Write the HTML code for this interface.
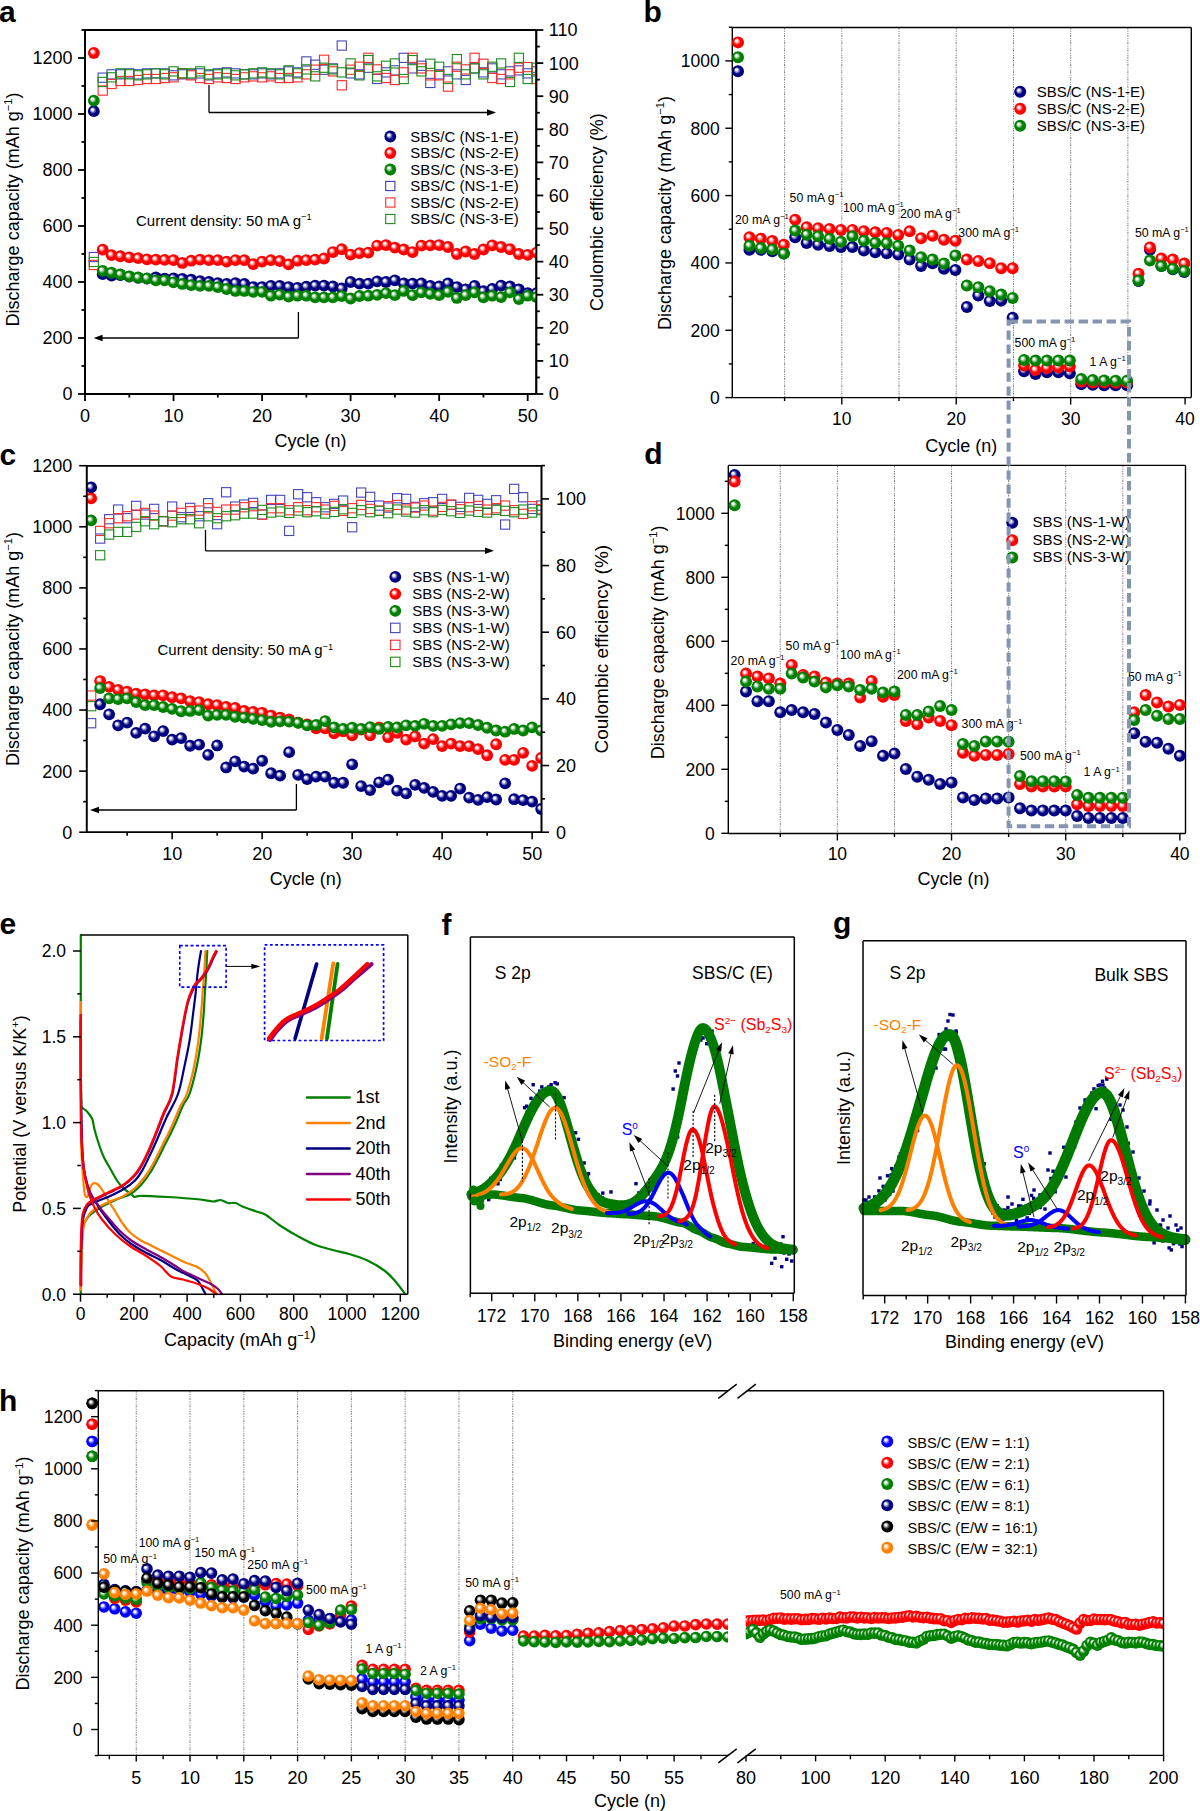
<!DOCTYPE html><html><head><meta charset="utf-8"><title>Figure</title><style>html,body{margin:0;padding:0;background:#fff;}body{width:1200px;height:1811px;overflow:hidden;font-family:"Liberation Sans", sans-serif;}svg{display:block;}</style></head><body><svg width="1200" height="1811" viewBox="0 0 1200 1811" font-family='"Liberation Sans", sans-serif'><defs><radialGradient id="g_red" cx="0.5" cy="0.5" r="0.5" fx="0.34" fy="0.34"><stop offset="0" stop-color="#ffffff"/><stop offset="0.15" stop-color="#ffffff"/><stop offset="0.58" stop-color="#ff0000"/><stop offset="1" stop-color="#ff0000"/></radialGradient><radialGradient id="g_green" cx="0.5" cy="0.5" r="0.5" fx="0.34" fy="0.34"><stop offset="0" stop-color="#ffffff"/><stop offset="0.15" stop-color="#ffffff"/><stop offset="0.58" stop-color="#008000"/><stop offset="1" stop-color="#008000"/></radialGradient><radialGradient id="g_navy" cx="0.5" cy="0.5" r="0.5" fx="0.34" fy="0.34"><stop offset="0" stop-color="#ffffff"/><stop offset="0.15" stop-color="#ffffff"/><stop offset="0.58" stop-color="#000080"/><stop offset="1" stop-color="#000080"/></radialGradient><radialGradient id="g_blue" cx="0.5" cy="0.5" r="0.5" fx="0.34" fy="0.34"><stop offset="0" stop-color="#ffffff"/><stop offset="0.15" stop-color="#ffffff"/><stop offset="0.58" stop-color="#0000ff"/><stop offset="1" stop-color="#0000ff"/></radialGradient><radialGradient id="g_black" cx="0.5" cy="0.5" r="0.5" fx="0.34" fy="0.34"><stop offset="0" stop-color="#ffffff"/><stop offset="0.15" stop-color="#ffffff"/><stop offset="0.58" stop-color="#000000"/><stop offset="1" stop-color="#000000"/></radialGradient><radialGradient id="g_orange" cx="0.5" cy="0.5" r="0.5" fx="0.34" fy="0.34"><stop offset="0" stop-color="#ffffff"/><stop offset="0.15" stop-color="#ffffff"/><stop offset="0.58" stop-color="#ff8000"/><stop offset="1" stop-color="#ff8000"/></radialGradient><clipPath id="clipA"><rect x="85" y="30" width="451.3" height="364"/></clipPath><clipPath id="clipC"><rect x="86.7" y="465.8" width="454.8" height="366.4"/></clipPath><clipPath id="clipL"><rect x="0" y="1390.8" width="728.0" height="364.60000000000014"/></clipPath><clipPath id="clipR"><rect x="745.8" y="1390.8" width="417.70000000000005" height="364.60000000000014"/></clipPath></defs><line x1="85" y1="30" x2="536.3" y2="30" stroke="#000" stroke-width="1.8" />
<line x1="85" y1="394" x2="536.3" y2="394" stroke="#000" stroke-width="1.8" />
<line x1="85" y1="30" x2="85" y2="394" stroke="#000" stroke-width="1.8" />
<line x1="536.3" y1="30" x2="536.3" y2="394" stroke="#000" stroke-width="1.8" />
<line x1="85" y1="394" x2="78" y2="394" stroke="#000" stroke-width="1.8" />
<text x="72.5" y="400.4" font-size="18" text-anchor="end" fill="#000" font-weight="normal" >0</text>
<line x1="85" y1="338" x2="78" y2="338" stroke="#000" stroke-width="1.8" />
<text x="72.5" y="344.4" font-size="18" text-anchor="end" fill="#000" font-weight="normal" >200</text>
<line x1="85" y1="282" x2="78" y2="282" stroke="#000" stroke-width="1.8" />
<text x="72.5" y="288.4" font-size="18" text-anchor="end" fill="#000" font-weight="normal" >400</text>
<line x1="85" y1="226" x2="78" y2="226" stroke="#000" stroke-width="1.8" />
<text x="72.5" y="232.4" font-size="18" text-anchor="end" fill="#000" font-weight="normal" >600</text>
<line x1="85" y1="170" x2="78" y2="170" stroke="#000" stroke-width="1.8" />
<text x="72.5" y="176.4" font-size="18" text-anchor="end" fill="#000" font-weight="normal" >800</text>
<line x1="85" y1="114" x2="78" y2="114" stroke="#000" stroke-width="1.8" />
<text x="72.5" y="120.4" font-size="18" text-anchor="end" fill="#000" font-weight="normal" >1000</text>
<line x1="85" y1="58" x2="78" y2="58" stroke="#000" stroke-width="1.8" />
<text x="72.5" y="64.4" font-size="18" text-anchor="end" fill="#000" font-weight="normal" >1200</text>
<line x1="85" y1="366" x2="81.5" y2="366" stroke="#000" stroke-width="1.8" />
<line x1="85" y1="310" x2="81.5" y2="310" stroke="#000" stroke-width="1.8" />
<line x1="85" y1="254" x2="81.5" y2="254" stroke="#000" stroke-width="1.8" />
<line x1="85" y1="198" x2="81.5" y2="198" stroke="#000" stroke-width="1.8" />
<line x1="85" y1="142" x2="81.5" y2="142" stroke="#000" stroke-width="1.8" />
<line x1="85" y1="86" x2="81.5" y2="86" stroke="#000" stroke-width="1.8" />
<line x1="85" y1="30" x2="81.5" y2="30" stroke="#000" stroke-width="1.8" />
<line x1="536.3" y1="394" x2="543.3" y2="394" stroke="#000" stroke-width="1.8" />
<text x="548.8" y="400.4" font-size="18" text-anchor="start" fill="#000" font-weight="normal" >0</text>
<line x1="536.3" y1="360.91" x2="543.3" y2="360.91" stroke="#000" stroke-width="1.8" />
<text x="548.8" y="367.31" font-size="18" text-anchor="start" fill="#000" font-weight="normal" >10</text>
<line x1="536.3" y1="327.82" x2="543.3" y2="327.82" stroke="#000" stroke-width="1.8" />
<text x="548.8" y="334.22" font-size="18" text-anchor="start" fill="#000" font-weight="normal" >20</text>
<line x1="536.3" y1="294.73" x2="543.3" y2="294.73" stroke="#000" stroke-width="1.8" />
<text x="548.8" y="301.13" font-size="18" text-anchor="start" fill="#000" font-weight="normal" >30</text>
<line x1="536.3" y1="261.64" x2="543.3" y2="261.64" stroke="#000" stroke-width="1.8" />
<text x="548.8" y="268.04" font-size="18" text-anchor="start" fill="#000" font-weight="normal" >40</text>
<line x1="536.3" y1="228.55" x2="543.3" y2="228.55" stroke="#000" stroke-width="1.8" />
<text x="548.8" y="234.95" font-size="18" text-anchor="start" fill="#000" font-weight="normal" >50</text>
<line x1="536.3" y1="195.46" x2="543.3" y2="195.46" stroke="#000" stroke-width="1.8" />
<text x="548.8" y="201.86" font-size="18" text-anchor="start" fill="#000" font-weight="normal" >60</text>
<line x1="536.3" y1="162.37" x2="543.3" y2="162.37" stroke="#000" stroke-width="1.8" />
<text x="548.8" y="168.77" font-size="18" text-anchor="start" fill="#000" font-weight="normal" >70</text>
<line x1="536.3" y1="129.28" x2="543.3" y2="129.28" stroke="#000" stroke-width="1.8" />
<text x="548.8" y="135.68" font-size="18" text-anchor="start" fill="#000" font-weight="normal" >80</text>
<line x1="536.3" y1="96.19" x2="543.3" y2="96.19" stroke="#000" stroke-width="1.8" />
<text x="548.8" y="102.59" font-size="18" text-anchor="start" fill="#000" font-weight="normal" >90</text>
<line x1="536.3" y1="63.1" x2="543.3" y2="63.1" stroke="#000" stroke-width="1.8" />
<text x="548.8" y="69.5" font-size="18" text-anchor="start" fill="#000" font-weight="normal" >100</text>
<line x1="536.3" y1="30.01" x2="543.3" y2="30.01" stroke="#000" stroke-width="1.8" />
<text x="548.8" y="36.41" font-size="18" text-anchor="start" fill="#000" font-weight="normal" >110</text>
<line x1="536.3" y1="377.45" x2="539.8" y2="377.45" stroke="#000" stroke-width="1.8" />
<line x1="536.3" y1="344.37" x2="539.8" y2="344.37" stroke="#000" stroke-width="1.8" />
<line x1="536.3" y1="311.27" x2="539.8" y2="311.27" stroke="#000" stroke-width="1.8" />
<line x1="536.3" y1="278.19" x2="539.8" y2="278.19" stroke="#000" stroke-width="1.8" />
<line x1="536.3" y1="245.09" x2="539.8" y2="245.09" stroke="#000" stroke-width="1.8" />
<line x1="536.3" y1="212" x2="539.8" y2="212" stroke="#000" stroke-width="1.8" />
<line x1="536.3" y1="178.91" x2="539.8" y2="178.91" stroke="#000" stroke-width="1.8" />
<line x1="536.3" y1="145.82" x2="539.8" y2="145.82" stroke="#000" stroke-width="1.8" />
<line x1="536.3" y1="112.74" x2="539.8" y2="112.74" stroke="#000" stroke-width="1.8" />
<line x1="536.3" y1="79.64" x2="539.8" y2="79.64" stroke="#000" stroke-width="1.8" />
<line x1="536.3" y1="46.56" x2="539.8" y2="46.56" stroke="#000" stroke-width="1.8" />
<line x1="85" y1="394" x2="85" y2="401" stroke="#000" stroke-width="1.8" />
<text x="85" y="421.5" font-size="18" text-anchor="middle" fill="#000" font-weight="normal" >0</text>
<line x1="173.54" y1="394" x2="173.54" y2="401" stroke="#000" stroke-width="1.8" />
<text x="173.54" y="421.5" font-size="18" text-anchor="middle" fill="#000" font-weight="normal" >10</text>
<line x1="262.08" y1="394" x2="262.08" y2="401" stroke="#000" stroke-width="1.8" />
<text x="262.08" y="421.5" font-size="18" text-anchor="middle" fill="#000" font-weight="normal" >20</text>
<line x1="350.62" y1="394" x2="350.62" y2="401" stroke="#000" stroke-width="1.8" />
<text x="350.62" y="421.5" font-size="18" text-anchor="middle" fill="#000" font-weight="normal" >30</text>
<line x1="439.16" y1="394" x2="439.16" y2="401" stroke="#000" stroke-width="1.8" />
<text x="439.16" y="421.5" font-size="18" text-anchor="middle" fill="#000" font-weight="normal" >40</text>
<line x1="527.7" y1="394" x2="527.7" y2="401" stroke="#000" stroke-width="1.8" />
<text x="527.7" y="421.5" font-size="18" text-anchor="middle" fill="#000" font-weight="normal" >50</text>
<line x1="129.27" y1="394" x2="129.27" y2="397.5" stroke="#000" stroke-width="1.8" />
<line x1="217.81" y1="394" x2="217.81" y2="397.5" stroke="#000" stroke-width="1.8" />
<line x1="306.35" y1="394" x2="306.35" y2="397.5" stroke="#000" stroke-width="1.8" />
<line x1="394.89" y1="394" x2="394.89" y2="397.5" stroke="#000" stroke-width="1.8" />
<line x1="483.43" y1="394" x2="483.43" y2="397.5" stroke="#000" stroke-width="1.8" />
<text x="310.5" y="446.5" font-size="18" text-anchor="middle" fill="#000" font-weight="normal" >Cycle (n)</text>
<text x="18.7" y="209.5" font-size="18" text-anchor="middle" fill="#000" font-weight="normal" transform="rotate(-90 18.7 209.5)" >Discharge capacity (mAh g<tspan font-size="11.16" dy="-6.84">−1</tspan><tspan dy="6.84">)</tspan></text>
<text x="603.5" y="212.2" font-size="18" text-anchor="middle" fill="#000" font-weight="normal" transform="rotate(-90 603.5 212.2)" >Coulombic efficiency (%)</text>
<text x="-1" y="22" font-size="30" text-anchor="start" fill="#000" font-weight="bold" >a</text>
<g clip-path="url(#clipA)">
<rect x="89.25" y="252.41" width="9.2" height="9.2" fill="none" stroke="#4646bb" stroke-width="1.1"/>
<rect x="98.11" y="73.06" width="9.2" height="9.2" fill="none" stroke="#4646bb" stroke-width="1.1"/>
<rect x="106.96" y="69.75" width="9.2" height="9.2" fill="none" stroke="#4646bb" stroke-width="1.1"/>
<rect x="115.82" y="69.75" width="9.2" height="9.2" fill="none" stroke="#4646bb" stroke-width="1.1"/>
<rect x="124.67" y="68.76" width="9.2" height="9.2" fill="none" stroke="#4646bb" stroke-width="1.1"/>
<rect x="133.52" y="69.75" width="9.2" height="9.2" fill="none" stroke="#4646bb" stroke-width="1.1"/>
<rect x="142.38" y="68.76" width="9.2" height="9.2" fill="none" stroke="#4646bb" stroke-width="1.1"/>
<rect x="151.23" y="68.76" width="9.2" height="9.2" fill="none" stroke="#4646bb" stroke-width="1.1"/>
<rect x="160.09" y="68.76" width="9.2" height="9.2" fill="none" stroke="#4646bb" stroke-width="1.1"/>
<rect x="168.94" y="70.74" width="9.2" height="9.2" fill="none" stroke="#4646bb" stroke-width="1.1"/>
<rect x="177.79" y="69.75" width="9.2" height="9.2" fill="none" stroke="#4646bb" stroke-width="1.1"/>
<rect x="186.65" y="69.75" width="9.2" height="9.2" fill="none" stroke="#4646bb" stroke-width="1.1"/>
<rect x="195.5" y="68.76" width="9.2" height="9.2" fill="none" stroke="#4646bb" stroke-width="1.1"/>
<rect x="204.36" y="70.74" width="9.2" height="9.2" fill="none" stroke="#4646bb" stroke-width="1.1"/>
<rect x="213.21" y="68.76" width="9.2" height="9.2" fill="none" stroke="#4646bb" stroke-width="1.1"/>
<rect x="222.06" y="67.77" width="9.2" height="9.2" fill="none" stroke="#4646bb" stroke-width="1.1"/>
<rect x="230.92" y="68.76" width="9.2" height="9.2" fill="none" stroke="#4646bb" stroke-width="1.1"/>
<rect x="239.77" y="69.75" width="9.2" height="9.2" fill="none" stroke="#4646bb" stroke-width="1.1"/>
<rect x="248.63" y="69.75" width="9.2" height="9.2" fill="none" stroke="#4646bb" stroke-width="1.1"/>
<rect x="257.48" y="68.76" width="9.2" height="9.2" fill="none" stroke="#4646bb" stroke-width="1.1"/>
<rect x="266.33" y="69.75" width="9.2" height="9.2" fill="none" stroke="#4646bb" stroke-width="1.1"/>
<rect x="275.19" y="68.76" width="9.2" height="9.2" fill="none" stroke="#4646bb" stroke-width="1.1"/>
<rect x="284.04" y="66.77" width="9.2" height="9.2" fill="none" stroke="#4646bb" stroke-width="1.1"/>
<rect x="292.9" y="67.77" width="9.2" height="9.2" fill="none" stroke="#4646bb" stroke-width="1.1"/>
<rect x="301.75" y="56.85" width="9.2" height="9.2" fill="none" stroke="#4646bb" stroke-width="1.1"/>
<rect x="310.6" y="60.15" width="9.2" height="9.2" fill="none" stroke="#4646bb" stroke-width="1.1"/>
<rect x="319.46" y="65.12" width="9.2" height="9.2" fill="none" stroke="#4646bb" stroke-width="1.1"/>
<rect x="328.31" y="63.79" width="9.2" height="9.2" fill="none" stroke="#4646bb" stroke-width="1.1"/>
<rect x="337.17" y="40.96" width="9.2" height="9.2" fill="none" stroke="#4646bb" stroke-width="1.1"/>
<rect x="346.02" y="68.76" width="9.2" height="9.2" fill="none" stroke="#4646bb" stroke-width="1.1"/>
<rect x="354.87" y="69.75" width="9.2" height="9.2" fill="none" stroke="#4646bb" stroke-width="1.1"/>
<rect x="363.73" y="63.13" width="9.2" height="9.2" fill="none" stroke="#4646bb" stroke-width="1.1"/>
<rect x="372.58" y="74.38" width="9.2" height="9.2" fill="none" stroke="#4646bb" stroke-width="1.1"/>
<rect x="381.44" y="67.77" width="9.2" height="9.2" fill="none" stroke="#4646bb" stroke-width="1.1"/>
<rect x="390.29" y="65.78" width="9.2" height="9.2" fill="none" stroke="#4646bb" stroke-width="1.1"/>
<rect x="399.14" y="53.21" width="9.2" height="9.2" fill="none" stroke="#4646bb" stroke-width="1.1"/>
<rect x="408" y="63.79" width="9.2" height="9.2" fill="none" stroke="#4646bb" stroke-width="1.1"/>
<rect x="416.85" y="61.15" width="9.2" height="9.2" fill="none" stroke="#4646bb" stroke-width="1.1"/>
<rect x="425.71" y="78.35" width="9.2" height="9.2" fill="none" stroke="#4646bb" stroke-width="1.1"/>
<rect x="434.56" y="69.75" width="9.2" height="9.2" fill="none" stroke="#4646bb" stroke-width="1.1"/>
<rect x="443.41" y="66.77" width="9.2" height="9.2" fill="none" stroke="#4646bb" stroke-width="1.1"/>
<rect x="452.27" y="69.75" width="9.2" height="9.2" fill="none" stroke="#4646bb" stroke-width="1.1"/>
<rect x="461.12" y="75.38" width="9.2" height="9.2" fill="none" stroke="#4646bb" stroke-width="1.1"/>
<rect x="469.98" y="63.79" width="9.2" height="9.2" fill="none" stroke="#4646bb" stroke-width="1.1"/>
<rect x="478.83" y="67.77" width="9.2" height="9.2" fill="none" stroke="#4646bb" stroke-width="1.1"/>
<rect x="487.68" y="63.79" width="9.2" height="9.2" fill="none" stroke="#4646bb" stroke-width="1.1"/>
<rect x="496.54" y="69.75" width="9.2" height="9.2" fill="none" stroke="#4646bb" stroke-width="1.1"/>
<rect x="505.39" y="66.77" width="9.2" height="9.2" fill="none" stroke="#4646bb" stroke-width="1.1"/>
<rect x="514.25" y="65.78" width="9.2" height="9.2" fill="none" stroke="#4646bb" stroke-width="1.1"/>
<rect x="523.1" y="68.76" width="9.2" height="9.2" fill="none" stroke="#4646bb" stroke-width="1.1"/>
<rect x="531.95" y="66.77" width="9.2" height="9.2" fill="none" stroke="#4646bb" stroke-width="1.1"/>
<rect x="89.25" y="260.35" width="9.2" height="9.2" fill="none" stroke="#ff2a2a" stroke-width="1.1"/>
<rect x="98.11" y="85.96" width="9.2" height="9.2" fill="none" stroke="#ff2a2a" stroke-width="1.1"/>
<rect x="106.96" y="79.35" width="9.2" height="9.2" fill="none" stroke="#ff2a2a" stroke-width="1.1"/>
<rect x="115.82" y="76.37" width="9.2" height="9.2" fill="none" stroke="#ff2a2a" stroke-width="1.1"/>
<rect x="124.67" y="76.37" width="9.2" height="9.2" fill="none" stroke="#ff2a2a" stroke-width="1.1"/>
<rect x="133.52" y="75.38" width="9.2" height="9.2" fill="none" stroke="#ff2a2a" stroke-width="1.1"/>
<rect x="142.38" y="74.38" width="9.2" height="9.2" fill="none" stroke="#ff2a2a" stroke-width="1.1"/>
<rect x="151.23" y="74.38" width="9.2" height="9.2" fill="none" stroke="#ff2a2a" stroke-width="1.1"/>
<rect x="160.09" y="73.39" width="9.2" height="9.2" fill="none" stroke="#ff2a2a" stroke-width="1.1"/>
<rect x="168.94" y="72.73" width="9.2" height="9.2" fill="none" stroke="#ff2a2a" stroke-width="1.1"/>
<rect x="177.79" y="68.76" width="9.2" height="9.2" fill="none" stroke="#ff2a2a" stroke-width="1.1"/>
<rect x="186.65" y="70.74" width="9.2" height="9.2" fill="none" stroke="#ff2a2a" stroke-width="1.1"/>
<rect x="195.5" y="73.39" width="9.2" height="9.2" fill="none" stroke="#ff2a2a" stroke-width="1.1"/>
<rect x="204.36" y="74.38" width="9.2" height="9.2" fill="none" stroke="#ff2a2a" stroke-width="1.1"/>
<rect x="213.21" y="72.73" width="9.2" height="9.2" fill="none" stroke="#ff2a2a" stroke-width="1.1"/>
<rect x="222.06" y="73.39" width="9.2" height="9.2" fill="none" stroke="#ff2a2a" stroke-width="1.1"/>
<rect x="230.92" y="74.38" width="9.2" height="9.2" fill="none" stroke="#ff2a2a" stroke-width="1.1"/>
<rect x="239.77" y="72.73" width="9.2" height="9.2" fill="none" stroke="#ff2a2a" stroke-width="1.1"/>
<rect x="248.63" y="71.74" width="9.2" height="9.2" fill="none" stroke="#ff2a2a" stroke-width="1.1"/>
<rect x="257.48" y="72.73" width="9.2" height="9.2" fill="none" stroke="#ff2a2a" stroke-width="1.1"/>
<rect x="266.33" y="71.74" width="9.2" height="9.2" fill="none" stroke="#ff2a2a" stroke-width="1.1"/>
<rect x="275.19" y="73.39" width="9.2" height="9.2" fill="none" stroke="#ff2a2a" stroke-width="1.1"/>
<rect x="284.04" y="73.39" width="9.2" height="9.2" fill="none" stroke="#ff2a2a" stroke-width="1.1"/>
<rect x="292.9" y="72.73" width="9.2" height="9.2" fill="none" stroke="#ff2a2a" stroke-width="1.1"/>
<rect x="301.75" y="69.75" width="9.2" height="9.2" fill="none" stroke="#ff2a2a" stroke-width="1.1"/>
<rect x="310.6" y="65.12" width="9.2" height="9.2" fill="none" stroke="#ff2a2a" stroke-width="1.1"/>
<rect x="319.46" y="55.19" width="9.2" height="9.2" fill="none" stroke="#ff2a2a" stroke-width="1.1"/>
<rect x="328.31" y="66.77" width="9.2" height="9.2" fill="none" stroke="#ff2a2a" stroke-width="1.1"/>
<rect x="337.17" y="80.67" width="9.2" height="9.2" fill="none" stroke="#ff2a2a" stroke-width="1.1"/>
<rect x="346.02" y="65.12" width="9.2" height="9.2" fill="none" stroke="#ff2a2a" stroke-width="1.1"/>
<rect x="354.87" y="62.14" width="9.2" height="9.2" fill="none" stroke="#ff2a2a" stroke-width="1.1"/>
<rect x="363.73" y="53.21" width="9.2" height="9.2" fill="none" stroke="#ff2a2a" stroke-width="1.1"/>
<rect x="372.58" y="64.79" width="9.2" height="9.2" fill="none" stroke="#ff2a2a" stroke-width="1.1"/>
<rect x="381.44" y="73.39" width="9.2" height="9.2" fill="none" stroke="#ff2a2a" stroke-width="1.1"/>
<rect x="390.29" y="75.38" width="9.2" height="9.2" fill="none" stroke="#ff2a2a" stroke-width="1.1"/>
<rect x="399.14" y="67.77" width="9.2" height="9.2" fill="none" stroke="#ff2a2a" stroke-width="1.1"/>
<rect x="408" y="53.21" width="9.2" height="9.2" fill="none" stroke="#ff2a2a" stroke-width="1.1"/>
<rect x="416.85" y="63.79" width="9.2" height="9.2" fill="none" stroke="#ff2a2a" stroke-width="1.1"/>
<rect x="425.71" y="70.74" width="9.2" height="9.2" fill="none" stroke="#ff2a2a" stroke-width="1.1"/>
<rect x="434.56" y="70.74" width="9.2" height="9.2" fill="none" stroke="#ff2a2a" stroke-width="1.1"/>
<rect x="443.41" y="81.99" width="9.2" height="9.2" fill="none" stroke="#ff2a2a" stroke-width="1.1"/>
<rect x="452.27" y="62.14" width="9.2" height="9.2" fill="none" stroke="#ff2a2a" stroke-width="1.1"/>
<rect x="461.12" y="64.79" width="9.2" height="9.2" fill="none" stroke="#ff2a2a" stroke-width="1.1"/>
<rect x="469.98" y="53.21" width="9.2" height="9.2" fill="none" stroke="#ff2a2a" stroke-width="1.1"/>
<rect x="478.83" y="59.16" width="9.2" height="9.2" fill="none" stroke="#ff2a2a" stroke-width="1.1"/>
<rect x="487.68" y="73.39" width="9.2" height="9.2" fill="none" stroke="#ff2a2a" stroke-width="1.1"/>
<rect x="496.54" y="74.38" width="9.2" height="9.2" fill="none" stroke="#ff2a2a" stroke-width="1.1"/>
<rect x="505.39" y="69.75" width="9.2" height="9.2" fill="none" stroke="#ff2a2a" stroke-width="1.1"/>
<rect x="514.25" y="63.13" width="9.2" height="9.2" fill="none" stroke="#ff2a2a" stroke-width="1.1"/>
<rect x="523.1" y="62.47" width="9.2" height="9.2" fill="none" stroke="#ff2a2a" stroke-width="1.1"/>
<rect x="531.95" y="74.38" width="9.2" height="9.2" fill="none" stroke="#ff2a2a" stroke-width="1.1"/>
<rect x="89.25" y="257.37" width="9.2" height="9.2" fill="none" stroke="#1e8c1e" stroke-width="1.1"/>
<rect x="98.11" y="77.36" width="9.2" height="9.2" fill="none" stroke="#1e8c1e" stroke-width="1.1"/>
<rect x="106.96" y="72.73" width="9.2" height="9.2" fill="none" stroke="#1e8c1e" stroke-width="1.1"/>
<rect x="115.82" y="68.76" width="9.2" height="9.2" fill="none" stroke="#1e8c1e" stroke-width="1.1"/>
<rect x="124.67" y="69.75" width="9.2" height="9.2" fill="none" stroke="#1e8c1e" stroke-width="1.1"/>
<rect x="133.52" y="70.74" width="9.2" height="9.2" fill="none" stroke="#1e8c1e" stroke-width="1.1"/>
<rect x="142.38" y="69.75" width="9.2" height="9.2" fill="none" stroke="#1e8c1e" stroke-width="1.1"/>
<rect x="151.23" y="68.76" width="9.2" height="9.2" fill="none" stroke="#1e8c1e" stroke-width="1.1"/>
<rect x="160.09" y="69.75" width="9.2" height="9.2" fill="none" stroke="#1e8c1e" stroke-width="1.1"/>
<rect x="168.94" y="66.77" width="9.2" height="9.2" fill="none" stroke="#1e8c1e" stroke-width="1.1"/>
<rect x="177.79" y="68.76" width="9.2" height="9.2" fill="none" stroke="#1e8c1e" stroke-width="1.1"/>
<rect x="186.65" y="68.76" width="9.2" height="9.2" fill="none" stroke="#1e8c1e" stroke-width="1.1"/>
<rect x="195.5" y="66.77" width="9.2" height="9.2" fill="none" stroke="#1e8c1e" stroke-width="1.1"/>
<rect x="204.36" y="69.75" width="9.2" height="9.2" fill="none" stroke="#1e8c1e" stroke-width="1.1"/>
<rect x="213.21" y="69.75" width="9.2" height="9.2" fill="none" stroke="#1e8c1e" stroke-width="1.1"/>
<rect x="222.06" y="68.76" width="9.2" height="9.2" fill="none" stroke="#1e8c1e" stroke-width="1.1"/>
<rect x="230.92" y="70.74" width="9.2" height="9.2" fill="none" stroke="#1e8c1e" stroke-width="1.1"/>
<rect x="239.77" y="69.75" width="9.2" height="9.2" fill="none" stroke="#1e8c1e" stroke-width="1.1"/>
<rect x="248.63" y="68.76" width="9.2" height="9.2" fill="none" stroke="#1e8c1e" stroke-width="1.1"/>
<rect x="257.48" y="67.77" width="9.2" height="9.2" fill="none" stroke="#1e8c1e" stroke-width="1.1"/>
<rect x="266.33" y="68.76" width="9.2" height="9.2" fill="none" stroke="#1e8c1e" stroke-width="1.1"/>
<rect x="275.19" y="69.75" width="9.2" height="9.2" fill="none" stroke="#1e8c1e" stroke-width="1.1"/>
<rect x="284.04" y="65.78" width="9.2" height="9.2" fill="none" stroke="#1e8c1e" stroke-width="1.1"/>
<rect x="292.9" y="68.76" width="9.2" height="9.2" fill="none" stroke="#1e8c1e" stroke-width="1.1"/>
<rect x="301.75" y="64.79" width="9.2" height="9.2" fill="none" stroke="#1e8c1e" stroke-width="1.1"/>
<rect x="310.6" y="71.74" width="9.2" height="9.2" fill="none" stroke="#1e8c1e" stroke-width="1.1"/>
<rect x="319.46" y="63.13" width="9.2" height="9.2" fill="none" stroke="#1e8c1e" stroke-width="1.1"/>
<rect x="328.31" y="64.79" width="9.2" height="9.2" fill="none" stroke="#1e8c1e" stroke-width="1.1"/>
<rect x="337.17" y="67.77" width="9.2" height="9.2" fill="none" stroke="#1e8c1e" stroke-width="1.1"/>
<rect x="346.02" y="58.83" width="9.2" height="9.2" fill="none" stroke="#1e8c1e" stroke-width="1.1"/>
<rect x="354.87" y="70.74" width="9.2" height="9.2" fill="none" stroke="#1e8c1e" stroke-width="1.1"/>
<rect x="363.73" y="55.52" width="9.2" height="9.2" fill="none" stroke="#1e8c1e" stroke-width="1.1"/>
<rect x="372.58" y="71.74" width="9.2" height="9.2" fill="none" stroke="#1e8c1e" stroke-width="1.1"/>
<rect x="381.44" y="61.15" width="9.2" height="9.2" fill="none" stroke="#1e8c1e" stroke-width="1.1"/>
<rect x="390.29" y="58.83" width="9.2" height="9.2" fill="none" stroke="#1e8c1e" stroke-width="1.1"/>
<rect x="399.14" y="74.38" width="9.2" height="9.2" fill="none" stroke="#1e8c1e" stroke-width="1.1"/>
<rect x="408" y="55.52" width="9.2" height="9.2" fill="none" stroke="#1e8c1e" stroke-width="1.1"/>
<rect x="416.85" y="66.77" width="9.2" height="9.2" fill="none" stroke="#1e8c1e" stroke-width="1.1"/>
<rect x="425.71" y="59.16" width="9.2" height="9.2" fill="none" stroke="#1e8c1e" stroke-width="1.1"/>
<rect x="434.56" y="62.14" width="9.2" height="9.2" fill="none" stroke="#1e8c1e" stroke-width="1.1"/>
<rect x="443.41" y="74.38" width="9.2" height="9.2" fill="none" stroke="#1e8c1e" stroke-width="1.1"/>
<rect x="452.27" y="54.53" width="9.2" height="9.2" fill="none" stroke="#1e8c1e" stroke-width="1.1"/>
<rect x="461.12" y="69.75" width="9.2" height="9.2" fill="none" stroke="#1e8c1e" stroke-width="1.1"/>
<rect x="469.98" y="63.79" width="9.2" height="9.2" fill="none" stroke="#1e8c1e" stroke-width="1.1"/>
<rect x="478.83" y="69.75" width="9.2" height="9.2" fill="none" stroke="#1e8c1e" stroke-width="1.1"/>
<rect x="487.68" y="62.14" width="9.2" height="9.2" fill="none" stroke="#1e8c1e" stroke-width="1.1"/>
<rect x="496.54" y="58.83" width="9.2" height="9.2" fill="none" stroke="#1e8c1e" stroke-width="1.1"/>
<rect x="505.39" y="77.36" width="9.2" height="9.2" fill="none" stroke="#1e8c1e" stroke-width="1.1"/>
<rect x="514.25" y="53.21" width="9.2" height="9.2" fill="none" stroke="#1e8c1e" stroke-width="1.1"/>
<rect x="523.1" y="74.38" width="9.2" height="9.2" fill="none" stroke="#1e8c1e" stroke-width="1.1"/>
<rect x="531.95" y="63.13" width="9.2" height="9.2" fill="none" stroke="#1e8c1e" stroke-width="1.1"/>
<circle cx="93.85" cy="111.2" r="5.9" fill="url(#g_navy)"/>
<circle cx="102.71" cy="274.16" r="5.9" fill="url(#g_navy)"/>
<circle cx="111.56" cy="275.56" r="5.9" fill="url(#g_navy)"/>
<circle cx="120.42" cy="275" r="5.9" fill="url(#g_navy)"/>
<circle cx="129.27" cy="276.68" r="5.9" fill="url(#g_navy)"/>
<circle cx="138.12" cy="277.8" r="5.9" fill="url(#g_navy)"/>
<circle cx="146.98" cy="278.64" r="5.9" fill="url(#g_navy)"/>
<circle cx="155.83" cy="277.52" r="5.9" fill="url(#g_navy)"/>
<circle cx="164.69" cy="278.64" r="5.9" fill="url(#g_navy)"/>
<circle cx="173.54" cy="278.36" r="5.9" fill="url(#g_navy)"/>
<circle cx="182.39" cy="278.92" r="5.9" fill="url(#g_navy)"/>
<circle cx="191.25" cy="279.76" r="5.9" fill="url(#g_navy)"/>
<circle cx="200.1" cy="281.16" r="5.9" fill="url(#g_navy)"/>
<circle cx="208.96" cy="282" r="5.9" fill="url(#g_navy)"/>
<circle cx="217.81" cy="283.12" r="5.9" fill="url(#g_navy)"/>
<circle cx="226.66" cy="283.96" r="5.9" fill="url(#g_navy)"/>
<circle cx="235.52" cy="283.12" r="5.9" fill="url(#g_navy)"/>
<circle cx="244.37" cy="283.96" r="5.9" fill="url(#g_navy)"/>
<circle cx="253.23" cy="287.04" r="5.9" fill="url(#g_navy)"/>
<circle cx="262.08" cy="287.04" r="5.9" fill="url(#g_navy)"/>
<circle cx="270.93" cy="285.92" r="5.9" fill="url(#g_navy)"/>
<circle cx="279.79" cy="285.92" r="5.9" fill="url(#g_navy)"/>
<circle cx="288.64" cy="287.04" r="5.9" fill="url(#g_navy)"/>
<circle cx="297.5" cy="287.88" r="5.9" fill="url(#g_navy)"/>
<circle cx="306.35" cy="286.76" r="5.9" fill="url(#g_navy)"/>
<circle cx="315.2" cy="285.64" r="5.9" fill="url(#g_navy)"/>
<circle cx="324.06" cy="285.64" r="5.9" fill="url(#g_navy)"/>
<circle cx="332.91" cy="286.48" r="5.9" fill="url(#g_navy)"/>
<circle cx="341.77" cy="288.44" r="5.9" fill="url(#g_navy)"/>
<circle cx="350.62" cy="282" r="5.9" fill="url(#g_navy)"/>
<circle cx="359.47" cy="283.68" r="5.9" fill="url(#g_navy)"/>
<circle cx="368.33" cy="283.68" r="5.9" fill="url(#g_navy)"/>
<circle cx="377.18" cy="281.44" r="5.9" fill="url(#g_navy)"/>
<circle cx="386.04" cy="282" r="5.9" fill="url(#g_navy)"/>
<circle cx="394.89" cy="280.32" r="5.9" fill="url(#g_navy)"/>
<circle cx="403.74" cy="283.4" r="5.9" fill="url(#g_navy)"/>
<circle cx="412.6" cy="283.68" r="5.9" fill="url(#g_navy)"/>
<circle cx="421.45" cy="283.4" r="5.9" fill="url(#g_navy)"/>
<circle cx="430.31" cy="285.92" r="5.9" fill="url(#g_navy)"/>
<circle cx="439.16" cy="286.48" r="5.9" fill="url(#g_navy)"/>
<circle cx="448.01" cy="283.4" r="5.9" fill="url(#g_navy)"/>
<circle cx="456.87" cy="287.04" r="5.9" fill="url(#g_navy)"/>
<circle cx="465.72" cy="289.28" r="5.9" fill="url(#g_navy)"/>
<circle cx="474.58" cy="285.92" r="5.9" fill="url(#g_navy)"/>
<circle cx="483.43" cy="291.24" r="5.9" fill="url(#g_navy)"/>
<circle cx="492.28" cy="289" r="5.9" fill="url(#g_navy)"/>
<circle cx="501.14" cy="285.64" r="5.9" fill="url(#g_navy)"/>
<circle cx="509.99" cy="286.48" r="5.9" fill="url(#g_navy)"/>
<circle cx="518.85" cy="289.28" r="5.9" fill="url(#g_navy)"/>
<circle cx="527.7" cy="293.2" r="5.9" fill="url(#g_navy)"/>
<circle cx="536.55" cy="293.2" r="5.9" fill="url(#g_navy)"/>
<circle cx="93.85" cy="52.96" r="5.9" fill="url(#g_red)"/>
<circle cx="102.71" cy="249.6" r="5.9" fill="url(#g_red)"/>
<circle cx="111.56" cy="255.12" r="5.9" fill="url(#g_red)"/>
<circle cx="120.42" cy="256.24" r="5.9" fill="url(#g_red)"/>
<circle cx="129.27" cy="257.36" r="5.9" fill="url(#g_red)"/>
<circle cx="138.12" cy="258.2" r="5.9" fill="url(#g_red)"/>
<circle cx="146.98" cy="259.32" r="5.9" fill="url(#g_red)"/>
<circle cx="155.83" cy="259.6" r="5.9" fill="url(#g_red)"/>
<circle cx="164.69" cy="259.88" r="5.9" fill="url(#g_red)"/>
<circle cx="173.54" cy="260.16" r="5.9" fill="url(#g_red)"/>
<circle cx="182.39" cy="262.96" r="5.9" fill="url(#g_red)"/>
<circle cx="191.25" cy="260.72" r="5.9" fill="url(#g_red)"/>
<circle cx="200.1" cy="259.6" r="5.9" fill="url(#g_red)"/>
<circle cx="208.96" cy="260.16" r="5.9" fill="url(#g_red)"/>
<circle cx="217.81" cy="260.16" r="5.9" fill="url(#g_red)"/>
<circle cx="226.66" cy="261.56" r="5.9" fill="url(#g_red)"/>
<circle cx="235.52" cy="260.16" r="5.9" fill="url(#g_red)"/>
<circle cx="244.37" cy="260.16" r="5.9" fill="url(#g_red)"/>
<circle cx="253.23" cy="264.08" r="5.9" fill="url(#g_red)"/>
<circle cx="262.08" cy="261.56" r="5.9" fill="url(#g_red)"/>
<circle cx="270.93" cy="260.16" r="5.9" fill="url(#g_red)"/>
<circle cx="279.79" cy="261" r="5.9" fill="url(#g_red)"/>
<circle cx="288.64" cy="264.36" r="5.9" fill="url(#g_red)"/>
<circle cx="297.5" cy="260.72" r="5.9" fill="url(#g_red)"/>
<circle cx="306.35" cy="260.16" r="5.9" fill="url(#g_red)"/>
<circle cx="315.2" cy="259.6" r="5.9" fill="url(#g_red)"/>
<circle cx="324.06" cy="258.48" r="5.9" fill="url(#g_red)"/>
<circle cx="332.91" cy="252.04" r="5.9" fill="url(#g_red)"/>
<circle cx="341.77" cy="249.24" r="5.9" fill="url(#g_red)"/>
<circle cx="350.62" cy="254.56" r="5.9" fill="url(#g_red)"/>
<circle cx="359.47" cy="253.16" r="5.9" fill="url(#g_red)"/>
<circle cx="368.33" cy="252.6" r="5.9" fill="url(#g_red)"/>
<circle cx="377.18" cy="245.6" r="5.9" fill="url(#g_red)"/>
<circle cx="386.04" cy="245.04" r="5.9" fill="url(#g_red)"/>
<circle cx="394.89" cy="247.56" r="5.9" fill="url(#g_red)"/>
<circle cx="403.74" cy="249.52" r="5.9" fill="url(#g_red)"/>
<circle cx="412.6" cy="252.04" r="5.9" fill="url(#g_red)"/>
<circle cx="421.45" cy="245.6" r="5.9" fill="url(#g_red)"/>
<circle cx="430.31" cy="245.32" r="5.9" fill="url(#g_red)"/>
<circle cx="439.16" cy="245.04" r="5.9" fill="url(#g_red)"/>
<circle cx="448.01" cy="247" r="5.9" fill="url(#g_red)"/>
<circle cx="456.87" cy="254" r="5.9" fill="url(#g_red)"/>
<circle cx="465.72" cy="251.48" r="5.9" fill="url(#g_red)"/>
<circle cx="474.58" cy="254" r="5.9" fill="url(#g_red)"/>
<circle cx="483.43" cy="249.52" r="5.9" fill="url(#g_red)"/>
<circle cx="492.28" cy="245.32" r="5.9" fill="url(#g_red)"/>
<circle cx="501.14" cy="247" r="5.9" fill="url(#g_red)"/>
<circle cx="509.99" cy="249.24" r="5.9" fill="url(#g_red)"/>
<circle cx="518.85" cy="254" r="5.9" fill="url(#g_red)"/>
<circle cx="527.7" cy="254.84" r="5.9" fill="url(#g_red)"/>
<circle cx="536.55" cy="252.6" r="5.9" fill="url(#g_red)"/>
<circle cx="93.85" cy="100.56" r="5.9" fill="url(#g_green)"/>
<circle cx="102.71" cy="270.8" r="5.9" fill="url(#g_green)"/>
<circle cx="111.56" cy="272.76" r="5.9" fill="url(#g_green)"/>
<circle cx="120.42" cy="274.44" r="5.9" fill="url(#g_green)"/>
<circle cx="129.27" cy="276.4" r="5.9" fill="url(#g_green)"/>
<circle cx="138.12" cy="277.52" r="5.9" fill="url(#g_green)"/>
<circle cx="146.98" cy="278.36" r="5.9" fill="url(#g_green)"/>
<circle cx="155.83" cy="280.32" r="5.9" fill="url(#g_green)"/>
<circle cx="164.69" cy="280.32" r="5.9" fill="url(#g_green)"/>
<circle cx="173.54" cy="282.28" r="5.9" fill="url(#g_green)"/>
<circle cx="182.39" cy="283.96" r="5.9" fill="url(#g_green)"/>
<circle cx="191.25" cy="285.08" r="5.9" fill="url(#g_green)"/>
<circle cx="200.1" cy="285.92" r="5.9" fill="url(#g_green)"/>
<circle cx="208.96" cy="285.92" r="5.9" fill="url(#g_green)"/>
<circle cx="217.81" cy="287.04" r="5.9" fill="url(#g_green)"/>
<circle cx="226.66" cy="289" r="5.9" fill="url(#g_green)"/>
<circle cx="235.52" cy="290.96" r="5.9" fill="url(#g_green)"/>
<circle cx="244.37" cy="290.96" r="5.9" fill="url(#g_green)"/>
<circle cx="253.23" cy="291.8" r="5.9" fill="url(#g_green)"/>
<circle cx="262.08" cy="291.8" r="5.9" fill="url(#g_green)"/>
<circle cx="270.93" cy="295.72" r="5.9" fill="url(#g_green)"/>
<circle cx="279.79" cy="294.6" r="5.9" fill="url(#g_green)"/>
<circle cx="288.64" cy="296.56" r="5.9" fill="url(#g_green)"/>
<circle cx="297.5" cy="295.72" r="5.9" fill="url(#g_green)"/>
<circle cx="306.35" cy="295.72" r="5.9" fill="url(#g_green)"/>
<circle cx="315.2" cy="297.4" r="5.9" fill="url(#g_green)"/>
<circle cx="324.06" cy="297.4" r="5.9" fill="url(#g_green)"/>
<circle cx="332.91" cy="297.4" r="5.9" fill="url(#g_green)"/>
<circle cx="341.77" cy="296" r="5.9" fill="url(#g_green)"/>
<circle cx="350.62" cy="298.52" r="5.9" fill="url(#g_green)"/>
<circle cx="359.47" cy="296" r="5.9" fill="url(#g_green)"/>
<circle cx="368.33" cy="295.72" r="5.9" fill="url(#g_green)"/>
<circle cx="377.18" cy="294.88" r="5.9" fill="url(#g_green)"/>
<circle cx="386.04" cy="293.2" r="5.9" fill="url(#g_green)"/>
<circle cx="394.89" cy="295.16" r="5.9" fill="url(#g_green)"/>
<circle cx="403.74" cy="290.96" r="5.9" fill="url(#g_green)"/>
<circle cx="412.6" cy="295.16" r="5.9" fill="url(#g_green)"/>
<circle cx="421.45" cy="292.36" r="5.9" fill="url(#g_green)"/>
<circle cx="430.31" cy="293.76" r="5.9" fill="url(#g_green)"/>
<circle cx="439.16" cy="295.16" r="5.9" fill="url(#g_green)"/>
<circle cx="448.01" cy="291.8" r="5.9" fill="url(#g_green)"/>
<circle cx="456.87" cy="297.96" r="5.9" fill="url(#g_green)"/>
<circle cx="465.72" cy="295.16" r="5.9" fill="url(#g_green)"/>
<circle cx="474.58" cy="292.36" r="5.9" fill="url(#g_green)"/>
<circle cx="483.43" cy="297.4" r="5.9" fill="url(#g_green)"/>
<circle cx="492.28" cy="295.72" r="5.9" fill="url(#g_green)"/>
<circle cx="501.14" cy="297.12" r="5.9" fill="url(#g_green)"/>
<circle cx="509.99" cy="292.36" r="5.9" fill="url(#g_green)"/>
<circle cx="518.85" cy="299.08" r="5.9" fill="url(#g_green)"/>
<circle cx="527.7" cy="295.72" r="5.9" fill="url(#g_green)"/>
<circle cx="536.55" cy="297.12" r="5.9" fill="url(#g_green)"/>
</g>
<line x1="85" y1="30" x2="536.3" y2="30" stroke="#000" stroke-width="1.8" />
<line x1="85" y1="394" x2="536.3" y2="394" stroke="#000" stroke-width="1.8" />
<line x1="85" y1="30" x2="85" y2="394" stroke="#000" stroke-width="1.8" />
<line x1="536.3" y1="30" x2="536.3" y2="394" stroke="#000" stroke-width="1.8" />
<line x1="209" y1="85" x2="209" y2="112.5" stroke="#000" stroke-width="1.3" />
<line x1="209" y1="112.5" x2="488" y2="112.5" stroke="#000" stroke-width="1.3" />
<polygon points="496,112.5 487,115.7 487,109.3" fill="#000"/>
<line x1="298.4" y1="312" x2="298.4" y2="338" stroke="#000" stroke-width="1.3" />
<line x1="298.4" y1="338" x2="102" y2="338" stroke="#000" stroke-width="1.3" />
<polygon points="93.6,338 102.6,334.8 102.6,341.2" fill="#000"/>
<circle cx="390.3" cy="136.5" r="5.9" fill="url(#g_navy)"/>
<text x="410.3" y="141.5" font-size="15" text-anchor="start" fill="#000" font-weight="normal" >SBS/C (NS-1-E)</text>
<circle cx="390.3" cy="153" r="5.9" fill="url(#g_red)"/>
<text x="410.3" y="158" font-size="15" text-anchor="start" fill="#000" font-weight="normal" >SBS/C (NS-2-E)</text>
<circle cx="390.3" cy="169.5" r="5.9" fill="url(#g_green)"/>
<text x="410.3" y="174.5" font-size="15" text-anchor="start" fill="#000" font-weight="normal" >SBS/C (NS-3-E)</text>
<rect x="385.7" y="181.4" width="9.2" height="9.2" fill="none" stroke="#3b3bb0" stroke-width="1.1"/>
<text x="410.3" y="191" font-size="15" text-anchor="start" fill="#000" font-weight="normal" >SBS/C (NS-1-E)</text>
<rect x="385.7" y="197.9" width="9.2" height="9.2" fill="none" stroke="#ff2a2a" stroke-width="1.1"/>
<text x="410.3" y="207.5" font-size="15" text-anchor="start" fill="#000" font-weight="normal" >SBS/C (NS-2-E)</text>
<rect x="385.7" y="214.4" width="9.2" height="9.2" fill="none" stroke="#1e8c1e" stroke-width="1.1"/>
<text x="410.3" y="224" font-size="15" text-anchor="start" fill="#000" font-weight="normal" >SBS/C (NS-3-E)</text>
<text x="136" y="226" font-size="15" text-anchor="start" fill="#000" font-weight="normal" >Current density: 50 mA g<tspan font-size="9.3" dy="-5.7">−1</tspan></text>
<line x1="784.59" y1="27.5" x2="784.59" y2="397.6" stroke="#666" stroke-width="0.85" stroke-dasharray="2,1.3,1,1.3,1,0.7"/>
<line x1="841.8" y1="27.5" x2="841.8" y2="397.6" stroke="#666" stroke-width="0.85" stroke-dasharray="2,1.3,1,1.3,1,0.7"/>
<line x1="899.01" y1="27.5" x2="899.01" y2="397.6" stroke="#666" stroke-width="0.85" stroke-dasharray="2,1.3,1,1.3,1,0.7"/>
<line x1="956.23" y1="27.5" x2="956.23" y2="397.6" stroke="#666" stroke-width="0.85" stroke-dasharray="2,1.3,1,1.3,1,0.7"/>
<line x1="1013.44" y1="27.5" x2="1013.44" y2="397.6" stroke="#666" stroke-width="0.85" stroke-dasharray="2,1.3,1,1.3,1,0.7"/>
<line x1="1070.66" y1="27.5" x2="1070.66" y2="397.6" stroke="#666" stroke-width="0.85" stroke-dasharray="2,1.3,1,1.3,1,0.7"/>
<line x1="1127.88" y1="27.5" x2="1127.88" y2="397.6" stroke="#666" stroke-width="0.85" stroke-dasharray="2,1.3,1,1.3,1,0.7"/>
<line x1="732.3" y1="27.5" x2="1191.3" y2="27.5" stroke="#000" stroke-width="1.4" />
<line x1="732.3" y1="397.6" x2="1191.3" y2="397.6" stroke="#000" stroke-width="1.4" />
<line x1="732.3" y1="27.5" x2="732.3" y2="397.6" stroke="#000" stroke-width="1.4" />
<line x1="1191.3" y1="27.5" x2="1191.3" y2="397.6" stroke="#000" stroke-width="1.4" />
<line x1="732.3" y1="397.6" x2="725.3" y2="397.6" stroke="#000" stroke-width="1.4" />
<text x="719.8" y="404" font-size="17.5" text-anchor="end" fill="#000" font-weight="normal" >0</text>
<line x1="732.3" y1="330.26" x2="725.3" y2="330.26" stroke="#000" stroke-width="1.4" />
<text x="719.8" y="336.66" font-size="17.5" text-anchor="end" fill="#000" font-weight="normal" >200</text>
<line x1="732.3" y1="262.92" x2="725.3" y2="262.92" stroke="#000" stroke-width="1.4" />
<text x="719.8" y="269.32" font-size="17.5" text-anchor="end" fill="#000" font-weight="normal" >400</text>
<line x1="732.3" y1="195.58" x2="725.3" y2="195.58" stroke="#000" stroke-width="1.4" />
<text x="719.8" y="201.98" font-size="17.5" text-anchor="end" fill="#000" font-weight="normal" >600</text>
<line x1="732.3" y1="128.24" x2="725.3" y2="128.24" stroke="#000" stroke-width="1.4" />
<text x="719.8" y="134.64" font-size="17.5" text-anchor="end" fill="#000" font-weight="normal" >800</text>
<line x1="732.3" y1="60.9" x2="725.3" y2="60.9" stroke="#000" stroke-width="1.4" />
<text x="719.8" y="67.3" font-size="17.5" text-anchor="end" fill="#000" font-weight="normal" >1000</text>
<line x1="732.3" y1="363.93" x2="728.8" y2="363.93" stroke="#000" stroke-width="1.4" />
<line x1="732.3" y1="296.59" x2="728.8" y2="296.59" stroke="#000" stroke-width="1.4" />
<line x1="732.3" y1="229.25" x2="728.8" y2="229.25" stroke="#000" stroke-width="1.4" />
<line x1="732.3" y1="161.91" x2="728.8" y2="161.91" stroke="#000" stroke-width="1.4" />
<line x1="732.3" y1="94.57" x2="728.8" y2="94.57" stroke="#000" stroke-width="1.4" />
<line x1="732.3" y1="27.23" x2="728.8" y2="27.23" stroke="#000" stroke-width="1.4" />
<line x1="841.8" y1="397.6" x2="841.8" y2="404.6" stroke="#000" stroke-width="1.4" />
<text x="841.8" y="425" font-size="17.5" text-anchor="middle" fill="#000" font-weight="normal" >10</text>
<line x1="956.23" y1="397.6" x2="956.23" y2="404.6" stroke="#000" stroke-width="1.4" />
<text x="956.23" y="425" font-size="17.5" text-anchor="middle" fill="#000" font-weight="normal" >20</text>
<line x1="1070.66" y1="397.6" x2="1070.66" y2="404.6" stroke="#000" stroke-width="1.4" />
<text x="1070.66" y="425" font-size="17.5" text-anchor="middle" fill="#000" font-weight="normal" >30</text>
<line x1="1185.09" y1="397.6" x2="1185.09" y2="404.6" stroke="#000" stroke-width="1.4" />
<text x="1185.09" y="425" font-size="17.5" text-anchor="middle" fill="#000" font-weight="normal" >40</text>
<line x1="784.59" y1="397.6" x2="784.59" y2="401.1" stroke="#000" stroke-width="1.4" />
<line x1="899.01" y1="397.6" x2="899.01" y2="401.1" stroke="#000" stroke-width="1.4" />
<line x1="1013.44" y1="397.6" x2="1013.44" y2="401.1" stroke="#000" stroke-width="1.4" />
<line x1="1127.88" y1="397.6" x2="1127.88" y2="401.1" stroke="#000" stroke-width="1.4" />
<text x="961.3" y="452" font-size="18" text-anchor="middle" fill="#000" font-weight="normal" >Cycle (n)</text>
<text x="670.5" y="213" font-size="18" text-anchor="middle" fill="#000" font-weight="normal" transform="rotate(-90 670.5 213)" >Discharge capacity (mAh g<tspan font-size="11.16" dy="-6.84">−1</tspan><tspan dy="6.84">)</tspan></text>
<text x="643.5" y="22" font-size="30" text-anchor="start" fill="#000" font-weight="bold" >b</text>
<circle cx="738.01" cy="71.34" r="6" fill="url(#g_navy)"/>
<circle cx="749.46" cy="249.79" r="6" fill="url(#g_navy)"/>
<circle cx="760.9" cy="249.79" r="6" fill="url(#g_navy)"/>
<circle cx="772.34" cy="251.14" r="6" fill="url(#g_navy)"/>
<circle cx="783.79" cy="253.49" r="6" fill="url(#g_navy)"/>
<circle cx="795.23" cy="237.33" r="6" fill="url(#g_navy)"/>
<circle cx="806.67" cy="243.05" r="6" fill="url(#g_navy)"/>
<circle cx="818.11" cy="244.74" r="6" fill="url(#g_navy)"/>
<circle cx="829.56" cy="246.09" r="6" fill="url(#g_navy)"/>
<circle cx="841" cy="247.1" r="6" fill="url(#g_navy)"/>
<circle cx="852.44" cy="247.1" r="6" fill="url(#g_navy)"/>
<circle cx="863.89" cy="250.46" r="6" fill="url(#g_navy)"/>
<circle cx="875.33" cy="252.15" r="6" fill="url(#g_navy)"/>
<circle cx="886.77" cy="253.16" r="6" fill="url(#g_navy)"/>
<circle cx="898.22" cy="254.5" r="6" fill="url(#g_navy)"/>
<circle cx="909.66" cy="259.55" r="6" fill="url(#g_navy)"/>
<circle cx="921.1" cy="265.95" r="6" fill="url(#g_navy)"/>
<circle cx="932.54" cy="263.26" r="6" fill="url(#g_navy)"/>
<circle cx="943.99" cy="268.64" r="6" fill="url(#g_navy)"/>
<circle cx="955.43" cy="269.99" r="6" fill="url(#g_navy)"/>
<circle cx="966.87" cy="307.03" r="6" fill="url(#g_navy)"/>
<circle cx="978.32" cy="295.58" r="6" fill="url(#g_navy)"/>
<circle cx="989.76" cy="300.97" r="6" fill="url(#g_navy)"/>
<circle cx="1001.2" cy="300.63" r="6" fill="url(#g_navy)"/>
<circle cx="1012.64" cy="317.8" r="6" fill="url(#g_navy)"/>
<circle cx="1024.09" cy="371.34" r="6" fill="url(#g_navy)"/>
<circle cx="1035.53" cy="374.03" r="6" fill="url(#g_navy)"/>
<circle cx="1046.97" cy="372.35" r="6" fill="url(#g_navy)"/>
<circle cx="1058.42" cy="372.35" r="6" fill="url(#g_navy)"/>
<circle cx="1069.86" cy="373.36" r="6" fill="url(#g_navy)"/>
<circle cx="1081.3" cy="384.13" r="6" fill="url(#g_navy)"/>
<circle cx="1092.75" cy="384.81" r="6" fill="url(#g_navy)"/>
<circle cx="1104.19" cy="385.14" r="6" fill="url(#g_navy)"/>
<circle cx="1115.63" cy="385.14" r="6" fill="url(#g_navy)"/>
<circle cx="1127.08" cy="385.14" r="6" fill="url(#g_navy)"/>
<circle cx="1138.52" cy="281.1" r="6" fill="url(#g_navy)"/>
<circle cx="1149.96" cy="249.79" r="6" fill="url(#g_navy)"/>
<circle cx="1161.4" cy="265.95" r="6" fill="url(#g_navy)"/>
<circle cx="1172.85" cy="269.32" r="6" fill="url(#g_navy)"/>
<circle cx="1184.29" cy="272.01" r="6" fill="url(#g_navy)"/>
<circle cx="738.01" cy="42.38" r="6" fill="url(#g_red)"/>
<circle cx="749.46" cy="237.33" r="6" fill="url(#g_red)"/>
<circle cx="760.9" cy="238.68" r="6" fill="url(#g_red)"/>
<circle cx="772.34" cy="241.03" r="6" fill="url(#g_red)"/>
<circle cx="783.79" cy="244.74" r="6" fill="url(#g_red)"/>
<circle cx="795.23" cy="219.82" r="6" fill="url(#g_red)"/>
<circle cx="806.67" cy="227.23" r="6" fill="url(#g_red)"/>
<circle cx="818.11" cy="228.24" r="6" fill="url(#g_red)"/>
<circle cx="829.56" cy="228.91" r="6" fill="url(#g_red)"/>
<circle cx="841" cy="229.92" r="6" fill="url(#g_red)"/>
<circle cx="852.44" cy="229.92" r="6" fill="url(#g_red)"/>
<circle cx="863.89" cy="231.27" r="6" fill="url(#g_red)"/>
<circle cx="875.33" cy="232.28" r="6" fill="url(#g_red)"/>
<circle cx="886.77" cy="232.95" r="6" fill="url(#g_red)"/>
<circle cx="898.22" cy="234.97" r="6" fill="url(#g_red)"/>
<circle cx="909.66" cy="231.27" r="6" fill="url(#g_red)"/>
<circle cx="921.1" cy="238.34" r="6" fill="url(#g_red)"/>
<circle cx="932.54" cy="235.65" r="6" fill="url(#g_red)"/>
<circle cx="943.99" cy="239.69" r="6" fill="url(#g_red)"/>
<circle cx="955.43" cy="240.7" r="6" fill="url(#g_red)"/>
<circle cx="966.87" cy="259.55" r="6" fill="url(#g_red)"/>
<circle cx="978.32" cy="260.9" r="6" fill="url(#g_red)"/>
<circle cx="989.76" cy="263.26" r="6" fill="url(#g_red)"/>
<circle cx="1001.2" cy="268.31" r="6" fill="url(#g_red)"/>
<circle cx="1012.64" cy="268.31" r="6" fill="url(#g_red)"/>
<circle cx="1024.09" cy="365.61" r="6" fill="url(#g_red)"/>
<circle cx="1035.53" cy="369.99" r="6" fill="url(#g_red)"/>
<circle cx="1046.97" cy="367.97" r="6" fill="url(#g_red)"/>
<circle cx="1058.42" cy="367.3" r="6" fill="url(#g_red)"/>
<circle cx="1069.86" cy="366.62" r="6" fill="url(#g_red)"/>
<circle cx="1081.3" cy="381.78" r="6" fill="url(#g_red)"/>
<circle cx="1092.75" cy="382.45" r="6" fill="url(#g_red)"/>
<circle cx="1104.19" cy="382.45" r="6" fill="url(#g_red)"/>
<circle cx="1115.63" cy="382.79" r="6" fill="url(#g_red)"/>
<circle cx="1127.08" cy="382.45" r="6" fill="url(#g_red)"/>
<circle cx="1138.52" cy="273.69" r="6" fill="url(#g_red)"/>
<circle cx="1149.96" cy="247.43" r="6" fill="url(#g_red)"/>
<circle cx="1161.4" cy="258.54" r="6" fill="url(#g_red)"/>
<circle cx="1172.85" cy="259.55" r="6" fill="url(#g_red)"/>
<circle cx="1184.29" cy="263.59" r="6" fill="url(#g_red)"/>
<circle cx="738.01" cy="57.2" r="6" fill="url(#g_green)"/>
<circle cx="749.46" cy="245.75" r="6" fill="url(#g_green)"/>
<circle cx="760.9" cy="248.11" r="6" fill="url(#g_green)"/>
<circle cx="772.34" cy="249.45" r="6" fill="url(#g_green)"/>
<circle cx="783.79" cy="253.49" r="6" fill="url(#g_green)"/>
<circle cx="795.23" cy="230.6" r="6" fill="url(#g_green)"/>
<circle cx="806.67" cy="234.64" r="6" fill="url(#g_green)"/>
<circle cx="818.11" cy="236.32" r="6" fill="url(#g_green)"/>
<circle cx="829.56" cy="238.68" r="6" fill="url(#g_green)"/>
<circle cx="841" cy="241.71" r="6" fill="url(#g_green)"/>
<circle cx="852.44" cy="236.32" r="6" fill="url(#g_green)"/>
<circle cx="863.89" cy="240.7" r="6" fill="url(#g_green)"/>
<circle cx="875.33" cy="242.72" r="6" fill="url(#g_green)"/>
<circle cx="886.77" cy="243.05" r="6" fill="url(#g_green)"/>
<circle cx="898.22" cy="245.75" r="6" fill="url(#g_green)"/>
<circle cx="909.66" cy="250.46" r="6" fill="url(#g_green)"/>
<circle cx="921.1" cy="257.2" r="6" fill="url(#g_green)"/>
<circle cx="932.54" cy="259.55" r="6" fill="url(#g_green)"/>
<circle cx="943.99" cy="263.59" r="6" fill="url(#g_green)"/>
<circle cx="955.43" cy="255.51" r="6" fill="url(#g_green)"/>
<circle cx="966.87" cy="285.48" r="6" fill="url(#g_green)"/>
<circle cx="978.32" cy="287.16" r="6" fill="url(#g_green)"/>
<circle cx="989.76" cy="291.2" r="6" fill="url(#g_green)"/>
<circle cx="1001.2" cy="294.57" r="6" fill="url(#g_green)"/>
<circle cx="1012.64" cy="297.94" r="6" fill="url(#g_green)"/>
<circle cx="1024.09" cy="359.89" r="6" fill="url(#g_green)"/>
<circle cx="1035.53" cy="360.56" r="6" fill="url(#g_green)"/>
<circle cx="1046.97" cy="360.56" r="6" fill="url(#g_green)"/>
<circle cx="1058.42" cy="360.56" r="6" fill="url(#g_green)"/>
<circle cx="1069.86" cy="360.56" r="6" fill="url(#g_green)"/>
<circle cx="1081.3" cy="379.08" r="6" fill="url(#g_green)"/>
<circle cx="1092.75" cy="380.09" r="6" fill="url(#g_green)"/>
<circle cx="1104.19" cy="380.43" r="6" fill="url(#g_green)"/>
<circle cx="1115.63" cy="380.77" r="6" fill="url(#g_green)"/>
<circle cx="1127.08" cy="380.77" r="6" fill="url(#g_green)"/>
<circle cx="1138.52" cy="280.43" r="6" fill="url(#g_green)"/>
<circle cx="1149.96" cy="260.56" r="6" fill="url(#g_green)"/>
<circle cx="1161.4" cy="265.95" r="6" fill="url(#g_green)"/>
<circle cx="1172.85" cy="268.64" r="6" fill="url(#g_green)"/>
<circle cx="1184.29" cy="271" r="6" fill="url(#g_green)"/>
<text x="735" y="223.6" font-size="12.3" text-anchor="start" fill="#000" font-weight="normal" >20 mA g<tspan font-size="7.63" dy="-4.67">−1</tspan></text>
<text x="789.6" y="201.6" font-size="12.3" text-anchor="start" fill="#000" font-weight="normal" >50 mA g<tspan font-size="7.63" dy="-4.67">−1</tspan></text>
<text x="843" y="212" font-size="12.3" text-anchor="start" fill="#000" font-weight="normal" >100 mA g<tspan font-size="7.63" dy="-4.67">−1</tspan></text>
<text x="900" y="218" font-size="12.3" text-anchor="start" fill="#000" font-weight="normal" >200 mA g<tspan font-size="7.63" dy="-4.67">−1</tspan></text>
<text x="958.3" y="237" font-size="12.3" text-anchor="start" fill="#000" font-weight="normal" >300 mA g<tspan font-size="7.63" dy="-4.67">−1</tspan></text>
<text x="1014.6" y="346.5" font-size="12.3" text-anchor="start" fill="#000" font-weight="normal" >500 mA g<tspan font-size="7.63" dy="-4.67">−1</tspan></text>
<text x="1089.6" y="365.8" font-size="12.3" text-anchor="start" fill="#000" font-weight="normal" >1 A g<tspan font-size="7.63" dy="-4.67">−1</tspan></text>
<text x="1135" y="237" font-size="12.3" text-anchor="start" fill="#000" font-weight="normal" >50 mA g<tspan font-size="7.63" dy="-4.67">−1</tspan></text>
<circle cx="1020.2" cy="91.75" r="6" fill="url(#g_navy)"/>
<text x="1036.7" y="96.75" font-size="15" text-anchor="start" fill="#000" font-weight="normal" >SBS/C (NS-1-E)</text>
<circle cx="1020.2" cy="108.75" r="6" fill="url(#g_red)"/>
<text x="1036.7" y="113.75" font-size="15" text-anchor="start" fill="#000" font-weight="normal" >SBS/C (NS-2-E)</text>
<circle cx="1020.2" cy="125.75" r="6" fill="url(#g_green)"/>
<text x="1036.7" y="130.75" font-size="15" text-anchor="start" fill="#000" font-weight="normal" >SBS/C (NS-3-E)</text>
<line x1="86.7" y1="465.8" x2="541.5" y2="465.8" stroke="#000" stroke-width="1.6" />
<line x1="86.7" y1="832.2" x2="541.5" y2="832.2" stroke="#000" stroke-width="1.6" />
<line x1="86.7" y1="465.8" x2="86.7" y2="832.2" stroke="#000" stroke-width="1.6" />
<line x1="541.5" y1="465.8" x2="541.5" y2="832.2" stroke="#000" stroke-width="1.6" />
<line x1="86.7" y1="832.2" x2="79.2" y2="832.2" stroke="#000" stroke-width="1.6" />
<text x="72.2" y="838.6" font-size="18" text-anchor="end" fill="#000" font-weight="normal" >0</text>
<line x1="86.7" y1="771.12" x2="79.2" y2="771.12" stroke="#000" stroke-width="1.6" />
<text x="72.2" y="777.52" font-size="18" text-anchor="end" fill="#000" font-weight="normal" >200</text>
<line x1="86.7" y1="710.04" x2="79.2" y2="710.04" stroke="#000" stroke-width="1.6" />
<text x="72.2" y="716.44" font-size="18" text-anchor="end" fill="#000" font-weight="normal" >400</text>
<line x1="86.7" y1="648.96" x2="79.2" y2="648.96" stroke="#000" stroke-width="1.6" />
<text x="72.2" y="655.36" font-size="18" text-anchor="end" fill="#000" font-weight="normal" >600</text>
<line x1="86.7" y1="587.88" x2="79.2" y2="587.88" stroke="#000" stroke-width="1.6" />
<text x="72.2" y="594.28" font-size="18" text-anchor="end" fill="#000" font-weight="normal" >800</text>
<line x1="86.7" y1="526.8" x2="79.2" y2="526.8" stroke="#000" stroke-width="1.6" />
<text x="72.2" y="533.2" font-size="18" text-anchor="end" fill="#000" font-weight="normal" >1000</text>
<line x1="86.7" y1="465.72" x2="79.2" y2="465.72" stroke="#000" stroke-width="1.6" />
<text x="72.2" y="472.12" font-size="18" text-anchor="end" fill="#000" font-weight="normal" >1200</text>
<line x1="86.7" y1="801.66" x2="83.2" y2="801.66" stroke="#000" stroke-width="1.6" />
<line x1="86.7" y1="740.58" x2="83.2" y2="740.58" stroke="#000" stroke-width="1.6" />
<line x1="86.7" y1="679.5" x2="83.2" y2="679.5" stroke="#000" stroke-width="1.6" />
<line x1="86.7" y1="618.42" x2="83.2" y2="618.42" stroke="#000" stroke-width="1.6" />
<line x1="86.7" y1="557.34" x2="83.2" y2="557.34" stroke="#000" stroke-width="1.6" />
<line x1="86.7" y1="496.26" x2="83.2" y2="496.26" stroke="#000" stroke-width="1.6" />
<line x1="541.5" y1="832.2" x2="549" y2="832.2" stroke="#000" stroke-width="1.6" />
<text x="556" y="838.6" font-size="18" text-anchor="start" fill="#000" font-weight="normal" >0</text>
<line x1="541.5" y1="765.54" x2="549" y2="765.54" stroke="#000" stroke-width="1.6" />
<text x="556" y="771.94" font-size="18" text-anchor="start" fill="#000" font-weight="normal" >20</text>
<line x1="541.5" y1="698.88" x2="549" y2="698.88" stroke="#000" stroke-width="1.6" />
<text x="556" y="705.28" font-size="18" text-anchor="start" fill="#000" font-weight="normal" >40</text>
<line x1="541.5" y1="632.22" x2="549" y2="632.22" stroke="#000" stroke-width="1.6" />
<text x="556" y="638.62" font-size="18" text-anchor="start" fill="#000" font-weight="normal" >60</text>
<line x1="541.5" y1="565.56" x2="549" y2="565.56" stroke="#000" stroke-width="1.6" />
<text x="556" y="571.96" font-size="18" text-anchor="start" fill="#000" font-weight="normal" >80</text>
<line x1="541.5" y1="498.9" x2="549" y2="498.9" stroke="#000" stroke-width="1.6" />
<text x="556" y="505.3" font-size="18" text-anchor="start" fill="#000" font-weight="normal" >100</text>
<line x1="541.5" y1="798.87" x2="545" y2="798.87" stroke="#000" stroke-width="1.6" />
<line x1="541.5" y1="732.21" x2="545" y2="732.21" stroke="#000" stroke-width="1.6" />
<line x1="541.5" y1="665.55" x2="545" y2="665.55" stroke="#000" stroke-width="1.6" />
<line x1="541.5" y1="598.89" x2="545" y2="598.89" stroke="#000" stroke-width="1.6" />
<line x1="541.5" y1="532.23" x2="545" y2="532.23" stroke="#000" stroke-width="1.6" />
<line x1="541.5" y1="465.57" x2="545" y2="465.57" stroke="#000" stroke-width="1.6" />
<line x1="172.15" y1="832.2" x2="172.15" y2="839.2" stroke="#000" stroke-width="1.6" />
<text x="172.15" y="860" font-size="18" text-anchor="middle" fill="#000" font-weight="normal" >10</text>
<line x1="262.15" y1="832.2" x2="262.15" y2="839.2" stroke="#000" stroke-width="1.6" />
<text x="262.15" y="860" font-size="18" text-anchor="middle" fill="#000" font-weight="normal" >20</text>
<line x1="352.15" y1="832.2" x2="352.15" y2="839.2" stroke="#000" stroke-width="1.6" />
<text x="352.15" y="860" font-size="18" text-anchor="middle" fill="#000" font-weight="normal" >30</text>
<line x1="442.15" y1="832.2" x2="442.15" y2="839.2" stroke="#000" stroke-width="1.6" />
<text x="442.15" y="860" font-size="18" text-anchor="middle" fill="#000" font-weight="normal" >40</text>
<line x1="532.15" y1="832.2" x2="532.15" y2="839.2" stroke="#000" stroke-width="1.6" />
<text x="532.15" y="860" font-size="18" text-anchor="middle" fill="#000" font-weight="normal" >50</text>
<line x1="127.15" y1="832.2" x2="127.15" y2="835.7" stroke="#000" stroke-width="1.6" />
<line x1="217.15" y1="832.2" x2="217.15" y2="835.7" stroke="#000" stroke-width="1.6" />
<line x1="307.15" y1="832.2" x2="307.15" y2="835.7" stroke="#000" stroke-width="1.6" />
<line x1="397.15" y1="832.2" x2="397.15" y2="835.7" stroke="#000" stroke-width="1.6" />
<line x1="487.15" y1="832.2" x2="487.15" y2="835.7" stroke="#000" stroke-width="1.6" />
<text x="305.75" y="884.5" font-size="18" text-anchor="middle" fill="#000" font-weight="normal" >Cycle (n)</text>
<text x="18.7" y="649" font-size="18" text-anchor="middle" fill="#000" font-weight="normal" transform="rotate(-90 18.7 649)" >Discharge capacity (mAh g<tspan font-size="11.16" dy="-6.84">−1</tspan><tspan dy="6.84">)</tspan></text>
<text x="608.5" y="649.2" font-size="19" text-anchor="middle" fill="#000" font-weight="normal" transform="rotate(-90 608.5 649.2)" >Coulombic efficiency (%)</text>
<text x="-0.5" y="464.6" font-size="30" text-anchor="start" fill="#000" font-weight="bold" >c</text>
<g clip-path="url(#clipC)">
<rect x="86.55" y="718.61" width="9.2" height="9.2" fill="none" stroke="#4646bb" stroke-width="1.1"/>
<rect x="95.55" y="533.96" width="9.2" height="9.2" fill="none" stroke="#4646bb" stroke-width="1.1"/>
<rect x="104.55" y="514.63" width="9.2" height="9.2" fill="none" stroke="#4646bb" stroke-width="1.1"/>
<rect x="113.55" y="504.97" width="9.2" height="9.2" fill="none" stroke="#4646bb" stroke-width="1.1"/>
<rect x="122.55" y="513.63" width="9.2" height="9.2" fill="none" stroke="#4646bb" stroke-width="1.1"/>
<rect x="131.55" y="501.3" width="9.2" height="9.2" fill="none" stroke="#4646bb" stroke-width="1.1"/>
<rect x="140.55" y="509.97" width="9.2" height="9.2" fill="none" stroke="#4646bb" stroke-width="1.1"/>
<rect x="149.55" y="504.3" width="9.2" height="9.2" fill="none" stroke="#4646bb" stroke-width="1.1"/>
<rect x="158.55" y="516.63" width="9.2" height="9.2" fill="none" stroke="#4646bb" stroke-width="1.1"/>
<rect x="167.55" y="501.97" width="9.2" height="9.2" fill="none" stroke="#4646bb" stroke-width="1.1"/>
<rect x="176.55" y="512.63" width="9.2" height="9.2" fill="none" stroke="#4646bb" stroke-width="1.1"/>
<rect x="185.55" y="503.3" width="9.2" height="9.2" fill="none" stroke="#4646bb" stroke-width="1.1"/>
<rect x="194.55" y="511.63" width="9.2" height="9.2" fill="none" stroke="#4646bb" stroke-width="1.1"/>
<rect x="203.55" y="498.63" width="9.2" height="9.2" fill="none" stroke="#4646bb" stroke-width="1.1"/>
<rect x="212.55" y="519.63" width="9.2" height="9.2" fill="none" stroke="#4646bb" stroke-width="1.1"/>
<rect x="221.55" y="487.63" width="9.2" height="9.2" fill="none" stroke="#4646bb" stroke-width="1.1"/>
<rect x="230.55" y="501.97" width="9.2" height="9.2" fill="none" stroke="#4646bb" stroke-width="1.1"/>
<rect x="239.55" y="499.97" width="9.2" height="9.2" fill="none" stroke="#4646bb" stroke-width="1.1"/>
<rect x="248.55" y="498.3" width="9.2" height="9.2" fill="none" stroke="#4646bb" stroke-width="1.1"/>
<rect x="257.55" y="509.97" width="9.2" height="9.2" fill="none" stroke="#4646bb" stroke-width="1.1"/>
<rect x="266.55" y="495.3" width="9.2" height="9.2" fill="none" stroke="#4646bb" stroke-width="1.1"/>
<rect x="275.55" y="495.3" width="9.2" height="9.2" fill="none" stroke="#4646bb" stroke-width="1.1"/>
<rect x="284.55" y="526.3" width="9.2" height="9.2" fill="none" stroke="#4646bb" stroke-width="1.1"/>
<rect x="293.55" y="489.63" width="9.2" height="9.2" fill="none" stroke="#4646bb" stroke-width="1.1"/>
<rect x="302.55" y="492.63" width="9.2" height="9.2" fill="none" stroke="#4646bb" stroke-width="1.1"/>
<rect x="311.55" y="497.63" width="9.2" height="9.2" fill="none" stroke="#4646bb" stroke-width="1.1"/>
<rect x="320.55" y="502.63" width="9.2" height="9.2" fill="none" stroke="#4646bb" stroke-width="1.1"/>
<rect x="329.55" y="499.3" width="9.2" height="9.2" fill="none" stroke="#4646bb" stroke-width="1.1"/>
<rect x="338.55" y="495.97" width="9.2" height="9.2" fill="none" stroke="#4646bb" stroke-width="1.1"/>
<rect x="347.55" y="522.63" width="9.2" height="9.2" fill="none" stroke="#4646bb" stroke-width="1.1"/>
<rect x="356.55" y="487.97" width="9.2" height="9.2" fill="none" stroke="#4646bb" stroke-width="1.1"/>
<rect x="365.55" y="492.3" width="9.2" height="9.2" fill="none" stroke="#4646bb" stroke-width="1.1"/>
<rect x="374.55" y="500.97" width="9.2" height="9.2" fill="none" stroke="#4646bb" stroke-width="1.1"/>
<rect x="383.55" y="502.97" width="9.2" height="9.2" fill="none" stroke="#4646bb" stroke-width="1.1"/>
<rect x="392.55" y="493.63" width="9.2" height="9.2" fill="none" stroke="#4646bb" stroke-width="1.1"/>
<rect x="401.55" y="494.3" width="9.2" height="9.2" fill="none" stroke="#4646bb" stroke-width="1.1"/>
<rect x="410.55" y="502.3" width="9.2" height="9.2" fill="none" stroke="#4646bb" stroke-width="1.1"/>
<rect x="419.55" y="498.63" width="9.2" height="9.2" fill="none" stroke="#4646bb" stroke-width="1.1"/>
<rect x="428.55" y="497.63" width="9.2" height="9.2" fill="none" stroke="#4646bb" stroke-width="1.1"/>
<rect x="437.55" y="494.3" width="9.2" height="9.2" fill="none" stroke="#4646bb" stroke-width="1.1"/>
<rect x="446.55" y="500.3" width="9.2" height="9.2" fill="none" stroke="#4646bb" stroke-width="1.1"/>
<rect x="455.55" y="502.3" width="9.2" height="9.2" fill="none" stroke="#4646bb" stroke-width="1.1"/>
<rect x="464.55" y="493.3" width="9.2" height="9.2" fill="none" stroke="#4646bb" stroke-width="1.1"/>
<rect x="473.55" y="495.3" width="9.2" height="9.2" fill="none" stroke="#4646bb" stroke-width="1.1"/>
<rect x="482.55" y="499.3" width="9.2" height="9.2" fill="none" stroke="#4646bb" stroke-width="1.1"/>
<rect x="491.55" y="495.63" width="9.2" height="9.2" fill="none" stroke="#4646bb" stroke-width="1.1"/>
<rect x="500.55" y="519.96" width="9.2" height="9.2" fill="none" stroke="#4646bb" stroke-width="1.1"/>
<rect x="509.55" y="484.3" width="9.2" height="9.2" fill="none" stroke="#4646bb" stroke-width="1.1"/>
<rect x="518.55" y="492.63" width="9.2" height="9.2" fill="none" stroke="#4646bb" stroke-width="1.1"/>
<rect x="527.55" y="504.3" width="9.2" height="9.2" fill="none" stroke="#4646bb" stroke-width="1.1"/>
<rect x="536.55" y="500.97" width="9.2" height="9.2" fill="none" stroke="#4646bb" stroke-width="1.1"/>
<rect x="86.55" y="690.95" width="9.2" height="9.2" fill="none" stroke="#ff2a2a" stroke-width="1.1"/>
<rect x="95.55" y="526.3" width="9.2" height="9.2" fill="none" stroke="#ff2a2a" stroke-width="1.1"/>
<rect x="104.55" y="518.63" width="9.2" height="9.2" fill="none" stroke="#ff2a2a" stroke-width="1.1"/>
<rect x="113.55" y="513.63" width="9.2" height="9.2" fill="none" stroke="#ff2a2a" stroke-width="1.1"/>
<rect x="122.55" y="511.63" width="9.2" height="9.2" fill="none" stroke="#ff2a2a" stroke-width="1.1"/>
<rect x="131.55" y="509.97" width="9.2" height="9.2" fill="none" stroke="#ff2a2a" stroke-width="1.1"/>
<rect x="140.55" y="508.3" width="9.2" height="9.2" fill="none" stroke="#ff2a2a" stroke-width="1.1"/>
<rect x="149.55" y="510.97" width="9.2" height="9.2" fill="none" stroke="#ff2a2a" stroke-width="1.1"/>
<rect x="158.55" y="516.63" width="9.2" height="9.2" fill="none" stroke="#ff2a2a" stroke-width="1.1"/>
<rect x="167.55" y="510.97" width="9.2" height="9.2" fill="none" stroke="#ff2a2a" stroke-width="1.1"/>
<rect x="176.55" y="508.3" width="9.2" height="9.2" fill="none" stroke="#ff2a2a" stroke-width="1.1"/>
<rect x="185.55" y="506.63" width="9.2" height="9.2" fill="none" stroke="#ff2a2a" stroke-width="1.1"/>
<rect x="194.55" y="505.97" width="9.2" height="9.2" fill="none" stroke="#ff2a2a" stroke-width="1.1"/>
<rect x="203.55" y="503.63" width="9.2" height="9.2" fill="none" stroke="#ff2a2a" stroke-width="1.1"/>
<rect x="212.55" y="507.3" width="9.2" height="9.2" fill="none" stroke="#ff2a2a" stroke-width="1.1"/>
<rect x="221.55" y="504.97" width="9.2" height="9.2" fill="none" stroke="#ff2a2a" stroke-width="1.1"/>
<rect x="230.55" y="504.97" width="9.2" height="9.2" fill="none" stroke="#ff2a2a" stroke-width="1.1"/>
<rect x="239.55" y="502.63" width="9.2" height="9.2" fill="none" stroke="#ff2a2a" stroke-width="1.1"/>
<rect x="248.55" y="501.63" width="9.2" height="9.2" fill="none" stroke="#ff2a2a" stroke-width="1.1"/>
<rect x="257.55" y="509.97" width="9.2" height="9.2" fill="none" stroke="#ff2a2a" stroke-width="1.1"/>
<rect x="266.55" y="503.63" width="9.2" height="9.2" fill="none" stroke="#ff2a2a" stroke-width="1.1"/>
<rect x="275.55" y="503.63" width="9.2" height="9.2" fill="none" stroke="#ff2a2a" stroke-width="1.1"/>
<rect x="284.55" y="505.63" width="9.2" height="9.2" fill="none" stroke="#ff2a2a" stroke-width="1.1"/>
<rect x="293.55" y="502.63" width="9.2" height="9.2" fill="none" stroke="#ff2a2a" stroke-width="1.1"/>
<rect x="302.55" y="505.63" width="9.2" height="9.2" fill="none" stroke="#ff2a2a" stroke-width="1.1"/>
<rect x="311.55" y="502.63" width="9.2" height="9.2" fill="none" stroke="#ff2a2a" stroke-width="1.1"/>
<rect x="320.55" y="504.97" width="9.2" height="9.2" fill="none" stroke="#ff2a2a" stroke-width="1.1"/>
<rect x="329.55" y="501.3" width="9.2" height="9.2" fill="none" stroke="#ff2a2a" stroke-width="1.1"/>
<rect x="338.55" y="506.3" width="9.2" height="9.2" fill="none" stroke="#ff2a2a" stroke-width="1.1"/>
<rect x="347.55" y="503.63" width="9.2" height="9.2" fill="none" stroke="#ff2a2a" stroke-width="1.1"/>
<rect x="356.55" y="500.3" width="9.2" height="9.2" fill="none" stroke="#ff2a2a" stroke-width="1.1"/>
<rect x="365.55" y="504.3" width="9.2" height="9.2" fill="none" stroke="#ff2a2a" stroke-width="1.1"/>
<rect x="374.55" y="505.97" width="9.2" height="9.2" fill="none" stroke="#ff2a2a" stroke-width="1.1"/>
<rect x="383.55" y="501.63" width="9.2" height="9.2" fill="none" stroke="#ff2a2a" stroke-width="1.1"/>
<rect x="392.55" y="500.3" width="9.2" height="9.2" fill="none" stroke="#ff2a2a" stroke-width="1.1"/>
<rect x="401.55" y="504.97" width="9.2" height="9.2" fill="none" stroke="#ff2a2a" stroke-width="1.1"/>
<rect x="410.55" y="502.97" width="9.2" height="9.2" fill="none" stroke="#ff2a2a" stroke-width="1.1"/>
<rect x="419.55" y="500.97" width="9.2" height="9.2" fill="none" stroke="#ff2a2a" stroke-width="1.1"/>
<rect x="428.55" y="505.97" width="9.2" height="9.2" fill="none" stroke="#ff2a2a" stroke-width="1.1"/>
<rect x="437.55" y="502.3" width="9.2" height="9.2" fill="none" stroke="#ff2a2a" stroke-width="1.1"/>
<rect x="446.55" y="499.97" width="9.2" height="9.2" fill="none" stroke="#ff2a2a" stroke-width="1.1"/>
<rect x="455.55" y="504.63" width="9.2" height="9.2" fill="none" stroke="#ff2a2a" stroke-width="1.1"/>
<rect x="464.55" y="502.63" width="9.2" height="9.2" fill="none" stroke="#ff2a2a" stroke-width="1.1"/>
<rect x="473.55" y="501.3" width="9.2" height="9.2" fill="none" stroke="#ff2a2a" stroke-width="1.1"/>
<rect x="482.55" y="504.97" width="9.2" height="9.2" fill="none" stroke="#ff2a2a" stroke-width="1.1"/>
<rect x="491.55" y="503.63" width="9.2" height="9.2" fill="none" stroke="#ff2a2a" stroke-width="1.1"/>
<rect x="500.55" y="500.97" width="9.2" height="9.2" fill="none" stroke="#ff2a2a" stroke-width="1.1"/>
<rect x="509.55" y="505.63" width="9.2" height="9.2" fill="none" stroke="#ff2a2a" stroke-width="1.1"/>
<rect x="518.55" y="509.3" width="9.2" height="9.2" fill="none" stroke="#ff2a2a" stroke-width="1.1"/>
<rect x="527.55" y="501.63" width="9.2" height="9.2" fill="none" stroke="#ff2a2a" stroke-width="1.1"/>
<rect x="536.55" y="504.63" width="9.2" height="9.2" fill="none" stroke="#ff2a2a" stroke-width="1.1"/>
<rect x="86.55" y="701.61" width="9.2" height="9.2" fill="none" stroke="#1e8c1e" stroke-width="1.1"/>
<rect x="95.55" y="550.63" width="9.2" height="9.2" fill="none" stroke="#1e8c1e" stroke-width="1.1"/>
<rect x="104.55" y="529.96" width="9.2" height="9.2" fill="none" stroke="#1e8c1e" stroke-width="1.1"/>
<rect x="113.55" y="527.3" width="9.2" height="9.2" fill="none" stroke="#1e8c1e" stroke-width="1.1"/>
<rect x="122.55" y="527.3" width="9.2" height="9.2" fill="none" stroke="#1e8c1e" stroke-width="1.1"/>
<rect x="131.55" y="522.3" width="9.2" height="9.2" fill="none" stroke="#1e8c1e" stroke-width="1.1"/>
<rect x="140.55" y="516.63" width="9.2" height="9.2" fill="none" stroke="#1e8c1e" stroke-width="1.1"/>
<rect x="149.55" y="519.63" width="9.2" height="9.2" fill="none" stroke="#1e8c1e" stroke-width="1.1"/>
<rect x="158.55" y="516.63" width="9.2" height="9.2" fill="none" stroke="#1e8c1e" stroke-width="1.1"/>
<rect x="167.55" y="517.63" width="9.2" height="9.2" fill="none" stroke="#1e8c1e" stroke-width="1.1"/>
<rect x="176.55" y="514.63" width="9.2" height="9.2" fill="none" stroke="#1e8c1e" stroke-width="1.1"/>
<rect x="185.55" y="514.63" width="9.2" height="9.2" fill="none" stroke="#1e8c1e" stroke-width="1.1"/>
<rect x="194.55" y="518.63" width="9.2" height="9.2" fill="none" stroke="#1e8c1e" stroke-width="1.1"/>
<rect x="203.55" y="511.63" width="9.2" height="9.2" fill="none" stroke="#1e8c1e" stroke-width="1.1"/>
<rect x="212.55" y="513.63" width="9.2" height="9.2" fill="none" stroke="#1e8c1e" stroke-width="1.1"/>
<rect x="221.55" y="511.63" width="9.2" height="9.2" fill="none" stroke="#1e8c1e" stroke-width="1.1"/>
<rect x="230.55" y="510.63" width="9.2" height="9.2" fill="none" stroke="#1e8c1e" stroke-width="1.1"/>
<rect x="239.55" y="508.97" width="9.2" height="9.2" fill="none" stroke="#1e8c1e" stroke-width="1.1"/>
<rect x="248.55" y="508.97" width="9.2" height="9.2" fill="none" stroke="#1e8c1e" stroke-width="1.1"/>
<rect x="257.55" y="505.3" width="9.2" height="9.2" fill="none" stroke="#1e8c1e" stroke-width="1.1"/>
<rect x="266.55" y="507.97" width="9.2" height="9.2" fill="none" stroke="#1e8c1e" stroke-width="1.1"/>
<rect x="275.55" y="506.97" width="9.2" height="9.2" fill="none" stroke="#1e8c1e" stroke-width="1.1"/>
<rect x="284.55" y="508.3" width="9.2" height="9.2" fill="none" stroke="#1e8c1e" stroke-width="1.1"/>
<rect x="293.55" y="505.97" width="9.2" height="9.2" fill="none" stroke="#1e8c1e" stroke-width="1.1"/>
<rect x="302.55" y="507.63" width="9.2" height="9.2" fill="none" stroke="#1e8c1e" stroke-width="1.1"/>
<rect x="311.55" y="506.63" width="9.2" height="9.2" fill="none" stroke="#1e8c1e" stroke-width="1.1"/>
<rect x="320.55" y="508.97" width="9.2" height="9.2" fill="none" stroke="#1e8c1e" stroke-width="1.1"/>
<rect x="329.55" y="507.3" width="9.2" height="9.2" fill="none" stroke="#1e8c1e" stroke-width="1.1"/>
<rect x="338.55" y="504.63" width="9.2" height="9.2" fill="none" stroke="#1e8c1e" stroke-width="1.1"/>
<rect x="347.55" y="508.3" width="9.2" height="9.2" fill="none" stroke="#1e8c1e" stroke-width="1.1"/>
<rect x="356.55" y="505.63" width="9.2" height="9.2" fill="none" stroke="#1e8c1e" stroke-width="1.1"/>
<rect x="365.55" y="507.63" width="9.2" height="9.2" fill="none" stroke="#1e8c1e" stroke-width="1.1"/>
<rect x="374.55" y="506.3" width="9.2" height="9.2" fill="none" stroke="#1e8c1e" stroke-width="1.1"/>
<rect x="383.55" y="508.63" width="9.2" height="9.2" fill="none" stroke="#1e8c1e" stroke-width="1.1"/>
<rect x="392.55" y="504.97" width="9.2" height="9.2" fill="none" stroke="#1e8c1e" stroke-width="1.1"/>
<rect x="401.55" y="506.97" width="9.2" height="9.2" fill="none" stroke="#1e8c1e" stroke-width="1.1"/>
<rect x="410.55" y="507.97" width="9.2" height="9.2" fill="none" stroke="#1e8c1e" stroke-width="1.1"/>
<rect x="419.55" y="505.63" width="9.2" height="9.2" fill="none" stroke="#1e8c1e" stroke-width="1.1"/>
<rect x="428.55" y="507.63" width="9.2" height="9.2" fill="none" stroke="#1e8c1e" stroke-width="1.1"/>
<rect x="437.55" y="505.3" width="9.2" height="9.2" fill="none" stroke="#1e8c1e" stroke-width="1.1"/>
<rect x="446.55" y="506.63" width="9.2" height="9.2" fill="none" stroke="#1e8c1e" stroke-width="1.1"/>
<rect x="455.55" y="508.3" width="9.2" height="9.2" fill="none" stroke="#1e8c1e" stroke-width="1.1"/>
<rect x="464.55" y="505.97" width="9.2" height="9.2" fill="none" stroke="#1e8c1e" stroke-width="1.1"/>
<rect x="473.55" y="507.3" width="9.2" height="9.2" fill="none" stroke="#1e8c1e" stroke-width="1.1"/>
<rect x="482.55" y="507.97" width="9.2" height="9.2" fill="none" stroke="#1e8c1e" stroke-width="1.1"/>
<rect x="491.55" y="505.3" width="9.2" height="9.2" fill="none" stroke="#1e8c1e" stroke-width="1.1"/>
<rect x="500.55" y="506.3" width="9.2" height="9.2" fill="none" stroke="#1e8c1e" stroke-width="1.1"/>
<rect x="509.55" y="507.63" width="9.2" height="9.2" fill="none" stroke="#1e8c1e" stroke-width="1.1"/>
<rect x="518.55" y="504.97" width="9.2" height="9.2" fill="none" stroke="#1e8c1e" stroke-width="1.1"/>
<rect x="527.55" y="507.97" width="9.2" height="9.2" fill="none" stroke="#1e8c1e" stroke-width="1.1"/>
<rect x="536.55" y="505.63" width="9.2" height="9.2" fill="none" stroke="#1e8c1e" stroke-width="1.1"/>
<circle cx="91.15" cy="487.4" r="5.9" fill="url(#g_navy)"/>
<circle cx="100.15" cy="704.24" r="5.9" fill="url(#g_navy)"/>
<circle cx="109.15" cy="714.32" r="5.9" fill="url(#g_navy)"/>
<circle cx="118.15" cy="725.31" r="5.9" fill="url(#g_navy)"/>
<circle cx="127.15" cy="722.56" r="5.9" fill="url(#g_navy)"/>
<circle cx="136.15" cy="732.95" r="5.9" fill="url(#g_navy)"/>
<circle cx="145.15" cy="728.67" r="5.9" fill="url(#g_navy)"/>
<circle cx="154.15" cy="736.3" r="5.9" fill="url(#g_navy)"/>
<circle cx="163.15" cy="731.11" r="5.9" fill="url(#g_navy)"/>
<circle cx="172.15" cy="739.66" r="5.9" fill="url(#g_navy)"/>
<circle cx="181.15" cy="738.14" r="5.9" fill="url(#g_navy)"/>
<circle cx="190.15" cy="745.77" r="5.9" fill="url(#g_navy)"/>
<circle cx="199.15" cy="744.55" r="5.9" fill="url(#g_navy)"/>
<circle cx="208.15" cy="754.93" r="5.9" fill="url(#g_navy)"/>
<circle cx="217.15" cy="745.47" r="5.9" fill="url(#g_navy)"/>
<circle cx="226.15" cy="767.46" r="5.9" fill="url(#g_navy)"/>
<circle cx="235.15" cy="761.35" r="5.9" fill="url(#g_navy)"/>
<circle cx="244.15" cy="766.54" r="5.9" fill="url(#g_navy)"/>
<circle cx="253.15" cy="768.68" r="5.9" fill="url(#g_navy)"/>
<circle cx="262.15" cy="760.74" r="5.9" fill="url(#g_navy)"/>
<circle cx="271.15" cy="773.26" r="5.9" fill="url(#g_navy)"/>
<circle cx="280.15" cy="775.7" r="5.9" fill="url(#g_navy)"/>
<circle cx="289.15" cy="752.19" r="5.9" fill="url(#g_navy)"/>
<circle cx="298.15" cy="774.78" r="5.9" fill="url(#g_navy)"/>
<circle cx="307.15" cy="779.06" r="5.9" fill="url(#g_navy)"/>
<circle cx="316.15" cy="776.62" r="5.9" fill="url(#g_navy)"/>
<circle cx="325.15" cy="776.62" r="5.9" fill="url(#g_navy)"/>
<circle cx="334.15" cy="782.73" r="5.9" fill="url(#g_navy)"/>
<circle cx="343.15" cy="782.73" r="5.9" fill="url(#g_navy)"/>
<circle cx="352.15" cy="764.4" r="5.9" fill="url(#g_navy)"/>
<circle cx="361.15" cy="786.08" r="5.9" fill="url(#g_navy)"/>
<circle cx="370.15" cy="790.05" r="5.9" fill="url(#g_navy)"/>
<circle cx="379.15" cy="782.42" r="5.9" fill="url(#g_navy)"/>
<circle cx="388.15" cy="779.67" r="5.9" fill="url(#g_navy)"/>
<circle cx="397.15" cy="790.67" r="5.9" fill="url(#g_navy)"/>
<circle cx="406.15" cy="793.41" r="5.9" fill="url(#g_navy)"/>
<circle cx="415.15" cy="784.86" r="5.9" fill="url(#g_navy)"/>
<circle cx="424.15" cy="787.92" r="5.9" fill="url(#g_navy)"/>
<circle cx="433.15" cy="791.89" r="5.9" fill="url(#g_navy)"/>
<circle cx="442.15" cy="795.86" r="5.9" fill="url(#g_navy)"/>
<circle cx="451.15" cy="795.86" r="5.9" fill="url(#g_navy)"/>
<circle cx="460.15" cy="788.53" r="5.9" fill="url(#g_navy)"/>
<circle cx="469.15" cy="797.69" r="5.9" fill="url(#g_navy)"/>
<circle cx="478.15" cy="799.83" r="5.9" fill="url(#g_navy)"/>
<circle cx="487.15" cy="797.08" r="5.9" fill="url(#g_navy)"/>
<circle cx="496.15" cy="799.52" r="5.9" fill="url(#g_navy)"/>
<circle cx="505.15" cy="783.34" r="5.9" fill="url(#g_navy)"/>
<circle cx="514.15" cy="799.22" r="5.9" fill="url(#g_navy)"/>
<circle cx="523.15" cy="800.13" r="5.9" fill="url(#g_navy)"/>
<circle cx="532.15" cy="801.66" r="5.9" fill="url(#g_navy)"/>
<circle cx="541.15" cy="808.99" r="5.9" fill="url(#g_navy)"/>
<circle cx="91.15" cy="498.4" r="5.9" fill="url(#g_red)"/>
<circle cx="100.15" cy="681.03" r="5.9" fill="url(#g_red)"/>
<circle cx="109.15" cy="686.83" r="5.9" fill="url(#g_red)"/>
<circle cx="118.15" cy="689.88" r="5.9" fill="url(#g_red)"/>
<circle cx="127.15" cy="691.72" r="5.9" fill="url(#g_red)"/>
<circle cx="136.15" cy="693.55" r="5.9" fill="url(#g_red)"/>
<circle cx="145.15" cy="694.46" r="5.9" fill="url(#g_red)"/>
<circle cx="154.15" cy="695.38" r="5.9" fill="url(#g_red)"/>
<circle cx="163.15" cy="695.38" r="5.9" fill="url(#g_red)"/>
<circle cx="172.15" cy="697.21" r="5.9" fill="url(#g_red)"/>
<circle cx="181.15" cy="698.43" r="5.9" fill="url(#g_red)"/>
<circle cx="190.15" cy="701.18" r="5.9" fill="url(#g_red)"/>
<circle cx="199.15" cy="702.1" r="5.9" fill="url(#g_red)"/>
<circle cx="208.15" cy="704.24" r="5.9" fill="url(#g_red)"/>
<circle cx="217.15" cy="705.15" r="5.9" fill="url(#g_red)"/>
<circle cx="226.15" cy="706.99" r="5.9" fill="url(#g_red)"/>
<circle cx="235.15" cy="707.9" r="5.9" fill="url(#g_red)"/>
<circle cx="244.15" cy="710.96" r="5.9" fill="url(#g_red)"/>
<circle cx="253.15" cy="711.87" r="5.9" fill="url(#g_red)"/>
<circle cx="262.15" cy="712.79" r="5.9" fill="url(#g_red)"/>
<circle cx="271.15" cy="715.54" r="5.9" fill="url(#g_red)"/>
<circle cx="280.15" cy="717.68" r="5.9" fill="url(#g_red)"/>
<circle cx="289.15" cy="719.51" r="5.9" fill="url(#g_red)"/>
<circle cx="298.15" cy="722.56" r="5.9" fill="url(#g_red)"/>
<circle cx="307.15" cy="724.39" r="5.9" fill="url(#g_red)"/>
<circle cx="316.15" cy="728.36" r="5.9" fill="url(#g_red)"/>
<circle cx="325.15" cy="728.36" r="5.9" fill="url(#g_red)"/>
<circle cx="334.15" cy="733.25" r="5.9" fill="url(#g_red)"/>
<circle cx="343.15" cy="731.42" r="5.9" fill="url(#g_red)"/>
<circle cx="352.15" cy="735.39" r="5.9" fill="url(#g_red)"/>
<circle cx="361.15" cy="729.59" r="5.9" fill="url(#g_red)"/>
<circle cx="370.15" cy="735.39" r="5.9" fill="url(#g_red)"/>
<circle cx="379.15" cy="727.45" r="5.9" fill="url(#g_red)"/>
<circle cx="388.15" cy="737.22" r="5.9" fill="url(#g_red)"/>
<circle cx="397.15" cy="732.95" r="5.9" fill="url(#g_red)"/>
<circle cx="406.15" cy="739.66" r="5.9" fill="url(#g_red)"/>
<circle cx="415.15" cy="736.3" r="5.9" fill="url(#g_red)"/>
<circle cx="424.15" cy="743.63" r="5.9" fill="url(#g_red)"/>
<circle cx="433.15" cy="739.05" r="5.9" fill="url(#g_red)"/>
<circle cx="442.15" cy="746.08" r="5.9" fill="url(#g_red)"/>
<circle cx="451.15" cy="743.63" r="5.9" fill="url(#g_red)"/>
<circle cx="460.15" cy="746.08" r="5.9" fill="url(#g_red)"/>
<circle cx="469.15" cy="746.08" r="5.9" fill="url(#g_red)"/>
<circle cx="478.15" cy="749.13" r="5.9" fill="url(#g_red)"/>
<circle cx="487.15" cy="755.24" r="5.9" fill="url(#g_red)"/>
<circle cx="496.15" cy="744.24" r="5.9" fill="url(#g_red)"/>
<circle cx="505.15" cy="759.82" r="5.9" fill="url(#g_red)"/>
<circle cx="514.15" cy="759.82" r="5.9" fill="url(#g_red)"/>
<circle cx="523.15" cy="752.8" r="5.9" fill="url(#g_red)"/>
<circle cx="532.15" cy="765.93" r="5.9" fill="url(#g_red)"/>
<circle cx="541.15" cy="757.99" r="5.9" fill="url(#g_red)"/>
<circle cx="91.15" cy="520.39" r="5.9" fill="url(#g_green)"/>
<circle cx="100.15" cy="688.05" r="5.9" fill="url(#g_green)"/>
<circle cx="109.15" cy="698.43" r="5.9" fill="url(#g_green)"/>
<circle cx="118.15" cy="699.05" r="5.9" fill="url(#g_green)"/>
<circle cx="127.15" cy="698.43" r="5.9" fill="url(#g_green)"/>
<circle cx="136.15" cy="702.1" r="5.9" fill="url(#g_green)"/>
<circle cx="145.15" cy="705.15" r="5.9" fill="url(#g_green)"/>
<circle cx="154.15" cy="705.15" r="5.9" fill="url(#g_green)"/>
<circle cx="163.15" cy="706.99" r="5.9" fill="url(#g_green)"/>
<circle cx="172.15" cy="708.82" r="5.9" fill="url(#g_green)"/>
<circle cx="181.15" cy="711.26" r="5.9" fill="url(#g_green)"/>
<circle cx="190.15" cy="710.96" r="5.9" fill="url(#g_green)"/>
<circle cx="199.15" cy="710.04" r="5.9" fill="url(#g_green)"/>
<circle cx="208.15" cy="715.54" r="5.9" fill="url(#g_green)"/>
<circle cx="217.15" cy="714.93" r="5.9" fill="url(#g_green)"/>
<circle cx="226.15" cy="714.93" r="5.9" fill="url(#g_green)"/>
<circle cx="235.15" cy="716.76" r="5.9" fill="url(#g_green)"/>
<circle cx="244.15" cy="717.68" r="5.9" fill="url(#g_green)"/>
<circle cx="253.15" cy="718.9" r="5.9" fill="url(#g_green)"/>
<circle cx="262.15" cy="720.12" r="5.9" fill="url(#g_green)"/>
<circle cx="271.15" cy="721.95" r="5.9" fill="url(#g_green)"/>
<circle cx="280.15" cy="721.34" r="5.9" fill="url(#g_green)"/>
<circle cx="289.15" cy="721.65" r="5.9" fill="url(#g_green)"/>
<circle cx="298.15" cy="722.87" r="5.9" fill="url(#g_green)"/>
<circle cx="307.15" cy="725.31" r="5.9" fill="url(#g_green)"/>
<circle cx="316.15" cy="725" r="5.9" fill="url(#g_green)"/>
<circle cx="325.15" cy="721.03" r="5.9" fill="url(#g_green)"/>
<circle cx="334.15" cy="727.45" r="5.9" fill="url(#g_green)"/>
<circle cx="343.15" cy="728.97" r="5.9" fill="url(#g_green)"/>
<circle cx="352.15" cy="727.75" r="5.9" fill="url(#g_green)"/>
<circle cx="361.15" cy="728.97" r="5.9" fill="url(#g_green)"/>
<circle cx="370.15" cy="727.14" r="5.9" fill="url(#g_green)"/>
<circle cx="379.15" cy="728.97" r="5.9" fill="url(#g_green)"/>
<circle cx="388.15" cy="726.84" r="5.9" fill="url(#g_green)"/>
<circle cx="397.15" cy="727.45" r="5.9" fill="url(#g_green)"/>
<circle cx="406.15" cy="725.31" r="5.9" fill="url(#g_green)"/>
<circle cx="415.15" cy="725.92" r="5.9" fill="url(#g_green)"/>
<circle cx="424.15" cy="723.78" r="5.9" fill="url(#g_green)"/>
<circle cx="433.15" cy="725.92" r="5.9" fill="url(#g_green)"/>
<circle cx="442.15" cy="725.92" r="5.9" fill="url(#g_green)"/>
<circle cx="451.15" cy="724.39" r="5.9" fill="url(#g_green)"/>
<circle cx="460.15" cy="723.17" r="5.9" fill="url(#g_green)"/>
<circle cx="469.15" cy="723.17" r="5.9" fill="url(#g_green)"/>
<circle cx="478.15" cy="725" r="5.9" fill="url(#g_green)"/>
<circle cx="487.15" cy="727.75" r="5.9" fill="url(#g_green)"/>
<circle cx="496.15" cy="730.5" r="5.9" fill="url(#g_green)"/>
<circle cx="505.15" cy="731.72" r="5.9" fill="url(#g_green)"/>
<circle cx="514.15" cy="728.97" r="5.9" fill="url(#g_green)"/>
<circle cx="523.15" cy="730.5" r="5.9" fill="url(#g_green)"/>
<circle cx="532.15" cy="727.45" r="5.9" fill="url(#g_green)"/>
<circle cx="541.15" cy="730.5" r="5.9" fill="url(#g_green)"/>
</g>
<line x1="86.7" y1="465.8" x2="541.5" y2="465.8" stroke="#000" stroke-width="1.6" />
<line x1="86.7" y1="832.2" x2="541.5" y2="832.2" stroke="#000" stroke-width="1.6" />
<line x1="86.7" y1="465.8" x2="86.7" y2="832.2" stroke="#000" stroke-width="1.6" />
<line x1="541.5" y1="465.8" x2="541.5" y2="832.2" stroke="#000" stroke-width="1.6" />
<line x1="205.5" y1="530" x2="205.5" y2="550.8" stroke="#000" stroke-width="1.3" />
<line x1="205.5" y1="550.8" x2="486" y2="550.8" stroke="#000" stroke-width="1.3" />
<polygon points="494,550.8 485,554 485,547.6" fill="#000"/>
<line x1="296.4" y1="784" x2="296.4" y2="810" stroke="#000" stroke-width="1.3" />
<line x1="296.4" y1="810" x2="98" y2="810" stroke="#000" stroke-width="1.3" />
<polygon points="90,810 99,806.8 99,813.2" fill="#000"/>
<circle cx="395.3" cy="576.9" r="5.9" fill="url(#g_navy)"/>
<text x="412.2" y="581.7" font-size="15" text-anchor="start" fill="#000" font-weight="normal" >SBS (NS-1-W)</text>
<circle cx="395.3" cy="593.9" r="5.9" fill="url(#g_red)"/>
<text x="412.2" y="598.7" font-size="15" text-anchor="start" fill="#000" font-weight="normal" >SBS (NS-2-W)</text>
<circle cx="395.3" cy="610.9" r="5.9" fill="url(#g_green)"/>
<text x="412.2" y="615.7" font-size="15" text-anchor="start" fill="#000" font-weight="normal" >SBS (NS-3-W)</text>
<rect x="390.6" y="623.2" width="9.4" height="9.4" fill="none" stroke="#4646bb" stroke-width="1.1"/>
<text x="412.2" y="632.7" font-size="15" text-anchor="start" fill="#000" font-weight="normal" >SBS (NS-1-W)</text>
<rect x="390.6" y="640.2" width="9.4" height="9.4" fill="none" stroke="#ff2a2a" stroke-width="1.1"/>
<text x="412.2" y="649.7" font-size="15" text-anchor="start" fill="#000" font-weight="normal" >SBS (NS-2-W)</text>
<rect x="390.6" y="657.2" width="9.4" height="9.4" fill="none" stroke="#1e8c1e" stroke-width="1.1"/>
<text x="412.2" y="666.7" font-size="15" text-anchor="start" fill="#000" font-weight="normal" >SBS (NS-3-W)</text>
<text x="157.5" y="655.3" font-size="15" text-anchor="start" fill="#000" font-weight="normal" >Current density: 50 mA g<tspan font-size="9.3" dy="-5.7">−1</tspan></text>
<line x1="780.29" y1="465.4" x2="780.29" y2="833.5" stroke="#666" stroke-width="0.85" stroke-dasharray="2,1.3,1,1.3,1,0.7"/>
<line x1="837.37" y1="465.4" x2="837.37" y2="833.5" stroke="#666" stroke-width="0.85" stroke-dasharray="2,1.3,1,1.3,1,0.7"/>
<line x1="894.46" y1="465.4" x2="894.46" y2="833.5" stroke="#666" stroke-width="0.85" stroke-dasharray="2,1.3,1,1.3,1,0.7"/>
<line x1="951.54" y1="465.4" x2="951.54" y2="833.5" stroke="#666" stroke-width="0.85" stroke-dasharray="2,1.3,1,1.3,1,0.7"/>
<line x1="1008.62" y1="465.4" x2="1008.62" y2="833.5" stroke="#666" stroke-width="0.85" stroke-dasharray="2,1.3,1,1.3,1,0.7"/>
<line x1="1065.71" y1="465.4" x2="1065.71" y2="833.5" stroke="#666" stroke-width="0.85" stroke-dasharray="2,1.3,1,1.3,1,0.7"/>
<line x1="1122.8" y1="465.4" x2="1122.8" y2="833.5" stroke="#666" stroke-width="0.85" stroke-dasharray="2,1.3,1,1.3,1,0.7"/>
<line x1="728.3" y1="465.4" x2="1185.5" y2="465.4" stroke="#000" stroke-width="1.4" />
<line x1="728.3" y1="833.5" x2="1185.5" y2="833.5" stroke="#000" stroke-width="1.4" />
<line x1="728.3" y1="465.4" x2="728.3" y2="833.5" stroke="#000" stroke-width="1.4" />
<line x1="1185.5" y1="465.4" x2="1185.5" y2="833.5" stroke="#000" stroke-width="1.4" />
<line x1="728.3" y1="833.3" x2="721.3" y2="833.3" stroke="#000" stroke-width="1.4" />
<text x="714.8" y="839.7" font-size="17.5" text-anchor="end" fill="#000" font-weight="normal" >0</text>
<line x1="728.3" y1="769.3" x2="721.3" y2="769.3" stroke="#000" stroke-width="1.4" />
<text x="714.8" y="775.7" font-size="17.5" text-anchor="end" fill="#000" font-weight="normal" >200</text>
<line x1="728.3" y1="705.3" x2="721.3" y2="705.3" stroke="#000" stroke-width="1.4" />
<text x="714.8" y="711.7" font-size="17.5" text-anchor="end" fill="#000" font-weight="normal" >400</text>
<line x1="728.3" y1="641.3" x2="721.3" y2="641.3" stroke="#000" stroke-width="1.4" />
<text x="714.8" y="647.7" font-size="17.5" text-anchor="end" fill="#000" font-weight="normal" >600</text>
<line x1="728.3" y1="577.3" x2="721.3" y2="577.3" stroke="#000" stroke-width="1.4" />
<text x="714.8" y="583.7" font-size="17.5" text-anchor="end" fill="#000" font-weight="normal" >800</text>
<line x1="728.3" y1="513.3" x2="721.3" y2="513.3" stroke="#000" stroke-width="1.4" />
<text x="714.8" y="519.7" font-size="17.5" text-anchor="end" fill="#000" font-weight="normal" >1000</text>
<line x1="728.3" y1="801.3" x2="724.8" y2="801.3" stroke="#000" stroke-width="1.4" />
<line x1="728.3" y1="737.3" x2="724.8" y2="737.3" stroke="#000" stroke-width="1.4" />
<line x1="728.3" y1="673.3" x2="724.8" y2="673.3" stroke="#000" stroke-width="1.4" />
<line x1="728.3" y1="609.3" x2="724.8" y2="609.3" stroke="#000" stroke-width="1.4" />
<line x1="728.3" y1="545.3" x2="724.8" y2="545.3" stroke="#000" stroke-width="1.4" />
<line x1="728.3" y1="481.3" x2="724.8" y2="481.3" stroke="#000" stroke-width="1.4" />
<line x1="837.37" y1="833.5" x2="837.37" y2="840.5" stroke="#000" stroke-width="1.4" />
<text x="837.37" y="860" font-size="17.5" text-anchor="middle" fill="#000" font-weight="normal" >10</text>
<line x1="951.54" y1="833.5" x2="951.54" y2="840.5" stroke="#000" stroke-width="1.4" />
<text x="951.54" y="860" font-size="17.5" text-anchor="middle" fill="#000" font-weight="normal" >20</text>
<line x1="1065.71" y1="833.5" x2="1065.71" y2="840.5" stroke="#000" stroke-width="1.4" />
<text x="1065.71" y="860" font-size="17.5" text-anchor="middle" fill="#000" font-weight="normal" >30</text>
<line x1="1179.88" y1="833.5" x2="1179.88" y2="840.5" stroke="#000" stroke-width="1.4" />
<text x="1179.88" y="860" font-size="17.5" text-anchor="middle" fill="#000" font-weight="normal" >40</text>
<line x1="780.29" y1="833.5" x2="780.29" y2="837" stroke="#000" stroke-width="1.4" />
<line x1="894.46" y1="833.5" x2="894.46" y2="837" stroke="#000" stroke-width="1.4" />
<line x1="1008.62" y1="833.5" x2="1008.62" y2="837" stroke="#000" stroke-width="1.4" />
<line x1="1122.8" y1="833.5" x2="1122.8" y2="837" stroke="#000" stroke-width="1.4" />
<text x="953.5" y="884.5" font-size="18" text-anchor="middle" fill="#000" font-weight="normal" >Cycle (n)</text>
<text x="663.8" y="642.4" font-size="18" text-anchor="middle" fill="#000" font-weight="normal" transform="rotate(-90 663.8 642.4)" >Discharge capacity (mAh g<tspan font-size="11.16" dy="-6.84">−1</tspan><tspan dy="6.84">)</tspan></text>
<text x="644.3" y="464" font-size="30" text-anchor="start" fill="#000" font-weight="bold" >d</text>
<circle cx="734.62" cy="474.9" r="6" fill="url(#g_navy)"/>
<circle cx="746.03" cy="691.54" r="6" fill="url(#g_navy)"/>
<circle cx="757.45" cy="701.14" r="6" fill="url(#g_navy)"/>
<circle cx="768.87" cy="701.14" r="6" fill="url(#g_navy)"/>
<circle cx="780.29" cy="712.34" r="6" fill="url(#g_navy)"/>
<circle cx="791.7" cy="710.1" r="6" fill="url(#g_navy)"/>
<circle cx="803.12" cy="712.34" r="6" fill="url(#g_navy)"/>
<circle cx="814.54" cy="713.94" r="6" fill="url(#g_navy)"/>
<circle cx="825.95" cy="722.58" r="6" fill="url(#g_navy)"/>
<circle cx="837.37" cy="729.94" r="6" fill="url(#g_navy)"/>
<circle cx="848.79" cy="735.06" r="6" fill="url(#g_navy)"/>
<circle cx="860.2" cy="745.94" r="6" fill="url(#g_navy)"/>
<circle cx="871.62" cy="741.14" r="6" fill="url(#g_navy)"/>
<circle cx="883.04" cy="755.86" r="6" fill="url(#g_navy)"/>
<circle cx="894.46" cy="753.62" r="6" fill="url(#g_navy)"/>
<circle cx="905.87" cy="768.98" r="6" fill="url(#g_navy)"/>
<circle cx="917.29" cy="776.66" r="6" fill="url(#g_navy)"/>
<circle cx="928.71" cy="779.86" r="6" fill="url(#g_navy)"/>
<circle cx="940.12" cy="784.02" r="6" fill="url(#g_navy)"/>
<circle cx="951.54" cy="782.42" r="6" fill="url(#g_navy)"/>
<circle cx="962.96" cy="797.46" r="6" fill="url(#g_navy)"/>
<circle cx="974.37" cy="800.02" r="6" fill="url(#g_navy)"/>
<circle cx="985.79" cy="798.42" r="6" fill="url(#g_navy)"/>
<circle cx="997.21" cy="798.42" r="6" fill="url(#g_navy)"/>
<circle cx="1008.62" cy="797.46" r="6" fill="url(#g_navy)"/>
<circle cx="1020.04" cy="808.34" r="6" fill="url(#g_navy)"/>
<circle cx="1031.46" cy="810.58" r="6" fill="url(#g_navy)"/>
<circle cx="1042.88" cy="810.58" r="6" fill="url(#g_navy)"/>
<circle cx="1054.29" cy="810.58" r="6" fill="url(#g_navy)"/>
<circle cx="1065.71" cy="810.58" r="6" fill="url(#g_navy)"/>
<circle cx="1077.13" cy="816.02" r="6" fill="url(#g_navy)"/>
<circle cx="1088.54" cy="817.94" r="6" fill="url(#g_navy)"/>
<circle cx="1099.96" cy="817.94" r="6" fill="url(#g_navy)"/>
<circle cx="1111.38" cy="817.94" r="6" fill="url(#g_navy)"/>
<circle cx="1122.8" cy="817.94" r="6" fill="url(#g_navy)"/>
<circle cx="1134.21" cy="733.14" r="6" fill="url(#g_navy)"/>
<circle cx="1145.63" cy="741.78" r="6" fill="url(#g_navy)"/>
<circle cx="1157.05" cy="742.74" r="6" fill="url(#g_navy)"/>
<circle cx="1168.46" cy="748.82" r="6" fill="url(#g_navy)"/>
<circle cx="1179.88" cy="755.86" r="6" fill="url(#g_navy)"/>
<circle cx="734.62" cy="481.62" r="6" fill="url(#g_red)"/>
<circle cx="746.03" cy="673.62" r="6" fill="url(#g_red)"/>
<circle cx="757.45" cy="676.5" r="6" fill="url(#g_red)"/>
<circle cx="768.87" cy="678.42" r="6" fill="url(#g_red)"/>
<circle cx="780.29" cy="683.54" r="6" fill="url(#g_red)"/>
<circle cx="791.7" cy="664.98" r="6" fill="url(#g_red)"/>
<circle cx="803.12" cy="674.9" r="6" fill="url(#g_red)"/>
<circle cx="814.54" cy="676.5" r="6" fill="url(#g_red)"/>
<circle cx="825.95" cy="682.58" r="6" fill="url(#g_red)"/>
<circle cx="837.37" cy="683.54" r="6" fill="url(#g_red)"/>
<circle cx="848.79" cy="683.54" r="6" fill="url(#g_red)"/>
<circle cx="860.2" cy="697.62" r="6" fill="url(#g_red)"/>
<circle cx="871.62" cy="680.98" r="6" fill="url(#g_red)"/>
<circle cx="883.04" cy="696.66" r="6" fill="url(#g_red)"/>
<circle cx="894.46" cy="695.06" r="6" fill="url(#g_red)"/>
<circle cx="905.87" cy="720.98" r="6" fill="url(#g_red)"/>
<circle cx="917.29" cy="724.18" r="6" fill="url(#g_red)"/>
<circle cx="928.71" cy="717.46" r="6" fill="url(#g_red)"/>
<circle cx="940.12" cy="720.98" r="6" fill="url(#g_red)"/>
<circle cx="951.54" cy="725.14" r="6" fill="url(#g_red)"/>
<circle cx="962.96" cy="752.66" r="6" fill="url(#g_red)"/>
<circle cx="974.37" cy="755.86" r="6" fill="url(#g_red)"/>
<circle cx="985.79" cy="754.9" r="6" fill="url(#g_red)"/>
<circle cx="997.21" cy="754.9" r="6" fill="url(#g_red)"/>
<circle cx="1008.62" cy="753.94" r="6" fill="url(#g_red)"/>
<circle cx="1020.04" cy="784.02" r="6" fill="url(#g_red)"/>
<circle cx="1031.46" cy="786.58" r="6" fill="url(#g_red)"/>
<circle cx="1042.88" cy="786.58" r="6" fill="url(#g_red)"/>
<circle cx="1054.29" cy="786.58" r="6" fill="url(#g_red)"/>
<circle cx="1065.71" cy="786.58" r="6" fill="url(#g_red)"/>
<circle cx="1077.13" cy="804.18" r="6" fill="url(#g_red)"/>
<circle cx="1088.54" cy="806.1" r="6" fill="url(#g_red)"/>
<circle cx="1099.96" cy="806.1" r="6" fill="url(#g_red)"/>
<circle cx="1111.38" cy="806.1" r="6" fill="url(#g_red)"/>
<circle cx="1122.8" cy="806.1" r="6" fill="url(#g_red)"/>
<circle cx="1134.21" cy="712.34" r="6" fill="url(#g_red)"/>
<circle cx="1145.63" cy="695.06" r="6" fill="url(#g_red)"/>
<circle cx="1157.05" cy="702.42" r="6" fill="url(#g_red)"/>
<circle cx="1168.46" cy="706.58" r="6" fill="url(#g_red)"/>
<circle cx="1179.88" cy="704.98" r="6" fill="url(#g_red)"/>
<circle cx="734.62" cy="505.3" r="6" fill="url(#g_green)"/>
<circle cx="746.03" cy="681.62" r="6" fill="url(#g_green)"/>
<circle cx="757.45" cy="686.42" r="6" fill="url(#g_green)"/>
<circle cx="768.87" cy="688.66" r="6" fill="url(#g_green)"/>
<circle cx="780.29" cy="688.66" r="6" fill="url(#g_green)"/>
<circle cx="791.7" cy="673.62" r="6" fill="url(#g_green)"/>
<circle cx="803.12" cy="677.46" r="6" fill="url(#g_green)"/>
<circle cx="814.54" cy="681.62" r="6" fill="url(#g_green)"/>
<circle cx="825.95" cy="687.38" r="6" fill="url(#g_green)"/>
<circle cx="837.37" cy="685.14" r="6" fill="url(#g_green)"/>
<circle cx="848.79" cy="686.42" r="6" fill="url(#g_green)"/>
<circle cx="860.2" cy="689.94" r="6" fill="url(#g_green)"/>
<circle cx="871.62" cy="688.66" r="6" fill="url(#g_green)"/>
<circle cx="883.04" cy="692.5" r="6" fill="url(#g_green)"/>
<circle cx="894.46" cy="691.54" r="6" fill="url(#g_green)"/>
<circle cx="905.87" cy="714.9" r="6" fill="url(#g_green)"/>
<circle cx="917.29" cy="714.9" r="6" fill="url(#g_green)"/>
<circle cx="928.71" cy="711.38" r="6" fill="url(#g_green)"/>
<circle cx="940.12" cy="705.94" r="6" fill="url(#g_green)"/>
<circle cx="951.54" cy="710.1" r="6" fill="url(#g_green)"/>
<circle cx="962.96" cy="744.02" r="6" fill="url(#g_green)"/>
<circle cx="974.37" cy="745.94" r="6" fill="url(#g_green)"/>
<circle cx="985.79" cy="741.46" r="6" fill="url(#g_green)"/>
<circle cx="997.21" cy="741.46" r="6" fill="url(#g_green)"/>
<circle cx="1008.62" cy="741.78" r="6" fill="url(#g_green)"/>
<circle cx="1020.04" cy="776.02" r="6" fill="url(#g_green)"/>
<circle cx="1031.46" cy="781.14" r="6" fill="url(#g_green)"/>
<circle cx="1042.88" cy="781.14" r="6" fill="url(#g_green)"/>
<circle cx="1054.29" cy="781.14" r="6" fill="url(#g_green)"/>
<circle cx="1065.71" cy="781.46" r="6" fill="url(#g_green)"/>
<circle cx="1077.13" cy="794.9" r="6" fill="url(#g_green)"/>
<circle cx="1088.54" cy="797.78" r="6" fill="url(#g_green)"/>
<circle cx="1099.96" cy="797.78" r="6" fill="url(#g_green)"/>
<circle cx="1111.38" cy="797.78" r="6" fill="url(#g_green)"/>
<circle cx="1122.8" cy="797.78" r="6" fill="url(#g_green)"/>
<circle cx="1134.21" cy="720.02" r="6" fill="url(#g_green)"/>
<circle cx="1145.63" cy="710.1" r="6" fill="url(#g_green)"/>
<circle cx="1157.05" cy="715.86" r="6" fill="url(#g_green)"/>
<circle cx="1168.46" cy="719.06" r="6" fill="url(#g_green)"/>
<circle cx="1179.88" cy="719.06" r="6" fill="url(#g_green)"/>
<text x="730.6" y="665" font-size="12.3" text-anchor="start" fill="#000" font-weight="normal" >20 mA g<tspan font-size="7.63" dy="-4.67">−1</tspan></text>
<text x="785.6" y="649.6" font-size="12.3" text-anchor="start" fill="#000" font-weight="normal" >50 mA g<tspan font-size="7.63" dy="-4.67">−1</tspan></text>
<text x="840" y="659" font-size="12.3" text-anchor="start" fill="#000" font-weight="normal" >100 mA g<tspan font-size="7.63" dy="-4.67">−1</tspan></text>
<text x="897" y="679" font-size="12.3" text-anchor="start" fill="#000" font-weight="normal" >200 mA g<tspan font-size="7.63" dy="-4.67">−1</tspan></text>
<text x="961.6" y="728.4" font-size="12.3" text-anchor="start" fill="#000" font-weight="normal" >300 mA g<tspan font-size="7.63" dy="-4.67">−1</tspan></text>
<text x="1020" y="760" font-size="12.3" text-anchor="start" fill="#000" font-weight="normal" >500 mA g<tspan font-size="7.63" dy="-4.67">−1</tspan></text>
<text x="1083.6" y="776.4" font-size="12.3" text-anchor="start" fill="#000" font-weight="normal" >1 A g<tspan font-size="7.63" dy="-4.67">−1</tspan></text>
<text x="1128" y="681" font-size="12.3" text-anchor="start" fill="#000" font-weight="normal" >50 mA g<tspan font-size="7.63" dy="-4.67">−1</tspan></text>
<circle cx="1012.25" cy="522.85" r="6" fill="url(#g_navy)"/>
<text x="1032.5" y="527.25" font-size="15" text-anchor="start" fill="#000" font-weight="normal" >SBS (NS-1-W)</text>
<circle cx="1012.25" cy="540.15" r="6" fill="url(#g_red)"/>
<text x="1032.5" y="544.55" font-size="15" text-anchor="start" fill="#000" font-weight="normal" >SBS (NS-2-W)</text>
<circle cx="1012.25" cy="557.45" r="6" fill="url(#g_green)"/>
<text x="1032.5" y="561.85" font-size="15" text-anchor="start" fill="#000" font-weight="normal" >SBS (NS-3-W)</text>
<rect x="1008.6" y="321.4" width="120.4" height="504.8" fill="none" stroke="#8395b0" stroke-width="4" stroke-dasharray="9.4,4.6"/>
<path d="M80.8,935 C80.8,955.83 80.73,1032.5 80.8,1060 C80.87,1087.5 81.04,1092.17 81.2,1100 C81.36,1107.83 80.78,1105.08 81.75,1107 C82.72,1108.92 85.25,1109.5 87,1111.5 C88.75,1113.5 91,1116 92.25,1119 C93.5,1122 93.38,1125.25 94.5,1129.5 C95.62,1133.75 97.5,1140 99,1144.5 C100.5,1149 101.5,1152.25 103.5,1156.5 C105.5,1160.75 108.75,1166 111,1170 C113.25,1174 115,1177.5 117,1180.5 C119,1183.5 121,1186 123,1188 C125,1190 127.38,1191.25 129,1192.5 C130.62,1193.75 131.88,1194.75 132.75,1195.5 C133.62,1196.25 132.88,1196.95 134.25,1197 C135.62,1197.05 135.38,1195.8 141,1195.8 C146.62,1195.8 158.5,1196.42 168,1197 C177.5,1197.58 190.5,1198.5 198,1199.25 C205.5,1200 209.25,1201.38 213,1201.5 C216.75,1201.62 218,1199.75 220.5,1200 C223,1200.25 225.5,1202.5 228,1203 C230.5,1203.5 233,1202.38 235.5,1203 C238,1203.62 239.25,1205.25 243,1206.75 C246.75,1208.25 254.17,1210.62 258,1212 C261.83,1213.38 262.33,1212.75 266,1215 C269.67,1217.25 274.75,1222 280,1225.5 C285.25,1229 291.67,1232.78 297.5,1236 C303.33,1239.22 309.17,1242.47 315,1244.8 C320.83,1247.13 326.67,1248.43 332.5,1250 C338.33,1251.57 344.17,1252.45 350,1254.2 C355.83,1255.95 361.67,1257.7 367.5,1260.5 C373.33,1263.3 380.33,1267.5 385,1271 C389.67,1274.5 392.12,1277.63 395.5,1281.5 C398.88,1285.37 403.67,1292.08 405.3,1294.2" fill="none" stroke="#008000" stroke-width="2.2" stroke-linejoin="round" stroke-linecap="round"/>
<path d="M80.8,1294 C80.8,1291.58 80.52,1290.17 80.8,1279.5 C81.08,1268.83 81.72,1239.75 82.5,1230 C83.28,1220.25 84.25,1223.5 85.5,1221 C86.75,1218.5 87.5,1217.25 90,1215 C92.5,1212.75 96.25,1210 100.5,1207.5 C104.75,1205 110.5,1202.25 115.5,1200 C120.5,1197.75 126.25,1196.5 130.5,1194 C134.75,1191.5 137.75,1188.5 141,1185 C144.25,1181.5 147.25,1177.25 150,1173 C152.75,1168.75 155,1164.25 157.5,1159.5 C160,1154.75 162.25,1150 165,1144.5 C167.75,1139 171,1133 174,1126.5 C177,1120 180.42,1110.92 183,1105.5 C185.58,1100.08 187.25,1100.33 189.5,1094 C191.75,1087.67 194.58,1076.33 196.5,1067.5 C198.42,1058.67 199.82,1049.83 201,1041 C202.18,1032.17 202.95,1022.6 203.6,1014.5 C204.25,1006.4 204.48,999.02 204.9,992.4 C205.32,985.78 205.8,979.95 206.1,974.8 C206.4,969.65 206.5,965.47 206.7,961.5 C206.9,957.53 207.2,952.75 207.3,951" fill="none" stroke="#008000" stroke-width="2.2" stroke-linejoin="round" stroke-linecap="round"/>
<path d="M80.8,1002 C80.82,1018.33 80.87,1077 80.9,1100 C80.93,1123 80.73,1128.33 81,1140 C81.27,1151.67 81.88,1161 82.5,1170 C83.12,1179 83.88,1189.62 84.75,1194 C85.62,1198.38 86.88,1197.25 87.75,1196.25 C88.62,1195.25 89.12,1190.12 90,1188 C90.88,1185.88 91.75,1184.12 93,1183.5 C94.25,1182.88 96,1183.25 97.5,1184.25 C99,1185.25 100.25,1186.88 102,1189.5 C103.75,1192.12 105.75,1196.25 108,1200 C110.25,1203.75 113,1208 115.5,1212 C118,1216 120.5,1220.5 123,1224 C125.5,1227.5 127.5,1230.25 130.5,1233 C133.5,1235.75 137.25,1238.25 141,1240.5 C144.75,1242.75 148.5,1244.25 153,1246.5 C157.5,1248.75 163,1251.5 168,1254 C173,1256.5 178,1259.25 183,1261.5 C188,1263.75 194.25,1265.5 198,1267.5 C201.75,1269.5 203.5,1271.25 205.5,1273.5 C207.5,1275.75 208.5,1278.25 210,1281 C211.5,1283.75 213.38,1287.83 214.5,1290 C215.62,1292.17 216.38,1293.33 216.75,1294" fill="none" stroke="#ff8000" stroke-width="2.2" stroke-linejoin="round" stroke-linecap="round"/>
<path d="M80.8,1290 C80.83,1287.5 80.59,1285 81,1275 C81.41,1265 82.25,1239.5 83.25,1230 C84.25,1220.5 85.38,1221.25 87,1218 C88.62,1214.75 89.5,1213.12 93,1210.5 C96.5,1207.88 103,1204.62 108,1202.25 C113,1199.88 118.5,1198.62 123,1196.25 C127.5,1193.88 131.25,1191.38 135,1188 C138.75,1184.62 142.5,1180 145.5,1176 C148.5,1172 150.25,1169 153,1164 C155.75,1159 159,1152 162,1146 C165,1140 168,1134.5 171,1128 C174,1121.5 177.37,1112.67 180,1107 C182.63,1101.33 184.48,1100.58 186.8,1094 C189.12,1087.42 191.98,1076.33 193.9,1067.5 C195.82,1058.67 197.12,1049.83 198.3,1041 C199.48,1032.17 200.27,1022.6 201,1014.5 C201.73,1006.4 202.2,999.02 202.7,992.4 C203.2,985.78 203.63,979.95 204,974.8 C204.37,969.65 204.67,965.47 204.9,961.5 C205.13,957.53 205.32,952.75 205.4,951" fill="none" stroke="#ff8000" stroke-width="2.2" stroke-linejoin="round" stroke-linecap="round"/>
<path d="M80.8,1015 C80.83,1028.33 80.72,1071.67 81,1095 C81.28,1118.33 81.75,1141.25 82.5,1155 C83.25,1168.75 84.25,1171.25 85.5,1177.5 C86.75,1183.75 88.25,1188.25 90,1192.5 C91.75,1196.75 94,1199.75 96,1203 C98,1206.25 99.5,1208.5 102,1212 C104.5,1215.5 108,1220.25 111,1224 C114,1227.75 116.75,1231.25 120,1234.5 C123.25,1237.75 126.25,1240.5 130.5,1243.5 C134.75,1246.5 140.5,1249.75 145.5,1252.5 C150.5,1255.25 155.5,1257.25 160.5,1260 C165.5,1262.75 170.5,1266.25 175.5,1269 C180.5,1271.75 186.75,1274.5 190.5,1276.5 C194.25,1278.5 196,1279 198,1281 C200,1283 201.25,1286.33 202.5,1288.5 C203.75,1290.67 205,1293.08 205.5,1294" fill="none" stroke="#000080" stroke-width="2.2" stroke-linejoin="round" stroke-linecap="round"/>
<path d="M80.8,1285 C80.8,1280.83 80.52,1270.42 80.8,1260 C81.08,1249.58 81.47,1231.25 82.5,1222.5 C83.53,1213.75 85.25,1210.75 87,1207.5 C88.75,1204.25 89.5,1204.75 93,1203 C96.5,1201.25 103,1199.25 108,1197 C113,1194.75 118.5,1192.25 123,1189.5 C127.5,1186.75 131.75,1183.75 135,1180.5 C138.25,1177.25 140,1174.25 142.5,1170 C145,1165.75 147.5,1160.25 150,1155 C152.5,1149.75 154.75,1144.75 157.5,1138.5 C160.25,1132.25 163.08,1124.92 166.5,1117.5 C169.92,1110.08 175.05,1102.33 178,1094 C180.95,1085.67 182.28,1076.33 184.2,1067.5 C186.12,1058.67 188.03,1049.83 189.5,1041 C190.97,1032.17 191.97,1022.6 193,1014.5 C194.03,1006.4 194.97,999.02 195.7,992.4 C196.43,985.78 196.82,979.95 197.4,974.8 C197.98,969.65 198.6,965.47 199.2,961.5 C199.8,957.53 200.7,952.75 201,951" fill="none" stroke="#000080" stroke-width="2.2" stroke-linejoin="round" stroke-linecap="round"/>
<path d="M80.8,1020 C80.83,1032.5 80.72,1072.5 81,1095 C81.28,1117.5 81.75,1141.25 82.5,1155 C83.25,1168.75 84.25,1171.25 85.5,1177.5 C86.75,1183.75 88.25,1188.42 90,1192.5 C91.75,1196.58 94,1199 96,1202 C98,1205 99.5,1207.33 102,1210.5 C104.5,1213.67 108,1217.58 111,1221 C114,1224.42 116.75,1227.83 120,1231 C123.25,1234.17 126.25,1237 130.5,1240 C134.75,1243 140.5,1246.17 145.5,1249 C150.5,1251.83 155.5,1254.17 160.5,1257 C165.5,1259.83 171.75,1263.67 175.5,1266 C179.25,1268.33 179.25,1269 183,1271 C186.75,1273 193.5,1275.92 198,1278 C202.5,1280.08 206.75,1281.75 210,1283.5 C213.25,1285.25 215.5,1286.75 217.5,1288.5 C219.5,1290.25 221.25,1293.08 222,1294" fill="none" stroke="#800080" stroke-width="2.2" stroke-linejoin="round" stroke-linecap="round"/>
<path d="M81.3,1285.6 C81.3,1278.93 81.02,1257.27 81.3,1245.6 C81.58,1233.93 81.97,1222.35 83,1215.6 C84.03,1208.85 85.75,1207.6 87.5,1205.1 C89.25,1202.6 90,1202.6 93.5,1200.6 C97,1198.6 103.5,1195.6 108.5,1193.1 C113.5,1190.6 119.25,1188.35 123.5,1185.6 C127.75,1182.85 131,1179.85 134,1176.6 C137,1173.35 139,1170.35 141.5,1166.1 C144,1161.85 146.5,1156.6 149,1151.1 C151.5,1145.6 154,1139.35 156.5,1133.1 C159,1126.85 161.37,1120.02 164,1113.6 C166.63,1107.18 170.03,1103.65 172.3,1094.6 C174.57,1085.55 175.98,1069.6 177.6,1059.3 C179.22,1049 180.67,1040.47 182,1032.8 C183.33,1025.13 184.57,1018.45 185.6,1013.3 C186.63,1008.15 187.13,1005.43 188.2,1001.9 C189.27,998.37 190.77,994.9 192,992.1 C193.23,989.3 194.13,987.15 195.6,985.1 C197.07,983.05 199.03,981.87 200.8,979.8 C202.57,977.73 204.72,974.92 206.2,972.7 C207.68,970.48 208.53,968.85 209.7,966.5 C210.87,964.15 212.02,961.08 213.2,958.6 C214.38,956.12 216.2,952.77 216.8,951.6" fill="none" stroke="#800080" stroke-width="2.2" stroke-linejoin="round" stroke-linecap="round"/>
<path d="M80.8,1015 C80.83,1033.33 80.47,1099.17 81,1125 C81.53,1150.83 82.75,1158.75 84,1170 C85.25,1181.25 86.75,1186.25 88.5,1192.5 C90.25,1198.75 92.25,1203 94.5,1207.5 C96.75,1212 98.5,1215 102,1219.5 C105.5,1224 110.75,1230 115.5,1234.5 C120.25,1239 125.5,1243 130.5,1246.5 C135.5,1250 140.5,1252.25 145.5,1255.5 C150.5,1258.75 156.25,1262.5 160.5,1266 C164.75,1269.5 167.25,1274.25 171,1276.5 C174.75,1278.75 178.5,1278.25 183,1279.5 C187.5,1280.75 193.75,1282.5 198,1284 C202.25,1285.5 205.5,1286.83 208.5,1288.5 C211.5,1290.17 214.75,1293.08 216,1294" fill="none" stroke="#ff0000" stroke-width="2.2" stroke-linejoin="round" stroke-linecap="round"/>
<path d="M80.8,1285 C80.8,1278.33 80.52,1256.67 80.8,1245 C81.08,1233.33 81.47,1221.75 82.5,1215 C83.53,1208.25 85.25,1207 87,1204.5 C88.75,1202 89.5,1202 93,1200 C96.5,1198 103,1195 108,1192.5 C113,1190 118.75,1187.75 123,1185 C127.25,1182.25 130.5,1179.25 133.5,1176 C136.5,1172.75 138.5,1169.75 141,1165.5 C143.5,1161.25 146,1156 148.5,1150.5 C151,1145 153.5,1138.75 156,1132.5 C158.5,1126.25 160.87,1119.42 163.5,1113 C166.13,1106.58 169.53,1103.05 171.8,1094 C174.07,1084.95 175.48,1069 177.1,1058.7 C178.72,1048.4 180.17,1039.87 181.5,1032.2 C182.83,1024.53 184.07,1017.85 185.1,1012.7 C186.13,1007.55 186.68,1004.83 187.7,1001.3 C188.72,997.77 190.02,994.3 191.2,991.5 C192.38,988.7 193.33,986.55 194.8,984.5 C196.27,982.45 198.23,981.27 200,979.2 C201.77,977.13 203.92,974.32 205.4,972.1 C206.88,969.88 207.73,968.25 208.9,965.9 C210.07,963.55 211.22,960.48 212.4,958 C213.58,955.52 215.4,952.17 216,951" fill="none" stroke="#ff0000" stroke-width="2.2" stroke-linejoin="round" stroke-linecap="round"/>
<line x1="80.8" y1="935" x2="407.8" y2="935" stroke="#000" stroke-width="1.5" />
<line x1="80.8" y1="1294.2" x2="407.8" y2="1294.2" stroke="#000" stroke-width="1.5" />
<line x1="407.8" y1="935" x2="407.8" y2="1294.2" stroke="#000" stroke-width="1.5" />
<line x1="80.8" y1="1294.2" x2="73" y2="1294.2" stroke="#000" stroke-width="1.5" />
<text x="66" y="1300.6" font-size="17.5" text-anchor="end" fill="#000" font-weight="normal" >0.0</text>
<line x1="80.8" y1="1208.4" x2="73" y2="1208.4" stroke="#000" stroke-width="1.5" />
<text x="66" y="1214.8" font-size="17.5" text-anchor="end" fill="#000" font-weight="normal" >0.5</text>
<line x1="80.8" y1="1122.6" x2="73" y2="1122.6" stroke="#000" stroke-width="1.5" />
<text x="66" y="1129" font-size="17.5" text-anchor="end" fill="#000" font-weight="normal" >1.0</text>
<line x1="80.8" y1="1036.8" x2="73" y2="1036.8" stroke="#000" stroke-width="1.5" />
<text x="66" y="1043.2" font-size="17.5" text-anchor="end" fill="#000" font-weight="normal" >1.5</text>
<line x1="80.8" y1="951" x2="73" y2="951" stroke="#000" stroke-width="1.5" />
<text x="66" y="957.4" font-size="17.5" text-anchor="end" fill="#000" font-weight="normal" >2.0</text>
<line x1="80.8" y1="1251.3" x2="77.3" y2="1251.3" stroke="#000" stroke-width="1.5" />
<line x1="80.8" y1="1165.5" x2="77.3" y2="1165.5" stroke="#000" stroke-width="1.5" />
<line x1="80.8" y1="1079.7" x2="77.3" y2="1079.7" stroke="#000" stroke-width="1.5" />
<line x1="80.8" y1="993.9" x2="77.3" y2="993.9" stroke="#000" stroke-width="1.5" />
<line x1="80.5" y1="1294.2" x2="80.5" y2="1301.7" stroke="#000" stroke-width="1.5" />
<text x="80.5" y="1319.5" font-size="17.5" text-anchor="middle" fill="#000" font-weight="normal" >0</text>
<line x1="133.8" y1="1294.2" x2="133.8" y2="1301.7" stroke="#000" stroke-width="1.5" />
<text x="133.8" y="1319.5" font-size="17.5" text-anchor="middle" fill="#000" font-weight="normal" >200</text>
<line x1="187.1" y1="1294.2" x2="187.1" y2="1301.7" stroke="#000" stroke-width="1.5" />
<text x="187.1" y="1319.5" font-size="17.5" text-anchor="middle" fill="#000" font-weight="normal" >400</text>
<line x1="240.4" y1="1294.2" x2="240.4" y2="1301.7" stroke="#000" stroke-width="1.5" />
<text x="240.4" y="1319.5" font-size="17.5" text-anchor="middle" fill="#000" font-weight="normal" >600</text>
<line x1="293.7" y1="1294.2" x2="293.7" y2="1301.7" stroke="#000" stroke-width="1.5" />
<text x="293.7" y="1319.5" font-size="17.5" text-anchor="middle" fill="#000" font-weight="normal" >800</text>
<line x1="347" y1="1294.2" x2="347" y2="1301.7" stroke="#000" stroke-width="1.5" />
<text x="347" y="1319.5" font-size="17.5" text-anchor="middle" fill="#000" font-weight="normal" >1000</text>
<line x1="400.3" y1="1294.2" x2="400.3" y2="1301.7" stroke="#000" stroke-width="1.5" />
<text x="400.3" y="1319.5" font-size="17.5" text-anchor="middle" fill="#000" font-weight="normal" >1200</text>
<line x1="107.15" y1="1294.2" x2="107.15" y2="1297.7" stroke="#000" stroke-width="1.5" />
<line x1="160.45" y1="1294.2" x2="160.45" y2="1297.7" stroke="#000" stroke-width="1.5" />
<line x1="213.75" y1="1294.2" x2="213.75" y2="1297.7" stroke="#000" stroke-width="1.5" />
<line x1="267.05" y1="1294.2" x2="267.05" y2="1297.7" stroke="#000" stroke-width="1.5" />
<line x1="320.35" y1="1294.2" x2="320.35" y2="1297.7" stroke="#000" stroke-width="1.5" />
<line x1="373.65" y1="1294.2" x2="373.65" y2="1297.7" stroke="#000" stroke-width="1.5" />
<text x="240" y="1346.25" font-size="18" text-anchor="middle" fill="#000" font-weight="normal" >Capacity (mAh g<tspan font-size="11.16" dy="-6.84">−1</tspan>)</text>
<text x="25.5" y="1114" font-size="18" text-anchor="middle" fill="#000" font-weight="normal" transform="rotate(-90 25.5 1114)" >Potential (V versus K/K<tspan font-size="11.16" dy="-6.84">+</tspan><tspan dy="6.84">)</tspan></text>
<text x="-0.5" y="934" font-size="30" text-anchor="start" fill="#000" font-weight="bold" >e</text>
<rect x="179.75" y="945.6" width="46.35" height="41.5" fill="none" stroke="#0000ff" stroke-width="1.6" stroke-dasharray="3,2.4"/>
<line x1="226.4" y1="966.4" x2="252" y2="966.4" stroke="#000" stroke-width="1.0" />
<polygon points="260.4,966.4 251.4,969 251.4,963.8" fill="#000"/>
<rect x="264.6" y="944.9" width="119" height="95.6" fill="none" stroke="#0000ff" stroke-width="1.7" stroke-dasharray="2.8,2.5"/>
<path d="M295.1,1038.4 L316.6,964" fill="none" stroke="#000080" stroke-width="3.6" stroke-linejoin="round" stroke-linecap="round"/>
<path d="M321.7,1038.4 L333.3,963.3" fill="none" stroke="#ff8000" stroke-width="3.8" stroke-linejoin="round" stroke-linecap="round"/>
<path d="M326.9,1038.4 L337.6,964" fill="none" stroke="#008000" stroke-width="3.8" stroke-linejoin="round" stroke-linecap="round"/>
<path d="M270.1,1039.9 C271.4,1038.25 275.18,1033.07 277.9,1030 C280.62,1026.93 282.87,1023.98 286.4,1021.5 C289.93,1019.02 294.62,1017.23 299.1,1015.1 C303.58,1012.97 308.58,1011.18 313.3,1008.7 C318.02,1006.22 322.68,1003.27 327.4,1000.2 C332.12,997.13 336.87,994.07 341.6,990.3 C346.33,986.53 350.8,981.98 355.8,977.6 C360.8,973.22 368.97,966.27 371.6,964" fill="none" stroke="#800080" stroke-width="4.0" stroke-linejoin="round" stroke-linecap="round"/>
<path d="M268.9,1038.4 C270.2,1036.75 273.98,1031.57 276.7,1028.5 C279.42,1025.43 281.67,1022.48 285.2,1020 C288.73,1017.52 293.42,1015.73 297.9,1013.6 C302.38,1011.47 307.38,1009.68 312.1,1007.2 C316.82,1004.72 321.48,1001.77 326.2,998.7 C330.92,995.63 335.67,992.57 340.4,988.8 C345.13,985.03 350.12,980.23 354.6,976.1 C359.08,971.97 365.18,966.02 367.3,964" fill="none" stroke="#ff0000" stroke-width="4.2" stroke-linejoin="round" stroke-linecap="round"/>
<line x1="306.8" y1="1097.5" x2="349.8" y2="1097.5" stroke="#008000" stroke-width="2.3" stroke-linecap="round"/>
<text x="355.5" y="1103.3" font-size="18" text-anchor="start" fill="#000" font-weight="normal" >1st</text>
<line x1="306.8" y1="1123" x2="349.8" y2="1123" stroke="#ff8000" stroke-width="2.3" stroke-linecap="round"/>
<text x="355.5" y="1128.8" font-size="18" text-anchor="start" fill="#000" font-weight="normal" >2nd</text>
<line x1="306.8" y1="1148.5" x2="349.8" y2="1148.5" stroke="#000080" stroke-width="2.3" stroke-linecap="round"/>
<text x="355.5" y="1154.3" font-size="18" text-anchor="start" fill="#000" font-weight="normal" >20th</text>
<line x1="306.8" y1="1174" x2="349.8" y2="1174" stroke="#800080" stroke-width="2.3" stroke-linecap="round"/>
<text x="355.5" y="1179.8" font-size="18" text-anchor="start" fill="#000" font-weight="normal" >40th</text>
<line x1="306.8" y1="1199.5" x2="349.8" y2="1199.5" stroke="#ff0000" stroke-width="2.3" stroke-linecap="round"/>
<text x="355.5" y="1205.3" font-size="18" text-anchor="start" fill="#000" font-weight="normal" >50th</text>
<rect x="471.7" y="1192.35" width="3.4" height="3.4" fill="#000080"/>
<rect x="473.85" y="1195.05" width="3.4" height="3.4" fill="#000080"/>
<rect x="476" y="1197.7" width="3.4" height="3.4" fill="#000080"/>
<rect x="478.15" y="1188.56" width="3.4" height="3.4" fill="#000080"/>
<rect x="480.3" y="1191.52" width="3.4" height="3.4" fill="#000080"/>
<rect x="482.45" y="1186.68" width="3.4" height="3.4" fill="#000080"/>
<rect x="484.6" y="1184.12" width="3.4" height="3.4" fill="#000080"/>
<rect x="486.75" y="1182.18" width="3.4" height="3.4" fill="#000080"/>
<rect x="488.9" y="1176.69" width="3.4" height="3.4" fill="#000080"/>
<rect x="491.05" y="1178.73" width="3.4" height="3.4" fill="#000080"/>
<rect x="493.2" y="1177.44" width="3.4" height="3.4" fill="#000080"/>
<rect x="495.35" y="1180.69" width="3.4" height="3.4" fill="#000080"/>
<rect x="497.5" y="1171.16" width="3.4" height="3.4" fill="#000080"/>
<rect x="499.65" y="1163.5" width="3.4" height="3.4" fill="#000080"/>
<rect x="501.8" y="1162.21" width="3.4" height="3.4" fill="#000080"/>
<rect x="503.95" y="1166.42" width="3.4" height="3.4" fill="#000080"/>
<rect x="506.1" y="1160.47" width="3.4" height="3.4" fill="#000080"/>
<rect x="508.25" y="1154.64" width="3.4" height="3.4" fill="#000080"/>
<rect x="510.4" y="1154.55" width="3.4" height="3.4" fill="#000080"/>
<rect x="512.55" y="1146.3" width="3.4" height="3.4" fill="#000080"/>
<rect x="514.7" y="1139.38" width="3.4" height="3.4" fill="#000080"/>
<rect x="516.85" y="1137.37" width="3.4" height="3.4" fill="#000080"/>
<rect x="519" y="1126.89" width="3.4" height="3.4" fill="#000080"/>
<rect x="521.15" y="1124.14" width="3.4" height="3.4" fill="#000080"/>
<rect x="523.3" y="1128.21" width="3.4" height="3.4" fill="#000080"/>
<rect x="525.45" y="1110.52" width="3.4" height="3.4" fill="#000080"/>
<rect x="527.6" y="1118.16" width="3.4" height="3.4" fill="#000080"/>
<rect x="529.75" y="1102.94" width="3.4" height="3.4" fill="#000080"/>
<rect x="531.9" y="1104.45" width="3.4" height="3.4" fill="#000080"/>
<rect x="534.05" y="1099.27" width="3.4" height="3.4" fill="#000080"/>
<rect x="536.2" y="1097.83" width="3.4" height="3.4" fill="#000080"/>
<rect x="538.35" y="1096.35" width="3.4" height="3.4" fill="#000080"/>
<rect x="540.5" y="1097.57" width="3.4" height="3.4" fill="#000080"/>
<rect x="542.65" y="1094.06" width="3.4" height="3.4" fill="#000080"/>
<rect x="544.8" y="1088.57" width="3.4" height="3.4" fill="#000080"/>
<rect x="546.95" y="1085.17" width="3.4" height="3.4" fill="#000080"/>
<rect x="549.1" y="1085.83" width="3.4" height="3.4" fill="#000080"/>
<rect x="551.25" y="1087.76" width="3.4" height="3.4" fill="#000080"/>
<rect x="553.4" y="1081.03" width="3.4" height="3.4" fill="#000080"/>
<rect x="555.55" y="1082.17" width="3.4" height="3.4" fill="#000080"/>
<rect x="557.7" y="1099.11" width="3.4" height="3.4" fill="#000080"/>
<rect x="559.85" y="1107.61" width="3.4" height="3.4" fill="#000080"/>
<rect x="562" y="1110.32" width="3.4" height="3.4" fill="#000080"/>
<rect x="564.15" y="1121.36" width="3.4" height="3.4" fill="#000080"/>
<rect x="566.3" y="1122.17" width="3.4" height="3.4" fill="#000080"/>
<rect x="568.45" y="1138.48" width="3.4" height="3.4" fill="#000080"/>
<rect x="570.6" y="1141.38" width="3.4" height="3.4" fill="#000080"/>
<rect x="572.75" y="1148.23" width="3.4" height="3.4" fill="#000080"/>
<rect x="574.9" y="1156.08" width="3.4" height="3.4" fill="#000080"/>
<rect x="577.05" y="1167.52" width="3.4" height="3.4" fill="#000080"/>
<rect x="579.2" y="1167.18" width="3.4" height="3.4" fill="#000080"/>
<rect x="581.35" y="1175.62" width="3.4" height="3.4" fill="#000080"/>
<rect x="583.5" y="1181.69" width="3.4" height="3.4" fill="#000080"/>
<rect x="585.65" y="1175.2" width="3.4" height="3.4" fill="#000080"/>
<rect x="587.8" y="1186.13" width="3.4" height="3.4" fill="#000080"/>
<rect x="589.95" y="1189.76" width="3.4" height="3.4" fill="#000080"/>
<rect x="592.1" y="1189.21" width="3.4" height="3.4" fill="#000080"/>
<rect x="594.25" y="1200.77" width="3.4" height="3.4" fill="#000080"/>
<rect x="596.4" y="1193.21" width="3.4" height="3.4" fill="#000080"/>
<rect x="598.55" y="1206.92" width="3.4" height="3.4" fill="#000080"/>
<rect x="600.7" y="1195.93" width="3.4" height="3.4" fill="#000080"/>
<rect x="602.85" y="1201.81" width="3.4" height="3.4" fill="#000080"/>
<rect x="605" y="1200.34" width="3.4" height="3.4" fill="#000080"/>
<rect x="607.15" y="1204.65" width="3.4" height="3.4" fill="#000080"/>
<rect x="609.3" y="1190.24" width="3.4" height="3.4" fill="#000080"/>
<rect x="611.45" y="1206.41" width="3.4" height="3.4" fill="#000080"/>
<rect x="613.6" y="1203.88" width="3.4" height="3.4" fill="#000080"/>
<rect x="615.75" y="1201.33" width="3.4" height="3.4" fill="#000080"/>
<rect x="617.9" y="1203.16" width="3.4" height="3.4" fill="#000080"/>
<rect x="620.05" y="1202.34" width="3.4" height="3.4" fill="#000080"/>
<rect x="622.2" y="1205.17" width="3.4" height="3.4" fill="#000080"/>
<rect x="624.35" y="1200.46" width="3.4" height="3.4" fill="#000080"/>
<rect x="626.5" y="1200.5" width="3.4" height="3.4" fill="#000080"/>
<rect x="628.65" y="1205.77" width="3.4" height="3.4" fill="#000080"/>
<rect x="630.8" y="1201.34" width="3.4" height="3.4" fill="#000080"/>
<rect x="632.95" y="1201.38" width="3.4" height="3.4" fill="#000080"/>
<rect x="635.1" y="1200.36" width="3.4" height="3.4" fill="#000080"/>
<rect x="637.25" y="1191.19" width="3.4" height="3.4" fill="#000080"/>
<rect x="639.4" y="1196.01" width="3.4" height="3.4" fill="#000080"/>
<rect x="641.55" y="1188.16" width="3.4" height="3.4" fill="#000080"/>
<rect x="643.7" y="1191.39" width="3.4" height="3.4" fill="#000080"/>
<rect x="645.85" y="1188.82" width="3.4" height="3.4" fill="#000080"/>
<rect x="648" y="1182.41" width="3.4" height="3.4" fill="#000080"/>
<rect x="650.15" y="1183.8" width="3.4" height="3.4" fill="#000080"/>
<rect x="652.3" y="1190.14" width="3.4" height="3.4" fill="#000080"/>
<rect x="654.45" y="1174.23" width="3.4" height="3.4" fill="#000080"/>
<rect x="656.6" y="1171.72" width="3.4" height="3.4" fill="#000080"/>
<rect x="658.75" y="1167.69" width="3.4" height="3.4" fill="#000080"/>
<rect x="660.9" y="1164.53" width="3.4" height="3.4" fill="#000080"/>
<rect x="663.05" y="1152.57" width="3.4" height="3.4" fill="#000080"/>
<rect x="665.2" y="1159.1" width="3.4" height="3.4" fill="#000080"/>
<rect x="667.35" y="1144.96" width="3.4" height="3.4" fill="#000080"/>
<rect x="669.5" y="1142.86" width="3.4" height="3.4" fill="#000080"/>
<rect x="671.65" y="1136.06" width="3.4" height="3.4" fill="#000080"/>
<rect x="673.8" y="1128.75" width="3.4" height="3.4" fill="#000080"/>
<rect x="675.95" y="1135.3" width="3.4" height="3.4" fill="#000080"/>
<rect x="678.1" y="1108.56" width="3.4" height="3.4" fill="#000080"/>
<rect x="680.25" y="1098.96" width="3.4" height="3.4" fill="#000080"/>
<rect x="682.4" y="1079.78" width="3.4" height="3.4" fill="#000080"/>
<rect x="684.55" y="1079.13" width="3.4" height="3.4" fill="#000080"/>
<rect x="686.7" y="1065.55" width="3.4" height="3.4" fill="#000080"/>
<rect x="688.85" y="1062.48" width="3.4" height="3.4" fill="#000080"/>
<rect x="691" y="1047.05" width="3.4" height="3.4" fill="#000080"/>
<rect x="693.15" y="1042.55" width="3.4" height="3.4" fill="#000080"/>
<rect x="695.3" y="1037.29" width="3.4" height="3.4" fill="#000080"/>
<rect x="697.45" y="1034.59" width="3.4" height="3.4" fill="#000080"/>
<rect x="699.6" y="1027.28" width="3.4" height="3.4" fill="#000080"/>
<rect x="701.75" y="1026.11" width="3.4" height="3.4" fill="#000080"/>
<rect x="703.9" y="1030.03" width="3.4" height="3.4" fill="#000080"/>
<rect x="706.05" y="1031.35" width="3.4" height="3.4" fill="#000080"/>
<rect x="708.2" y="1031.75" width="3.4" height="3.4" fill="#000080"/>
<rect x="710.35" y="1029.39" width="3.4" height="3.4" fill="#000080"/>
<rect x="712.5" y="1047.23" width="3.4" height="3.4" fill="#000080"/>
<rect x="714.65" y="1044.2" width="3.4" height="3.4" fill="#000080"/>
<rect x="716.8" y="1061.26" width="3.4" height="3.4" fill="#000080"/>
<rect x="718.95" y="1073.04" width="3.4" height="3.4" fill="#000080"/>
<rect x="721.1" y="1081.55" width="3.4" height="3.4" fill="#000080"/>
<rect x="723.25" y="1096.13" width="3.4" height="3.4" fill="#000080"/>
<rect x="725.4" y="1116.51" width="3.4" height="3.4" fill="#000080"/>
<rect x="727.55" y="1117.24" width="3.4" height="3.4" fill="#000080"/>
<rect x="729.7" y="1130.94" width="3.4" height="3.4" fill="#000080"/>
<rect x="731.85" y="1139.74" width="3.4" height="3.4" fill="#000080"/>
<rect x="734" y="1149.14" width="3.4" height="3.4" fill="#000080"/>
<rect x="736.15" y="1171.58" width="3.4" height="3.4" fill="#000080"/>
<rect x="738.3" y="1167.13" width="3.4" height="3.4" fill="#000080"/>
<rect x="740.45" y="1175.62" width="3.4" height="3.4" fill="#000080"/>
<rect x="742.6" y="1187.12" width="3.4" height="3.4" fill="#000080"/>
<rect x="744.75" y="1194.16" width="3.4" height="3.4" fill="#000080"/>
<rect x="746.9" y="1207.46" width="3.4" height="3.4" fill="#000080"/>
<rect x="749.05" y="1203.94" width="3.4" height="3.4" fill="#000080"/>
<rect x="751.2" y="1215.16" width="3.4" height="3.4" fill="#000080"/>
<rect x="753.35" y="1217.46" width="3.4" height="3.4" fill="#000080"/>
<rect x="755.5" y="1225.99" width="3.4" height="3.4" fill="#000080"/>
<rect x="757.65" y="1224.2" width="3.4" height="3.4" fill="#000080"/>
<rect x="759.8" y="1229.32" width="3.4" height="3.4" fill="#000080"/>
<rect x="761.95" y="1230.46" width="3.4" height="3.4" fill="#000080"/>
<rect x="764.1" y="1236.98" width="3.4" height="3.4" fill="#000080"/>
<rect x="766.25" y="1239.2" width="3.4" height="3.4" fill="#000080"/>
<rect x="768.4" y="1242.38" width="3.4" height="3.4" fill="#000080"/>
<rect x="770.55" y="1242.88" width="3.4" height="3.4" fill="#000080"/>
<rect x="772.7" y="1243.94" width="3.4" height="3.4" fill="#000080"/>
<rect x="774.85" y="1245.21" width="3.4" height="3.4" fill="#000080"/>
<rect x="777" y="1247.9" width="3.4" height="3.4" fill="#000080"/>
<rect x="779.15" y="1242.33" width="3.4" height="3.4" fill="#000080"/>
<rect x="781.3" y="1235.01" width="3.4" height="3.4" fill="#000080"/>
<rect x="783.45" y="1244.46" width="3.4" height="3.4" fill="#000080"/>
<rect x="785.6" y="1248.35" width="3.4" height="3.4" fill="#000080"/>
<rect x="787.75" y="1247.23" width="3.4" height="3.4" fill="#000080"/>
<rect x="531.5" y="1083" width="3.4" height="3.4" fill="#000080"/>
<rect x="540.1" y="1085.2" width="3.4" height="3.4" fill="#000080"/>
<rect x="549.4" y="1083" width="3.4" height="3.4" fill="#000080"/>
<rect x="538" y="1089.5" width="3.4" height="3.4" fill="#000080"/>
<rect x="529.3" y="1096.6" width="3.4" height="3.4" fill="#000080"/>
<rect x="522.9" y="1106" width="3.4" height="3.4" fill="#000080"/>
<rect x="525" y="1104.5" width="3.4" height="3.4" fill="#000080"/>
<rect x="562.4" y="1095.9" width="3.4" height="3.4" fill="#000080"/>
<rect x="573.9" y="1131.1" width="3.4" height="3.4" fill="#000080"/>
<rect x="576.7" y="1137.6" width="3.4" height="3.4" fill="#000080"/>
<rect x="582.5" y="1161.3" width="3.4" height="3.4" fill="#000080"/>
<rect x="586.8" y="1172" width="3.4" height="3.4" fill="#000080"/>
<rect x="601.1" y="1191.4" width="3.4" height="3.4" fill="#000080"/>
<rect x="599.7" y="1196.4" width="3.4" height="3.4" fill="#000080"/>
<rect x="512.8" y="1156.2" width="3.4" height="3.4" fill="#000080"/>
<rect x="498.5" y="1177.8" width="3.4" height="3.4" fill="#000080"/>
<rect x="496.3" y="1182.1" width="3.4" height="3.4" fill="#000080"/>
<rect x="487" y="1197.9" width="3.4" height="3.4" fill="#000080"/>
<rect x="480.5" y="1199.3" width="3.4" height="3.4" fill="#000080"/>
<rect x="701.3" y="1036.3" width="3.4" height="3.4" fill="#000080"/>
<rect x="705" y="1042" width="3.4" height="3.4" fill="#000080"/>
<rect x="699.1" y="1038.3" width="3.4" height="3.4" fill="#000080"/>
<rect x="677.3" y="1061.3" width="3.4" height="3.4" fill="#000080"/>
<rect x="673.6" y="1069.3" width="3.4" height="3.4" fill="#000080"/>
<rect x="675.8" y="1074.3" width="3.4" height="3.4" fill="#000080"/>
<rect x="671.4" y="1087.3" width="3.4" height="3.4" fill="#000080"/>
<rect x="634.3" y="1182" width="3.4" height="3.4" fill="#000080"/>
<rect x="740" y="1168.9" width="3.4" height="3.4" fill="#000080"/>
<rect x="748.7" y="1208.3" width="3.4" height="3.4" fill="#000080"/>
<rect x="751.6" y="1241.8" width="3.4" height="3.4" fill="#000080"/>
<rect x="770" y="1261.6" width="3.4" height="3.4" fill="#000080"/>
<rect x="773.3" y="1256.6" width="3.4" height="3.4" fill="#000080"/>
<rect x="780" y="1265" width="3.4" height="3.4" fill="#000080"/>
<rect x="785" y="1257.6" width="3.4" height="3.4" fill="#000080"/>
<rect x="790" y="1259.3" width="3.4" height="3.4" fill="#000080"/>
<rect x="787.3" y="1252.3" width="3.4" height="3.4" fill="#000080"/>
<rect x="782.3" y="1251.3" width="3.4" height="3.4" fill="#000080"/>
<path d="M471.4,1194.35 L471.9,1194.22 L472.4,1194.07 L472.9,1193.92 L473.4,1193.77 L473.9,1193.6 L474.4,1193.43 L474.9,1193.25 L475.4,1193.06 L475.9,1192.87 L476.4,1192.66 L476.9,1192.45 L477.4,1192.24 L477.9,1192.01 L478.4,1191.78 L478.9,1191.53 L479.4,1191.28 L479.9,1191.02 L480.4,1190.76 L480.9,1190.48 L481.4,1190.19 L481.9,1189.9 L482.4,1189.6 L482.9,1189.29 L483.4,1188.97 L483.9,1188.64 L484.4,1188.3 L484.9,1187.95 L485.4,1187.59 L485.9,1187.22 L486.4,1186.85 L486.9,1186.46 L487.4,1186.06 L487.9,1185.65 L488.4,1185.23 L488.9,1184.8 L489.4,1184.37 L489.9,1183.92 L490.4,1183.45 L490.9,1182.98 L491.4,1182.5 L491.9,1182.01 L492.4,1181.5 L492.9,1180.99 L493.4,1180.46 L493.9,1179.94 L494.4,1179.44 L494.9,1178.94 L495.4,1178.42 L495.9,1177.88 L496.4,1177.34 L496.9,1176.78 L497.4,1176.21 L497.9,1175.63 L498.4,1175.04 L498.9,1174.43 L499.4,1173.81 L499.9,1173.17 L500.4,1172.52 L500.9,1171.86 L501.4,1171.18 L501.9,1170.49 L502.4,1169.78 L502.9,1169.06 L503.4,1168.32 L503.9,1167.57 L504.4,1166.8 L504.9,1166.02 L505.4,1165.22 L505.9,1164.41 L506.4,1163.58 L506.9,1162.74 L507.4,1161.88 L507.9,1161.01 L508.4,1160.13 L508.9,1159.22 L509.4,1158.31 L509.9,1157.38 L510.4,1156.43 L510.9,1155.47 L511.4,1154.5 L511.9,1153.51 L512.4,1152.51 L512.9,1151.49 L513.4,1150.47 L513.9,1149.43 L514.4,1148.37 L514.9,1147.31 L515.4,1146.23 L515.9,1145.14 L516.4,1144.04 L516.9,1142.93 L517.4,1141.81 L517.9,1140.68 L518.4,1139.54 L518.9,1138.4 L519.4,1137.24 L519.9,1136.08 L520.4,1134.91 L520.9,1133.73 L521.4,1132.55 L521.9,1131.36 L522.4,1130.16 L522.9,1129 L523.4,1127.85 L523.9,1126.7 L524.4,1125.56 L524.9,1124.43 L525.4,1123.3 L525.9,1122.19 L526.4,1121.08 L526.9,1119.99 L527.4,1118.9 L527.9,1117.83 L528.4,1116.77 L528.9,1115.72 L529.4,1114.69 L529.9,1113.67 L530.4,1112.66 L530.9,1111.67 L531.4,1110.69 L531.9,1109.74 L532.4,1108.8 L532.9,1107.87 L533.4,1106.97 L533.9,1106.08 L534.4,1105.22 L534.9,1104.37 L535.4,1103.55 L535.9,1102.75 L536.4,1101.97 L536.9,1101.21 L537.4,1100.48 L537.9,1099.76 L538.4,1099.08 L538.9,1098.42 L539.4,1097.78 L539.9,1097.17 L540.4,1096.58 L540.9,1096.02 L541.4,1095.49 L541.9,1094.99 L542.4,1094.51 L542.9,1094.06 L543.4,1093.64 L543.9,1093.24 L544.4,1092.88 L544.9,1092.54 L545.4,1092.24 L545.9,1091.96 L546.4,1091.71 L546.9,1091.49 L547.4,1091.3 L547.9,1091.14 L548.4,1091.01 L548.9,1090.91 L549.4,1090.83 L549.9,1090.79 L550.4,1090.77 L550.9,1090.79 L551.4,1090.83 L551.9,1090.94 L552.4,1091.12 L552.9,1091.39 L553.4,1091.73 L553.9,1092.15 L554.4,1092.64 L554.9,1093.21 L555.4,1093.85 L555.9,1094.56 L556.4,1095.34 L556.9,1096.19 L557.4,1097.11 L557.9,1098.09 L558.4,1099.14 L558.9,1100.25 L559.4,1101.41 L559.9,1102.64 L560.4,1103.91 L560.9,1105.24 L561.4,1106.62 L561.9,1108.05 L562.4,1109.52 L562.9,1111.03 L563.4,1112.59 L563.9,1114.17 L564.4,1115.79 L564.9,1117.45 L565.4,1119.13 L565.9,1120.83 L566.4,1122.56 L566.9,1124.31 L567.4,1126.07 L567.9,1127.85 L568.4,1129.63 L568.9,1131.43 L569.4,1133.23 L569.9,1135.04 L570.4,1136.84 L570.9,1138.65 L571.4,1140.45 L571.9,1142.24 L572.4,1144.02 L572.9,1145.8 L573.4,1147.55 L573.9,1149.3 L574.4,1151.02 L574.9,1152.73 L575.4,1154.41 L575.9,1156.07 L576.4,1157.7 L576.9,1159.31 L577.4,1160.89 L577.9,1162.44 L578.4,1163.96 L578.9,1165.45 L579.4,1166.9 L579.9,1168.32 L580.4,1169.69 L580.9,1171.03 L581.4,1172.33 L581.9,1173.61 L582.4,1174.86 L582.9,1176.08 L583.4,1177.26 L583.9,1178.42 L584.4,1179.54 L584.9,1180.63 L585.4,1181.69 L585.9,1182.72 L586.4,1183.71 L586.9,1184.68 L587.4,1185.61 L587.9,1186.51 L588.4,1187.38 L588.9,1188.22 L589.4,1189.03 L589.9,1189.81 L590.4,1190.56 L590.9,1191.28 L591.4,1191.98 L591.9,1192.65 L592.4,1193.29 L592.9,1193.9 L593.4,1194.49 L593.9,1195.05 L594.4,1195.59 L594.9,1196.11 L595.4,1196.6 L595.9,1197.07 L596.4,1197.52 L596.9,1197.95 L597.4,1198.36 L597.9,1198.75 L598.4,1199.12 L598.9,1199.48 L599.4,1199.81 L599.9,1200.13 L600.4,1200.44 L600.9,1200.73 L601.4,1201 L601.9,1201.26 L602.4,1201.51 L602.9,1201.74 L603.4,1201.96 L603.9,1202.17 L604.4,1202.37 L604.9,1202.55 L605.4,1202.73 L605.9,1202.9 L606.4,1203.05 L606.9,1203.2 L607.4,1203.34 L607.9,1203.47 L608.4,1203.59 L608.9,1203.7 L609.4,1203.81 L609.9,1203.91 L610.4,1204.01 L610.9,1204.1 L611.4,1204.2 L611.9,1204.29 L612.4,1204.38 L612.9,1204.47 L613.4,1204.55 L613.9,1204.63 L614.4,1204.71 L614.9,1204.79 L615.4,1204.86 L615.9,1204.93 L616.4,1204.99 L616.9,1205.06 L617.4,1205.11 L617.9,1205.16 L618.4,1205.21 L618.9,1205.25 L619.4,1205.29 L619.9,1205.32 L620.4,1205.34 L620.9,1205.35 L621.4,1205.36 L621.9,1205.36 L622.4,1205.35 L622.9,1205.33 L623.4,1205.3 L623.9,1205.25 L624.4,1205.2 L624.9,1205.13 L625.4,1205.06 L625.9,1204.97 L626.4,1204.88 L626.9,1204.78 L627.4,1204.66 L627.9,1204.54 L628.4,1204.4 L628.9,1204.25 L629.4,1204.09 L629.9,1203.92 L630.4,1203.73 L630.9,1203.53 L631.4,1203.32 L631.9,1203.09 L632.4,1202.85 L632.9,1202.59 L633.4,1202.32 L633.9,1202.03 L634.4,1201.73 L634.9,1201.41 L635.4,1201.08 L635.9,1200.73 L636.4,1200.36 L636.9,1199.98 L637.4,1199.59 L637.9,1199.17 L638.4,1198.75 L638.9,1198.31 L639.4,1197.85 L639.9,1197.38 L640.4,1196.89 L640.9,1196.4 L641.4,1195.89 L641.9,1195.36 L642.4,1194.83 L642.9,1194.28 L643.4,1193.72 L643.9,1193.15 L644.4,1192.57 L644.9,1191.98 L645.4,1191.38 L645.9,1190.77 L646.4,1190.15 L646.9,1189.53 L647.4,1188.89 L647.9,1188.25 L648.4,1187.6 L648.9,1186.95 L649.4,1186.28 L649.9,1185.61 L650.4,1184.94 L650.9,1184.25 L651.4,1183.56 L651.9,1182.86 L652.4,1182.16 L652.9,1181.44 L653.4,1180.72 L653.9,1179.98 L654.4,1179.26 L654.9,1178.55 L655.4,1177.84 L655.9,1177.13 L656.4,1176.41 L656.9,1175.68 L657.4,1174.94 L657.9,1174.19 L658.4,1173.43 L658.9,1172.65 L659.4,1171.86 L659.9,1171.06 L660.4,1170.23 L660.9,1169.38 L661.4,1168.52 L661.9,1167.62 L662.4,1166.71 L662.9,1165.76 L663.4,1164.78 L663.9,1163.78 L664.4,1162.74 L664.9,1161.66 L665.4,1160.55 L665.9,1159.4 L666.4,1158.21 L666.9,1156.98 L667.4,1155.71 L667.9,1154.39 L668.4,1153.03 L668.9,1151.62 L669.4,1150.17 L669.9,1148.67 L670.4,1147.12 L670.9,1145.52 L671.4,1143.87 L671.9,1142.17 L672.4,1140.42 L672.9,1138.62 L673.4,1136.77 L673.9,1134.87 L674.4,1132.92 L674.9,1130.93 L675.4,1128.89 L675.9,1126.8 L676.4,1124.66 L676.9,1122.48 L677.4,1120.26 L677.9,1118 L678.4,1115.7 L678.9,1113.36 L679.4,1110.99 L679.9,1108.58 L680.4,1106.15 L680.9,1103.68 L681.4,1101.19 L681.9,1098.68 L682.4,1096.14 L682.9,1093.59 L683.4,1091.04 L683.9,1088.55 L684.4,1086.08 L684.9,1083.64 L685.4,1081.22 L685.9,1078.83 L686.4,1076.47 L686.9,1074.13 L687.4,1071.83 L687.9,1069.57 L688.4,1067.34 L688.9,1065.15 L689.4,1063 L689.9,1060.89 L690.4,1058.82 L690.9,1056.8 L691.4,1054.83 L691.9,1052.91 L692.4,1051.04 L692.9,1049.22 L693.4,1047.45 L693.9,1045.74 L694.4,1044.09 L694.9,1042.5 L695.4,1040.96 L695.9,1039.49 L696.4,1038.08 L696.9,1036.73 L697.4,1035.44 L697.9,1034.22 L698.4,1033.09 L698.9,1032.07 L699.4,1031.17 L699.9,1030.39 L700.4,1029.72 L700.9,1029.17 L701.4,1028.74 L701.9,1028.42 L702.4,1028.21 L702.9,1028.12 L703.4,1028.14 L703.9,1028.27 L704.4,1028.51 L704.9,1028.85 L705.4,1029.27 L705.9,1029.78 L706.4,1030.36 L706.9,1031.02 L707.4,1031.75 L707.9,1032.56 L708.4,1033.44 L708.9,1034.38 L709.4,1035.39 L709.9,1036.46 L710.4,1037.59 L710.9,1038.78 L711.4,1040.02 L711.9,1041.31 L712.4,1042.65 L712.9,1044.03 L713.4,1045.49 L713.9,1047.04 L714.4,1048.67 L714.9,1050.38 L715.4,1052.16 L715.9,1054.01 L716.4,1055.94 L716.9,1057.93 L717.4,1059.98 L717.9,1062.1 L718.4,1064.27 L718.9,1066.49 L719.4,1068.76 L719.9,1071.08 L720.4,1073.43 L720.9,1075.83 L721.4,1078.26 L721.9,1080.72 L722.4,1083.21 L722.9,1085.72 L723.4,1088.26 L723.9,1090.8 L724.4,1093.37 L724.9,1095.94 L725.4,1098.51 L725.9,1101.09 L726.4,1103.67 L726.9,1106.24 L727.4,1108.78 L727.9,1111.32 L728.4,1113.88 L728.9,1116.45 L729.4,1119.03 L729.9,1121.63 L730.4,1124.22 L730.9,1126.82 L731.4,1129.42 L731.9,1132.02 L732.4,1134.62 L732.9,1137.2 L733.4,1139.78 L733.9,1142.34 L734.4,1144.89 L734.9,1147.42 L735.4,1149.93 L735.9,1152.42 L736.4,1154.88 L736.9,1157.32 L737.4,1159.73 L737.9,1162.11 L738.4,1164.46 L738.9,1166.78 L739.4,1169.06 L739.9,1171.3 L740.4,1173.51 L740.9,1175.67 L741.4,1177.79 L741.9,1179.86 L742.4,1181.87 L742.9,1183.85 L743.4,1185.79 L743.9,1187.71 L744.4,1189.59 L744.9,1191.44 L745.4,1193.25 L745.9,1195.03 L746.4,1196.77 L746.9,1198.48 L747.4,1200.16 L747.9,1201.8 L748.4,1203.4 L748.9,1204.97 L749.4,1206.51 L749.9,1208.01 L750.4,1209.47 L750.9,1210.9 L751.4,1212.29 L751.9,1213.65 L752.4,1214.97 L752.9,1216.26 L753.4,1217.52 L753.9,1218.74 L754.4,1219.93 L754.9,1221.08 L755.4,1222.21 L755.9,1223.3 L756.4,1224.35 L756.9,1225.38 L757.4,1226.38 L757.9,1227.34 L758.4,1228.28 L758.9,1229.18 L759.4,1230.06 L759.9,1230.91 L760.4,1231.73 L760.9,1232.52 L761.4,1233.28 L761.9,1234.02 L762.4,1234.73 L762.9,1235.42 L763.4,1236.08 L763.9,1236.72 L764.4,1237.33 L764.9,1237.93 L765.4,1238.49 L765.9,1239.04 L766.4,1239.56 L766.9,1240.06 L767.4,1240.55 L767.9,1241.01 L768.4,1241.45 L768.9,1241.87 L769.4,1242.28 L769.9,1242.66 L770.4,1243.03 L770.9,1243.38 L771.4,1243.7 L771.9,1244.01 L772.4,1244.3 L772.9,1244.58 L773.4,1244.85 L773.9,1245.11 L774.4,1245.36 L774.9,1245.6 L775.4,1245.83 L775.9,1246.05 L776.4,1246.26 L776.9,1246.46 L777.4,1246.65 L777.9,1246.83 L778.4,1247 L778.9,1247.17 L779.4,1247.33 L779.9,1247.48 L780.4,1247.63 L780.9,1247.77 L781.4,1247.9 L781.9,1248.03 L782.4,1248.15 L782.9,1248.26 L783.4,1248.37 L783.9,1248.48 L784.4,1248.58 L784.9,1248.68 L785.4,1248.77 L785.9,1248.85 L786.4,1248.93 L786.9,1249.01 L787.4,1249.09 L787.9,1249.16 L788.4,1249.22 L788.9,1249.29 L789.4,1249.35 L789.9,1249.4 L790.4,1249.46 L790.9,1249.51 L791.4,1249.56 L791.9,1249.6 L792.4,1249.64 L792.9,1249.68" fill="none" stroke="#007a00" stroke-width="10" stroke-linejoin="round" stroke-linecap="round"/>
<path d="M471.4,1196.45 L471.9,1196.42 L472.4,1196.39 L472.9,1196.36 L473.4,1196.33 L473.9,1196.29 L474.4,1196.25 L474.9,1196.21 L475.4,1196.17 L475.9,1196.12 L476.4,1196.08 L476.9,1196.03 L477.4,1195.98 L477.9,1195.93 L478.4,1195.88 L478.9,1195.83 L479.4,1195.78 L479.9,1195.73 L480.4,1195.68 L480.9,1195.62 L481.4,1195.57 L481.9,1195.52 L482.4,1195.46 L482.9,1195.41 L483.4,1195.36 L483.9,1195.3 L484.4,1195.25 L484.9,1195.2 L485.4,1195.15 L485.9,1195.1 L486.4,1195.05 L486.9,1195 L487.4,1194.95 L487.9,1194.9 L488.4,1194.86 L488.9,1194.82 L489.4,1194.77 L489.9,1194.73 L490.4,1194.7 L490.9,1194.66 L491.4,1194.63 L491.9,1194.59 L492.4,1194.56 L492.9,1194.54 L493.4,1194.51 L493.9,1194.51 L494.4,1194.55 L494.9,1194.58 L495.4,1194.62 L495.9,1194.67 L496.4,1194.71 L496.9,1194.76 L497.4,1194.81 L497.9,1194.87 L498.4,1194.92 L498.9,1194.98 L499.4,1195.04 L499.9,1195.1 L500.4,1195.17 L500.9,1195.23 L501.4,1195.3 L501.9,1195.37 L502.4,1195.44 L502.9,1195.51 L503.4,1195.59 L503.9,1195.66 L504.4,1195.74 L504.9,1195.81 L505.4,1195.89 L505.9,1195.96 L506.4,1196.04 L506.9,1196.12 L507.4,1196.2 L507.9,1196.28 L508.4,1196.35 L508.9,1196.43 L509.4,1196.51 L509.9,1196.59 L510.4,1196.67 L510.9,1196.74 L511.4,1196.82 L511.9,1196.89 L512.4,1196.97 L512.9,1197.04 L513.4,1197.12 L513.9,1197.19 L514.4,1197.26 L514.9,1197.33 L515.4,1197.39 L515.9,1197.46 L516.4,1197.52 L516.9,1197.58 L517.4,1197.64 L517.9,1197.7 L518.4,1197.75 L518.9,1197.81 L519.4,1197.86 L519.9,1197.9 L520.4,1197.95 L520.9,1197.99 L521.4,1198.03 L521.9,1198.07 L522.4,1198.1 L522.9,1198.17 L523.4,1198.24 L523.9,1198.32 L524.4,1198.4 L524.9,1198.49 L525.4,1198.59 L525.9,1198.69 L526.4,1198.79 L526.9,1198.9 L527.4,1199.02 L527.9,1199.14 L528.4,1199.26 L528.9,1199.39 L529.4,1199.52 L529.9,1199.65 L530.4,1199.79 L530.9,1199.93 L531.4,1200.07 L531.9,1200.21 L532.4,1200.36 L532.9,1200.51 L533.4,1200.66 L533.9,1200.81 L534.4,1200.97 L534.9,1201.12 L535.4,1201.28 L535.9,1201.43 L536.4,1201.59 L536.9,1201.75 L537.4,1201.9 L537.9,1202.06 L538.4,1202.22 L538.9,1202.37 L539.4,1202.53 L539.9,1202.68 L540.4,1202.83 L540.9,1202.98 L541.4,1203.13 L541.9,1203.27 L542.4,1203.42 L542.9,1203.56 L543.4,1203.7 L543.9,1203.83 L544.4,1203.96 L544.9,1204.09 L545.4,1204.22 L545.9,1204.34 L546.4,1204.45 L546.9,1204.56 L547.4,1204.67 L547.9,1204.77 L548.4,1204.87 L548.9,1204.96 L549.4,1205.05 L549.9,1205.13 L550.4,1205.21 L550.9,1205.27 L551.4,1205.33 L551.9,1205.38 L552.4,1205.43 L552.9,1205.49 L553.4,1205.55 L553.9,1205.62 L554.4,1205.69 L554.9,1205.77 L555.4,1205.84 L555.9,1205.93 L556.4,1206.01 L556.9,1206.1 L557.4,1206.19 L557.9,1206.28 L558.4,1206.38 L558.9,1206.47 L559.4,1206.57 L559.9,1206.67 L560.4,1206.78 L560.9,1206.88 L561.4,1206.99 L561.9,1207.1 L562.4,1207.21 L562.9,1207.32 L563.4,1207.43 L563.9,1207.54 L564.4,1207.65 L564.9,1207.76 L565.4,1207.88 L565.9,1207.99 L566.4,1208.1 L566.9,1208.22 L567.4,1208.33 L567.9,1208.44 L568.4,1208.55 L568.9,1208.66 L569.4,1208.77 L569.9,1208.87 L570.4,1208.98 L570.9,1209.08 L571.4,1209.19 L571.9,1209.29 L572.4,1209.39 L572.9,1209.48 L573.4,1209.58 L573.9,1209.67 L574.4,1209.76 L574.9,1209.84 L575.4,1209.92 L575.9,1210 L576.4,1210.08 L576.9,1210.15 L577.4,1210.22 L577.9,1210.28 L578.4,1210.34 L578.9,1210.4 L579.4,1210.45 L579.9,1210.5 L580.4,1210.52 L580.9,1210.55 L581.4,1210.58 L581.9,1210.61 L582.4,1210.65 L582.9,1210.68 L583.4,1210.72 L583.9,1210.76 L584.4,1210.8 L584.9,1210.84 L585.4,1210.89 L585.9,1210.93 L586.4,1210.98 L586.9,1211.03 L587.4,1211.08 L587.9,1211.13 L588.4,1211.18 L588.9,1211.24 L589.4,1211.29 L589.9,1211.35 L590.4,1211.4 L590.9,1211.46 L591.4,1211.52 L591.9,1211.58 L592.4,1211.63 L592.9,1211.69 L593.4,1211.75 L593.9,1211.81 L594.4,1211.87 L594.9,1211.93 L595.4,1211.99 L595.9,1212.04 L596.4,1212.1 L596.9,1212.16 L597.4,1212.22 L597.9,1212.27 L598.4,1212.33 L598.9,1212.39 L599.4,1212.44 L599.9,1212.49 L600.4,1212.55 L600.9,1212.6 L601.4,1212.65 L601.9,1212.7 L602.4,1212.75 L602.9,1212.79 L603.4,1212.84 L603.9,1212.88 L604.4,1212.92 L604.9,1212.96 L605.4,1213 L605.9,1213.04 L606.4,1213.07 L606.9,1213.11 L607.4,1213.14 L607.9,1213.16 L608.4,1213.19 L608.9,1213.21 L609.4,1213.23 L609.9,1213.25 L610.4,1213.27 L610.9,1213.3 L611.4,1213.32 L611.9,1213.35 L612.4,1213.38 L612.9,1213.42 L613.4,1213.45 L613.9,1213.48 L614.4,1213.52 L614.9,1213.56 L615.4,1213.59 L615.9,1213.63 L616.4,1213.67 L616.9,1213.71 L617.4,1213.75 L617.9,1213.78 L618.4,1213.82 L618.9,1213.86 L619.4,1213.89 L619.9,1213.93 L620.4,1213.96 L620.9,1214 L621.4,1214.03 L621.9,1214.06 L622.4,1214.09 L622.9,1214.11 L623.4,1214.14 L623.9,1214.16 L624.4,1214.18 L624.9,1214.2 L625.4,1214.21 L625.9,1214.23 L626.4,1214.25 L626.9,1214.28 L627.4,1214.3 L627.9,1214.33 L628.4,1214.35 L628.9,1214.38 L629.4,1214.41 L629.9,1214.44 L630.4,1214.47 L630.9,1214.51 L631.4,1214.54 L631.9,1214.58 L632.4,1214.61 L632.9,1214.65 L633.4,1214.69 L633.9,1214.73 L634.4,1214.77 L634.9,1214.81 L635.4,1214.85 L635.9,1214.89 L636.4,1214.93 L636.9,1214.97 L637.4,1215.01 L637.9,1215.05 L638.4,1215.1 L638.9,1215.14 L639.4,1215.18 L639.9,1215.23 L640.4,1215.27 L640.9,1215.31 L641.4,1215.35 L641.9,1215.4 L642.4,1215.44 L642.9,1215.48 L643.4,1215.52 L643.9,1215.56 L644.4,1215.6 L644.9,1215.64 L645.4,1215.68 L645.9,1215.72 L646.4,1215.76 L646.9,1215.79 L647.4,1215.83 L647.9,1215.86 L648.4,1215.9 L648.9,1215.93 L649.4,1215.96 L649.9,1215.99 L650.4,1216.02 L650.9,1216.05 L651.4,1216.08 L651.9,1216.1 L652.4,1216.13 L652.9,1216.15 L653.4,1216.17 L653.9,1216.19 L654.4,1216.22 L654.9,1216.29 L655.4,1216.36 L655.9,1216.44 L656.4,1216.52 L656.9,1216.6 L657.4,1216.7 L657.9,1216.79 L658.4,1216.89 L658.9,1217 L659.4,1217.11 L659.9,1217.22 L660.4,1217.34 L660.9,1217.46 L661.4,1217.58 L661.9,1217.71 L662.4,1217.84 L662.9,1217.97 L663.4,1218.11 L663.9,1218.24 L664.4,1218.38 L664.9,1218.52 L665.4,1218.67 L665.9,1218.81 L666.4,1218.96 L666.9,1219.1 L667.4,1219.25 L667.9,1219.4 L668.4,1219.55 L668.9,1219.69 L669.4,1219.84 L669.9,1219.99 L670.4,1220.14 L670.9,1220.28 L671.4,1220.43 L671.9,1220.57 L672.4,1220.72 L672.9,1220.86 L673.4,1221 L673.9,1221.14 L674.4,1221.27 L674.9,1221.41 L675.4,1221.54 L675.9,1221.67 L676.4,1221.79 L676.9,1221.91 L677.4,1222.03 L677.9,1222.15 L678.4,1222.26 L678.9,1222.37 L679.4,1222.47 L679.9,1222.57 L680.4,1222.66 L680.9,1222.75 L681.4,1222.83 L681.9,1222.91 L682.4,1222.98 L682.9,1223.05 L683.4,1223.13 L683.9,1223.27 L684.4,1223.43 L684.9,1223.62 L685.4,1223.83 L685.9,1224.06 L686.4,1224.3 L686.9,1224.56 L687.4,1224.83 L687.9,1225.11 L688.4,1225.4 L688.9,1225.7 L689.4,1226 L689.9,1226.31 L690.4,1226.63 L690.9,1226.94 L691.4,1227.25 L691.9,1227.56 L692.4,1227.86 L692.9,1228.16 L693.4,1228.45 L693.9,1228.73 L694.4,1229 L694.9,1229.25 L695.4,1229.49 L695.9,1229.71 L696.4,1229.92 L696.9,1230.1 L697.4,1230.26 L697.9,1230.4 L698.4,1230.54 L698.9,1230.7 L699.4,1230.88 L699.9,1231.09 L700.4,1231.31 L700.9,1231.55 L701.4,1231.8 L701.9,1232.07 L702.4,1232.35 L702.9,1232.64 L703.4,1232.94 L703.9,1233.24 L704.4,1233.55 L704.9,1233.86 L705.4,1234.17 L705.9,1234.49 L706.4,1234.8 L706.9,1235.1 L707.4,1235.4 L707.9,1235.69 L708.4,1235.97 L708.9,1236.24 L709.4,1236.5 L709.9,1236.74 L710.4,1236.97 L710.9,1237.18 L711.4,1237.37 L711.9,1237.53 L712.4,1237.67 L712.9,1237.79 L713.4,1237.91 L713.9,1238.05 L714.4,1238.21 L714.9,1238.39 L715.4,1238.57 L715.9,1238.77 L716.4,1238.98 L716.9,1239.21 L717.4,1239.43 L717.9,1239.67 L718.4,1239.91 L718.9,1240.15 L719.4,1240.4 L719.9,1240.65 L720.4,1240.9 L720.9,1241.14 L721.4,1241.39 L721.9,1241.63 L722.4,1241.86 L722.9,1242.08 L723.4,1242.3 L723.9,1242.51 L724.4,1242.7 L724.9,1242.89 L725.4,1243.05 L725.9,1243.21 L726.4,1243.34 L726.9,1243.46 L727.4,1243.54 L727.9,1243.6 L728.4,1243.68 L728.9,1243.77 L729.4,1243.87 L729.9,1243.98 L730.4,1244.09 L730.9,1244.21 L731.4,1244.33 L731.9,1244.46 L732.4,1244.59 L732.9,1244.73 L733.4,1244.87 L733.9,1245.01 L734.4,1245.15 L734.9,1245.29 L735.4,1245.43 L735.9,1245.57 L736.4,1245.71 L736.9,1245.84 L737.4,1245.97 L737.9,1246.09 L738.4,1246.21 L738.9,1246.32 L739.4,1246.43 L739.9,1246.53 L740.4,1246.62 L740.9,1246.7 L741.4,1246.76 L741.9,1246.81 L742.4,1246.83 L742.9,1246.86 L743.4,1246.89 L743.9,1246.92 L744.4,1246.95 L744.9,1246.99 L745.4,1247.02 L745.9,1247.06 L746.4,1247.1 L746.9,1247.14 L747.4,1247.18 L747.9,1247.23 L748.4,1247.27 L748.9,1247.32 L749.4,1247.37 L749.9,1247.42 L750.4,1247.47 L750.9,1247.52 L751.4,1247.57 L751.9,1247.62 L752.4,1247.68 L752.9,1247.73 L753.4,1247.78 L753.9,1247.84 L754.4,1247.89 L754.9,1247.95 L755.4,1248.01 L755.9,1248.06 L756.4,1248.12 L756.9,1248.17 L757.4,1248.23 L757.9,1248.28 L758.4,1248.34 L758.9,1248.39 L759.4,1248.45 L759.9,1248.5 L760.4,1248.56 L760.9,1248.61 L761.4,1248.66 L761.9,1248.71 L762.4,1248.76 L762.9,1248.81 L763.4,1248.86 L763.9,1248.91 L764.4,1248.95 L764.9,1249 L765.4,1249.04 L765.9,1249.08 L766.4,1249.12 L766.9,1249.16 L767.4,1249.2 L767.9,1249.23 L768.4,1249.27 L768.9,1249.3 L769.4,1249.33 L769.9,1249.36 L770.4,1249.38 L770.9,1249.4 L771.4,1249.41 L771.9,1249.42 L772.4,1249.43 L772.9,1249.44 L773.4,1249.45 L773.9,1249.46 L774.4,1249.48 L774.9,1249.49 L775.4,1249.5 L775.9,1249.52 L776.4,1249.53 L776.9,1249.55 L777.4,1249.57 L777.9,1249.58 L778.4,1249.6 L778.9,1249.62 L779.4,1249.64 L779.9,1249.65 L780.4,1249.67 L780.9,1249.69 L781.4,1249.71 L781.9,1249.73 L782.4,1249.75 L782.9,1249.76 L783.4,1249.78 L783.9,1249.8 L784.4,1249.82 L784.9,1249.84 L785.4,1249.86 L785.9,1249.87 L786.4,1249.89 L786.9,1249.91 L787.4,1249.93 L787.9,1249.94 L788.4,1249.96 L788.9,1249.97 L789.4,1249.99 L789.9,1250 L790.4,1250.02 L790.9,1250.03 L791.4,1250.04 L791.9,1250.06 L792.4,1250.07 L792.9,1250.08" fill="none" stroke="#007a00" stroke-width="8.5" stroke-linejoin="round" stroke-linecap="round"/>
<path d="M472.9,1195.94 L473.4,1195.87 L473.9,1195.78 L474.4,1195.69 L474.9,1195.6 L475.4,1195.5 L475.9,1195.39 L476.4,1195.28 L476.9,1195.15 L477.4,1195.03 L477.9,1194.89 L478.4,1194.74 L478.9,1194.59 L479.4,1194.43 L479.9,1194.26 L480.4,1194.08 L480.9,1193.89 L481.4,1193.69 L481.9,1193.49 L482.4,1193.27 L482.9,1193.03 L483.4,1192.79 L483.9,1192.54 L484.4,1192.27 L484.9,1191.99 L485.4,1191.7 L485.9,1191.39 L486.4,1191.07 L486.9,1190.73 L487.4,1190.38 L487.9,1190.01 L488.4,1189.63 L488.9,1189.23 L489.4,1188.81 L489.9,1188.38 L490.4,1187.93 L490.9,1187.46 L491.4,1186.97 L491.9,1186.47 L492.4,1185.94 L492.9,1185.4 L493.4,1184.84 L493.9,1184.28 L494.4,1183.73 L494.9,1183.17 L495.4,1182.59 L495.9,1181.98 L496.4,1181.36 L496.9,1180.72 L497.4,1180.06 L497.9,1179.39 L498.4,1178.69 L498.9,1177.98 L499.4,1177.25 L499.9,1176.5 L500.4,1175.74 L500.9,1174.96 L501.4,1174.17 L501.9,1173.37 L502.4,1172.55 L502.9,1171.72 L503.4,1170.88 L503.9,1170.04 L504.4,1169.18 L504.9,1168.32 L505.4,1167.45 L505.9,1166.59 L506.4,1165.72 L506.9,1164.85 L507.4,1163.98 L507.9,1163.12 L508.4,1162.26 L508.9,1161.41 L509.4,1160.57 L509.9,1159.74 L510.4,1158.92 L510.9,1158.13 L511.4,1157.34 L511.9,1156.58 L512.4,1155.84 L512.9,1155.12 L513.4,1154.43 L513.9,1153.77 L514.4,1153.13 L514.9,1152.53 L515.4,1151.96 L515.9,1151.42 L516.4,1150.92 L516.9,1150.45 L517.4,1150.02 L517.9,1149.64 L518.4,1149.29 L518.9,1148.99 L519.4,1148.73 L519.9,1148.51 L520.4,1148.34 L520.9,1148.21 L521.4,1148.13 L521.9,1148.09 L522.4,1148.1 L522.9,1148.19 L523.4,1148.34 L523.9,1148.54 L524.4,1148.79 L524.9,1149.1 L525.4,1149.46 L525.9,1149.87 L526.4,1150.33 L526.9,1150.84 L527.4,1151.4 L527.9,1152 L528.4,1152.65 L528.9,1153.35 L529.4,1154.08 L529.9,1154.85 L530.4,1155.66 L530.9,1156.51 L531.4,1157.39 L531.9,1158.29 L532.4,1159.23 L532.9,1160.2 L533.4,1161.18 L533.9,1162.2 L534.4,1163.23 L534.9,1164.27 L535.4,1165.33 L535.9,1166.41 L536.4,1167.49 L536.9,1168.59 L537.4,1169.68 L537.9,1170.79 L538.4,1171.89 L538.9,1172.99 L539.4,1174.09 L539.9,1175.19 L540.4,1176.27 L540.9,1177.35 L541.4,1178.42 L541.9,1179.48 L542.4,1180.53 L542.9,1181.55 L543.4,1182.57 L543.9,1183.56 L544.4,1184.53 L544.9,1185.49 L545.4,1186.42 L545.9,1187.33 L546.4,1188.22 L546.9,1189.08 L547.4,1189.92 L547.9,1190.73 L548.4,1191.52 L548.9,1192.28 L549.4,1193.01 L549.9,1193.72 L550.4,1194.39 L550.9,1195.04 L551.4,1195.65 L551.9,1196.24 L552.4,1196.81 L552.9,1197.37 L553.4,1197.9 L553.9,1198.42 L554.4,1198.93 L554.9,1199.41 L555.4,1199.88 L555.9,1200.34 L556.4,1200.78 L556.9,1201.21 L557.4,1201.62 L557.9,1202.01 L558.4,1202.4 L558.9,1202.77 L559.4,1203.12 L559.9,1203.47 L560.4,1203.8 L560.9,1204.12 L561.4,1204.43 L561.9,1204.72 L562.4,1205.01 L562.9,1205.29 L563.4,1205.55 L563.9,1205.81 L564.4,1206.06 L564.9,1206.3 L565.4,1206.53 L565.9,1206.75 L566.4,1206.96 L566.9,1207.17 L567.4,1207.37 L567.9,1207.56 L568.4,1207.75 L568.9,1207.93 L569.4,1208.1 L569.9,1208.26 L570.4,1208.42 L570.9,1208.58 L571.4,1208.73 L571.9,1208.87" fill="none" stroke="#ff8000" stroke-width="4.0" stroke-linejoin="round" stroke-linecap="round"/>
<path d="M500.9,1194.39 L501.4,1194.38 L501.9,1194.37 L502.4,1194.35 L502.9,1194.33 L503.4,1194.3 L503.9,1194.26 L504.4,1194.22 L504.9,1194.16 L505.4,1194.1 L505.9,1194.03 L506.4,1193.95 L506.9,1193.86 L507.4,1193.76 L507.9,1193.64 L508.4,1193.51 L508.9,1193.37 L509.4,1193.21 L509.9,1193.04 L510.4,1192.85 L510.9,1192.65 L511.4,1192.42 L511.9,1192.18 L512.4,1191.91 L512.9,1191.63 L513.4,1191.32 L513.9,1191 L514.4,1190.64 L514.9,1190.27 L515.4,1189.86 L515.9,1189.43 L516.4,1188.98 L516.9,1188.49 L517.4,1187.98 L517.9,1187.43 L518.4,1186.86 L518.9,1186.25 L519.4,1185.61 L519.9,1184.94 L520.4,1184.23 L520.9,1183.49 L521.4,1182.71 L521.9,1181.9 L522.4,1181.05 L522.9,1180.19 L523.4,1179.31 L523.9,1178.41 L524.4,1177.47 L524.9,1176.5 L525.4,1175.51 L525.9,1174.48 L526.4,1173.42 L526.9,1172.34 L527.4,1171.22 L527.9,1170.08 L528.4,1168.91 L528.9,1167.7 L529.4,1166.47 L529.9,1165.22 L530.4,1163.93 L530.9,1162.62 L531.4,1161.28 L531.9,1159.92 L532.4,1158.54 L532.9,1157.14 L533.4,1155.71 L533.9,1154.27 L534.4,1152.81 L534.9,1151.34 L535.4,1149.85 L535.9,1148.35 L536.4,1146.84 L536.9,1145.33 L537.4,1143.81 L537.9,1142.28 L538.4,1140.76 L538.9,1139.24 L539.4,1137.73 L539.9,1136.22 L540.4,1134.72 L540.9,1133.24 L541.4,1131.77 L541.9,1130.32 L542.4,1128.9 L542.9,1127.49 L543.4,1126.12 L543.9,1124.77 L544.4,1123.46 L544.9,1122.18 L545.4,1120.94 L545.9,1119.74 L546.4,1118.58 L546.9,1117.48 L547.4,1116.41 L547.9,1115.4 L548.4,1114.45 L548.9,1113.55 L549.4,1112.7 L549.9,1111.92 L550.4,1111.19 L550.9,1110.53 L551.4,1109.92 L551.9,1109.38 L552.4,1108.92 L552.9,1108.54 L553.4,1108.24 L553.9,1108.02 L554.4,1107.88 L554.9,1107.82 L555.4,1107.85 L555.9,1107.95 L556.4,1108.14 L556.9,1108.4 L557.4,1108.75 L557.9,1109.18 L558.4,1109.68 L558.9,1110.26 L559.4,1110.92 L559.9,1111.66 L560.4,1112.46 L560.9,1113.34 L561.4,1114.29 L561.9,1115.3 L562.4,1116.38 L562.9,1117.52 L563.4,1118.72 L563.9,1119.98 L564.4,1121.29 L564.9,1122.65 L565.4,1124.07 L565.9,1125.53 L566.4,1127.03 L566.9,1128.57 L567.4,1130.15 L567.9,1131.76 L568.4,1133.41 L568.9,1135.08 L569.4,1136.77 L569.9,1138.49 L570.4,1140.22 L570.9,1141.97 L571.4,1143.72 L571.9,1145.49 L572.4,1147.26 L572.9,1149.03 L573.4,1150.81 L573.9,1152.58 L574.4,1154.34 L574.9,1156.09 L575.4,1157.83 L575.9,1159.56 L576.4,1161.27 L576.9,1162.97 L577.4,1164.64 L577.9,1166.28 L578.4,1167.91 L578.9,1169.5 L579.4,1171.07 L579.9,1172.61 L580.4,1174.09 L580.9,1175.55 L581.4,1176.99 L581.9,1178.39 L582.4,1179.77 L582.9,1181.11 L583.4,1182.43 L583.9,1183.71 L584.4,1184.96 L584.9,1186.18 L585.4,1187.36 L585.9,1188.51 L586.4,1189.63 L586.9,1190.72 L587.4,1191.77 L587.9,1192.78 L588.4,1193.77 L588.9,1194.72 L589.4,1195.64 L589.9,1196.52 L590.4,1197.38 L590.9,1198.2 L591.4,1198.99 L591.9,1199.75 L592.4,1200.48 L592.9,1201.18 L593.4,1201.85 L593.9,1202.49 L594.4,1203.11 L594.9,1203.7 L595.4,1204.26 L595.9,1204.8 L596.4,1205.31 L596.9,1205.8 L597.4,1206.27 L597.9,1206.71 L598.4,1207.13 L598.9,1207.54 L599.4,1207.92 L599.9,1208.28 L600.4,1208.62 L600.9,1208.95 L601.4,1209.25 L601.9,1209.54 L602.4,1209.82 L602.9,1210.08 L603.4,1210.32 L603.9,1210.55 L604.4,1210.77 L604.9,1210.97 L605.4,1211.16 L605.9,1211.34 L606.4,1211.51 L606.9,1211.66 L607.4,1211.81 L607.9,1211.94 L608.4,1212.06 L608.9,1212.18 L609.4,1212.28 L609.9,1212.38" fill="none" stroke="#ff8000" stroke-width="4.0" stroke-linejoin="round" stroke-linecap="round"/>
<path d="M606.9,1212.98 L607.4,1212.99 L607.9,1213 L608.4,1213.01 L608.9,1213.01 L609.4,1213 L609.9,1213 L610.4,1212.99 L610.9,1212.98 L611.4,1212.98 L611.9,1212.97 L612.4,1212.96 L612.9,1212.94 L613.4,1212.93 L613.9,1212.91 L614.4,1212.88 L614.9,1212.86 L615.4,1212.82 L615.9,1212.79 L616.4,1212.74 L616.9,1212.7 L617.4,1212.64 L617.9,1212.58 L618.4,1212.51 L618.9,1212.43 L619.4,1212.35 L619.9,1212.25 L620.4,1212.15 L620.9,1212.03 L621.4,1211.91 L621.9,1211.78 L622.4,1211.63 L622.9,1211.48 L623.4,1211.31 L623.9,1211.13 L624.4,1210.94 L624.9,1210.73 L625.4,1210.52 L625.9,1210.3 L626.4,1210.07 L626.9,1209.84 L627.4,1209.59 L627.9,1209.34 L628.4,1209.09 L628.9,1208.82 L629.4,1208.55 L629.9,1208.28 L630.4,1208 L630.9,1207.71 L631.4,1207.42 L631.9,1207.13 L632.4,1206.83 L632.9,1206.53 L633.4,1206.23 L633.9,1205.93 L634.4,1205.63 L634.9,1205.34 L635.4,1205.04 L635.9,1204.75 L636.4,1204.46 L636.9,1204.18 L637.4,1203.91 L637.9,1203.64 L638.4,1203.39 L638.9,1203.14 L639.4,1202.91 L639.9,1202.68 L640.4,1202.47 L640.9,1202.28 L641.4,1202.09 L641.9,1201.93 L642.4,1201.78 L642.9,1201.65 L643.4,1201.54 L643.9,1201.44 L644.4,1201.37 L644.9,1201.31 L645.4,1201.28 L645.9,1201.26 L646.4,1201.27 L646.9,1201.29 L647.4,1201.34 L647.9,1201.41 L648.4,1201.49 L648.9,1201.6 L649.4,1201.73 L649.9,1201.88 L650.4,1202.04 L650.9,1202.22 L651.4,1202.42 L651.9,1202.64 L652.4,1202.87 L652.9,1203.11 L653.4,1203.37 L653.9,1203.65 L654.4,1203.95 L654.9,1204.29 L655.4,1204.65 L655.9,1205.03 L656.4,1205.41 L656.9,1205.82 L657.4,1206.23 L657.9,1206.66 L658.4,1207.09 L658.9,1207.53 L659.4,1207.97 L659.9,1208.43 L660.4,1208.88 L660.9,1209.34 L661.4,1209.8 L661.9,1210.26 L662.4,1210.72 L662.9,1211.17 L663.4,1211.63 L663.9,1212.08 L664.4,1212.52 L664.9,1212.97 L665.4,1213.4 L665.9,1213.83 L666.4,1214.25 L666.9,1214.66 L667.4,1215.07 L667.9,1215.47 L668.4,1215.85 L668.9,1216.23 L669.4,1216.6 L669.9,1216.96 L670.4,1217.31 L670.9,1217.65 L671.4,1217.97 L671.9,1218.29 L672.4,1218.6 L672.9,1218.9 L673.4,1219.18 L673.9,1219.46 L674.4,1219.73 L674.9,1219.98 L675.4,1220.23 L675.9,1220.46 L676.4,1220.69 L676.9,1220.9 L677.4,1221.11 L677.9,1221.3 L678.4,1221.49 L678.9,1221.66 L679.4,1221.83 L679.9,1221.99 L680.4,1222.14 L680.9,1222.27 L681.4,1222.4 L681.9,1222.52 L682.4,1222.64 L682.9,1222.74 L683.4,1222.84 L683.9,1223.02 L684.4,1223.21 L684.9,1223.42 L685.4,1223.65 L685.9,1223.89 L686.4,1224.16 L686.9,1224.43" fill="none" stroke="#0000ff" stroke-width="4.0" stroke-linejoin="round" stroke-linecap="round"/>
<path d="M628.4,1213.96 L628.9,1213.94 L629.4,1213.91 L629.9,1213.88 L630.4,1213.85 L630.9,1213.81 L631.4,1213.77 L631.9,1213.71 L632.4,1213.65 L632.9,1213.58 L633.4,1213.51 L633.9,1213.42 L634.4,1213.32 L634.9,1213.21 L635.4,1213.09 L635.9,1212.95 L636.4,1212.8 L636.9,1212.64 L637.4,1212.46 L637.9,1212.26 L638.4,1212.04 L638.9,1211.81 L639.4,1211.55 L639.9,1211.28 L640.4,1210.98 L640.9,1210.66 L641.4,1210.31 L641.9,1209.94 L642.4,1209.54 L642.9,1209.12 L643.4,1208.67 L643.9,1208.19 L644.4,1207.68 L644.9,1207.15 L645.4,1206.58 L645.9,1205.98 L646.4,1205.36 L646.9,1204.7 L647.4,1204.01 L647.9,1203.29 L648.4,1202.55 L648.9,1201.77 L649.4,1200.96 L649.9,1200.13 L650.4,1199.26 L650.9,1198.37 L651.4,1197.46 L651.9,1196.52 L652.4,1195.56 L652.9,1194.58 L653.4,1193.58 L653.9,1192.57 L654.4,1191.55 L654.9,1190.56 L655.4,1189.57 L655.9,1188.57 L656.4,1187.58 L656.9,1186.6 L657.4,1185.62 L657.9,1184.66 L658.4,1183.72 L658.9,1182.79 L659.4,1181.88 L659.9,1181 L660.4,1180.15 L660.9,1179.33 L661.4,1178.54 L661.9,1177.79 L662.4,1177.08 L662.9,1176.42 L663.4,1175.8 L663.9,1175.23 L664.4,1174.72 L664.9,1174.25 L665.4,1173.85 L665.9,1173.5 L666.4,1173.22 L666.9,1172.99 L667.4,1172.83 L667.9,1172.74 L668.4,1172.71 L668.9,1172.74 L669.4,1172.84 L669.9,1173.01 L670.4,1173.25 L670.9,1173.54 L671.4,1173.91 L671.9,1174.33 L672.4,1174.82 L672.9,1175.37 L673.4,1175.98 L673.9,1176.64 L674.4,1177.36 L674.9,1178.13 L675.4,1178.94 L675.9,1179.81 L676.4,1180.71 L676.9,1181.65 L677.4,1182.63 L677.9,1183.65 L678.4,1184.69 L678.9,1185.75 L679.4,1186.84 L679.9,1187.95 L680.4,1189.07 L680.9,1190.2 L681.4,1191.34 L681.9,1192.48 L682.4,1193.62 L682.9,1194.76 L683.4,1195.9 L683.9,1197.11 L684.4,1198.34 L684.9,1199.58 L685.4,1200.83 L685.9,1202.08 L686.4,1203.33 L686.9,1204.58 L687.4,1205.83 L687.9,1207.06 L688.4,1208.28 L688.9,1209.48 L689.4,1210.66 L689.9,1211.82 L690.4,1212.95 L690.9,1214.06 L691.4,1215.13 L691.9,1216.18 L692.4,1217.19 L692.9,1218.16 L693.4,1219.1 L693.9,1219.99 L694.4,1220.85 L694.9,1221.66 L695.4,1222.43 L695.9,1223.16 L696.4,1223.84 L696.9,1224.47 L697.4,1225.06 L697.9,1225.59 L698.4,1226.1 L698.9,1226.62 L699.4,1227.13 L699.9,1227.64 L700.4,1228.15 L700.9,1228.65 L701.4,1229.16 L701.9,1229.65 L702.4,1230.15 L702.9,1230.63 L703.4,1231.11 L703.9,1231.59 L704.4,1232.05 L704.9,1232.5 L705.4,1232.94 L705.9,1233.38 L706.4,1233.79 L706.9,1234.2 L707.4,1234.59 L707.9,1234.96 L708.4,1235.32 L708.9,1235.66 L709.4,1235.98 L709.9,1236.28 L710.4,1236.55" fill="none" stroke="#0000ff" stroke-width="4.0" stroke-linejoin="round" stroke-linecap="round"/>
<path d="M658.9,1216.16 L659.4,1216.15 L659.9,1216.12 L660.4,1216.08 L660.9,1216.03 L661.4,1215.95 L661.9,1215.86 L662.4,1215.74 L662.9,1215.6 L663.4,1215.43 L663.9,1215.23 L664.4,1215 L664.9,1214.73 L665.4,1214.41 L665.9,1214.06 L666.4,1213.66 L666.9,1213.2 L667.4,1212.7 L667.9,1212.13 L668.4,1211.51 L668.9,1210.82 L669.4,1210.07 L669.9,1209.24 L670.4,1208.34 L670.9,1207.36 L671.4,1206.3 L671.9,1205.16 L672.4,1203.93 L672.9,1202.62 L673.4,1201.22 L673.9,1199.73 L674.4,1198.15 L674.9,1196.48 L675.4,1194.72 L675.9,1192.87 L676.4,1190.93 L676.9,1188.91 L677.4,1186.8 L677.9,1184.62 L678.4,1182.36 L678.9,1180.04 L679.4,1177.65 L679.9,1175.2 L680.4,1172.71 L680.9,1170.17 L681.4,1167.6 L681.9,1165.01 L682.4,1162.4 L682.9,1159.79 L683.4,1157.2 L683.9,1154.7 L684.4,1152.27 L684.9,1149.9 L685.4,1147.61 L685.9,1145.42 L686.4,1143.32 L686.9,1141.34 L687.4,1139.47 L687.9,1137.74 L688.4,1136.15 L688.9,1134.71 L689.4,1133.42 L689.9,1132.3 L690.4,1131.35 L690.9,1130.57 L691.4,1129.97 L691.9,1129.56 L692.4,1129.34 L692.9,1129.3 L693.4,1129.45 L693.9,1129.77 L694.4,1130.22 L694.9,1130.78 L695.4,1131.47 L695.9,1132.27 L696.4,1133.18 L696.9,1134.19 L697.4,1135.31 L697.9,1136.52 L698.4,1137.85 L698.9,1139.31 L699.4,1140.9 L699.9,1142.61 L700.4,1144.43 L700.9,1146.36 L701.4,1148.38 L701.9,1150.5 L702.4,1152.69 L702.9,1154.95 L703.4,1157.28 L703.9,1159.66 L704.4,1162.09 L704.9,1164.55 L705.4,1167.05 L705.9,1169.56 L706.4,1172.08 L706.9,1174.61 L707.4,1177.13 L707.9,1179.64 L708.4,1182.13 L708.9,1184.59 L709.4,1187.02 L709.9,1189.41 L710.4,1191.75 L710.9,1194.04 L711.4,1196.26 L711.9,1198.43 L712.4,1200.52 L712.9,1202.53 L713.4,1204.51 L713.9,1206.45 L714.4,1208.35 L714.9,1210.2 L715.4,1212.02 L715.9,1213.78 L716.4,1215.5 L716.9,1217.16 L717.4,1218.78 L717.9,1220.34 L718.4,1221.84 L718.9,1223.29 L719.4,1224.68 L719.9,1226.02 L720.4,1227.3 L720.9,1228.52 L721.4,1229.69 L721.9,1230.8 L722.4,1231.85 L722.9,1232.84 L723.4,1233.78 L723.9,1234.66 L724.4,1235.49 L724.9,1236.26 L725.4,1236.98 L725.9,1237.65 L726.4,1238.26 L726.9,1238.82 L727.4,1239.31 L727.9,1239.75 L728.4,1240.18 L728.9,1240.59 L729.4,1240.99 L729.9,1241.36 L730.4,1241.73 L730.9,1242.07 L731.4,1242.41 L731.9,1242.73 L732.4,1243.04 L732.9,1243.33 L733.4,1243.61 L733.9,1243.88 L734.4,1244.14 L734.9,1244.39" fill="none" stroke="#ff0000" stroke-width="4.0" stroke-linejoin="round" stroke-linecap="round"/>
<path d="M679.4,1221.28 L679.9,1221.21 L680.4,1221.12 L680.9,1220.99 L681.4,1220.84 L681.9,1220.65 L682.4,1220.43 L682.9,1220.17 L683.4,1219.87 L683.9,1219.61 L684.4,1219.33 L684.9,1219.03 L685.4,1218.69 L685.9,1218.32 L686.4,1217.91 L686.9,1217.45 L687.4,1216.94 L687.9,1216.37 L688.4,1215.74 L688.9,1215.04 L689.4,1214.27 L689.9,1213.41 L690.4,1212.47 L690.9,1211.43 L691.4,1210.3 L691.9,1209.06 L692.4,1207.72 L692.9,1206.27 L693.4,1204.7 L693.9,1203.01 L694.4,1201.2 L694.9,1199.27 L695.4,1197.21 L695.9,1195.02 L696.4,1192.7 L696.9,1190.26 L697.4,1187.69 L697.9,1184.99 L698.4,1182.2 L698.9,1179.33 L699.4,1176.41 L699.9,1173.42 L700.4,1170.38 L700.9,1167.3 L701.4,1164.18 L701.9,1161.02 L702.4,1157.85 L702.9,1154.67 L703.4,1151.48 L703.9,1148.31 L704.4,1145.17 L704.9,1142.05 L705.4,1138.99 L705.9,1135.99 L706.4,1133.06 L706.9,1130.22 L707.4,1127.49 L707.9,1124.86 L708.4,1122.37 L708.9,1120.01 L709.4,1117.8 L709.9,1115.76 L710.4,1113.88 L710.9,1112.19 L711.4,1110.69 L711.9,1109.39 L712.4,1108.29 L712.9,1107.39 L713.4,1106.75 L713.9,1106.37 L714.4,1106.26 L714.9,1106.4 L715.4,1106.69 L715.9,1107.1 L716.4,1107.64 L716.9,1108.31 L717.4,1109.09 L717.9,1109.99 L718.4,1111 L718.9,1112.12 L719.4,1113.35 L719.9,1114.68 L720.4,1116.11 L720.9,1117.64 L721.4,1119.25 L721.9,1120.95 L722.4,1122.73 L722.9,1124.58 L723.4,1126.5 L723.9,1128.49 L724.4,1130.53 L724.9,1132.63 L725.4,1134.77 L725.9,1136.96 L726.4,1139.18 L726.9,1141.43 L727.4,1143.68 L727.9,1145.96 L728.4,1148.28 L728.9,1150.65 L729.4,1153.04 L729.9,1155.47 L730.4,1157.92 L730.9,1160.38 L731.4,1162.86 L731.9,1165.34 L732.4,1167.83 L732.9,1170.31 L733.4,1172.79 L733.9,1175.25 L734.4,1177.7 L734.9,1180.13 L735.4,1182.54 L735.9,1184.91 L736.4,1187.26 L736.9,1189.57 L737.4,1191.84 L737.9,1194.08 L738.4,1196.26 L738.9,1198.4 L739.4,1200.49 L739.9,1202.53 L740.4,1204.51 L740.9,1206.44 L741.4,1208.31 L741.9,1210.11 L742.4,1211.83 L742.9,1213.51 L743.4,1215.14 L743.9,1216.73 L744.4,1218.26 L744.9,1219.74 L745.4,1221.18 L745.9,1222.56 L746.4,1223.9 L746.9,1225.19 L747.4,1226.43 L747.9,1227.62 L748.4,1228.77 L748.9,1229.87 L749.4,1230.93 L749.9,1231.94 L750.4,1232.91 L750.9,1233.84 L751.4,1234.73 L751.9,1235.58 L752.4,1236.39 L752.9,1237.16 L753.4,1237.89 L753.9,1238.59 L754.4,1239.26 L754.9,1239.89 L755.4,1240.49 L755.9,1241.06 L756.4,1241.6 L756.9,1242.11 L757.4,1242.6 L757.9,1243.06 L758.4,1243.49 L758.9,1243.9 L759.4,1244.29 L759.9,1244.65 L760.4,1245 L760.9,1245.32 L761.4,1245.63 L761.9,1245.92 L762.4,1246.19 L762.9,1246.44 L763.4,1246.68 L763.9,1246.9 L764.4,1247.11 L764.9,1247.31 L765.4,1247.5 L765.9,1247.67 L766.4,1247.83 L766.9,1247.98 L767.4,1248.12" fill="none" stroke="#ff0000" stroke-width="4.0" stroke-linejoin="round" stroke-linecap="round"/>
<line x1="470.4" y1="937" x2="794.3" y2="937" stroke="#000" stroke-width="1.5" />
<line x1="470.4" y1="1293.3" x2="794.3" y2="1293.3" stroke="#000" stroke-width="1.5" />
<line x1="470.4" y1="937" x2="470.4" y2="1293.3" stroke="#000" stroke-width="1.5" />
<line x1="794.3" y1="937" x2="794.3" y2="1293.3" stroke="#000" stroke-width="1.5" />
<line x1="793.26" y1="1293.3" x2="793.26" y2="1301.3" stroke="#000" stroke-width="1.4" />
<text x="793.26" y="1321.8" font-size="17.5" text-anchor="middle" fill="#000" font-weight="normal" >158</text>
<line x1="771.72" y1="1293.3" x2="771.72" y2="1297.3" stroke="#000" stroke-width="1.4" />
<line x1="750.18" y1="1293.3" x2="750.18" y2="1301.3" stroke="#000" stroke-width="1.4" />
<text x="750.18" y="1321.8" font-size="17.5" text-anchor="middle" fill="#000" font-weight="normal" >160</text>
<line x1="728.64" y1="1293.3" x2="728.64" y2="1297.3" stroke="#000" stroke-width="1.4" />
<line x1="707.1" y1="1293.3" x2="707.1" y2="1301.3" stroke="#000" stroke-width="1.4" />
<text x="707.1" y="1321.8" font-size="17.5" text-anchor="middle" fill="#000" font-weight="normal" >162</text>
<line x1="685.56" y1="1293.3" x2="685.56" y2="1297.3" stroke="#000" stroke-width="1.4" />
<line x1="664.02" y1="1293.3" x2="664.02" y2="1301.3" stroke="#000" stroke-width="1.4" />
<text x="664.02" y="1321.8" font-size="17.5" text-anchor="middle" fill="#000" font-weight="normal" >164</text>
<line x1="642.48" y1="1293.3" x2="642.48" y2="1297.3" stroke="#000" stroke-width="1.4" />
<line x1="620.94" y1="1293.3" x2="620.94" y2="1301.3" stroke="#000" stroke-width="1.4" />
<text x="620.94" y="1321.8" font-size="17.5" text-anchor="middle" fill="#000" font-weight="normal" >166</text>
<line x1="599.4" y1="1293.3" x2="599.4" y2="1297.3" stroke="#000" stroke-width="1.4" />
<line x1="577.86" y1="1293.3" x2="577.86" y2="1301.3" stroke="#000" stroke-width="1.4" />
<text x="577.86" y="1321.8" font-size="17.5" text-anchor="middle" fill="#000" font-weight="normal" >168</text>
<line x1="556.32" y1="1293.3" x2="556.32" y2="1297.3" stroke="#000" stroke-width="1.4" />
<line x1="534.78" y1="1293.3" x2="534.78" y2="1301.3" stroke="#000" stroke-width="1.4" />
<text x="534.78" y="1321.8" font-size="17.5" text-anchor="middle" fill="#000" font-weight="normal" >170</text>
<line x1="513.24" y1="1293.3" x2="513.24" y2="1297.3" stroke="#000" stroke-width="1.4" />
<line x1="491.7" y1="1293.3" x2="491.7" y2="1301.3" stroke="#000" stroke-width="1.4" />
<text x="491.7" y="1321.8" font-size="17.5" text-anchor="middle" fill="#000" font-weight="normal" >172</text>
<line x1="470.16" y1="1293.3" x2="470.16" y2="1297.3" stroke="#000" stroke-width="1.4" />
<circle cx="473.5" cy="1190" r="4.5" fill="#007a00"/>
<circle cx="474.5" cy="1201" r="4.5" fill="#007a00"/>
<circle cx="480.5" cy="1206" r="4" fill="#007a00"/>
<circle cx="481" cy="1199" r="3.5" fill="#007a00"/>
<line x1="522.4" y1="1140.7" x2="522.4" y2="1181.6" stroke="#000" stroke-width="1.1" stroke-dasharray="2.2,1.8"/>
<line x1="555.5" y1="1093.3" x2="555.5" y2="1140" stroke="#000" stroke-width="1.1" stroke-dasharray="2.2,1.8"/>
<line x1="649.1" y1="1178" x2="649.1" y2="1225.3" stroke="#000" stroke-width="1.1" stroke-dasharray="2.2,1.8"/>
<line x1="668" y1="1152.4" x2="668" y2="1199.8" stroke="#000" stroke-width="1.1" stroke-dasharray="2.2,1.8"/>
<line x1="693.1" y1="1110.8" x2="693.1" y2="1157.5" stroke="#000" stroke-width="1.1" stroke-dasharray="2.2,1.8"/>
<line x1="714.7" y1="1094.8" x2="714.7" y2="1142.2" stroke="#000" stroke-width="1.1" stroke-dasharray="2.2,1.8"/>
<line x1="522.4" y1="1141.4" x2="507.37" y2="1088.1" stroke="#000" stroke-width="0.9" />
<polygon points="505.2,1080.4 510.34,1088.3 504.95,1089.82" fill="#000"/>
<line x1="549.7" y1="1107" x2="522.6" y2="1082.2" stroke="#000" stroke-width="0.9" />
<polygon points="516.7,1076.8 525.23,1080.81 521.45,1084.94" fill="#000"/>
<line x1="649.1" y1="1194" x2="632.24" y2="1149.68" stroke="#000" stroke-width="0.9" />
<polygon points="629.4,1142.2 635.22,1149.62 629.98,1151.61" fill="#000"/>
<line x1="668" y1="1166.3" x2="639.65" y2="1140.31" stroke="#000" stroke-width="0.9" />
<polygon points="633.75,1134.9 642.28,1138.92 638.49,1143.05" fill="#000"/>
<line x1="693.5" y1="1113" x2="719.01" y2="1049.72" stroke="#000" stroke-width="0.9" />
<polygon points="722,1042.3 721.23,1051.69 716.04,1049.6" fill="#000"/>
<line x1="719.8" y1="1103.5" x2="731.15" y2="1053.01" stroke="#000" stroke-width="0.9" />
<polygon points="732.9,1045.2 733.66,1054.59 728.2,1053.37" fill="#000"/>
<text x="483.7" y="1066.8" font-size="15.5" text-anchor="start" fill="#ff8000" font-weight="normal" >-SO<tspan font-size="9.61" dy="3.1">2</tspan><tspan dy="-3.1">​</tspan>-F</text>
<text x="621.7" y="1134.9" font-size="16" text-anchor="start" fill="#0000ff" font-weight="normal" >S<tspan font-size="9.92" dy="-6.08">0</tspan></text>
<text x="714" y="1029.9" font-size="16" text-anchor="start" fill="#ff0000" font-weight="normal" >S<tspan font-size="9.92" dy="-6.08">2−</tspan><tspan dy="6.08"> (Sb</tspan><tspan font-size="9.92" dy="3.2">2</tspan><tspan dy="-3.2">​</tspan>S<tspan font-size="9.92" dy="3.2">3</tspan><tspan dy="-3.2">​</tspan>)</text>
<text x="509.5" y="1226.9" font-size="15.5" text-anchor="start" fill="#000" font-weight="normal" >2p<tspan font-size="10.23" dy="4.34">1/2</tspan></text>
<text x="551.1" y="1233.3" font-size="15.5" text-anchor="start" fill="#000" font-weight="normal" >2p<tspan font-size="10.23" dy="4.34">3/2</tspan></text>
<text x="633" y="1243.5" font-size="15.5" text-anchor="start" fill="#000" font-weight="normal" >2p<tspan font-size="10.23" dy="4.34">1/2</tspan></text>
<text x="661.5" y="1243.5" font-size="15.5" text-anchor="start" fill="#000" font-weight="normal" >2p<tspan font-size="10.23" dy="4.34">3/2</tspan></text>
<text x="683.3" y="1169.9" font-size="15.5" text-anchor="start" fill="#000" font-weight="normal" >2p<tspan font-size="10.23" dy="4.34">1/2</tspan></text>
<text x="705.2" y="1153.1" font-size="15.5" text-anchor="start" fill="#000" font-weight="normal" >2p<tspan font-size="10.23" dy="4.34">3/2</tspan></text>
<text x="494.75" y="978.6" font-size="17.5" text-anchor="start" fill="#000" font-weight="normal" >S 2p</text>
<text x="692.1" y="978.6" font-size="17.5" text-anchor="start" fill="#000" font-weight="normal" >SBS/C (E)</text>
<text x="632.6" y="1346.5" font-size="18" text-anchor="middle" fill="#000" font-weight="normal" >Binding energy (eV)</text>
<text x="457" y="1106.5" font-size="18" text-anchor="middle" fill="#000" font-weight="normal" transform="rotate(-90 457 1106.5)" >Intensity (a.u.)</text>
<text x="441.5" y="934.5" font-size="30" text-anchor="start" fill="#000" font-weight="bold" >f</text>
<rect x="864.3" y="1198.45" width="3.4" height="3.4" fill="#000080"/>
<rect x="866.45" y="1207.29" width="3.4" height="3.4" fill="#000080"/>
<rect x="868.6" y="1207.17" width="3.4" height="3.4" fill="#000080"/>
<rect x="870.75" y="1202.64" width="3.4" height="3.4" fill="#000080"/>
<rect x="872.9" y="1195.23" width="3.4" height="3.4" fill="#000080"/>
<rect x="875.05" y="1203.13" width="3.4" height="3.4" fill="#000080"/>
<rect x="877.2" y="1189.17" width="3.4" height="3.4" fill="#000080"/>
<rect x="879.35" y="1199.47" width="3.4" height="3.4" fill="#000080"/>
<rect x="881.5" y="1184.63" width="3.4" height="3.4" fill="#000080"/>
<rect x="883.65" y="1189.91" width="3.4" height="3.4" fill="#000080"/>
<rect x="885.8" y="1174.08" width="3.4" height="3.4" fill="#000080"/>
<rect x="887.95" y="1192.77" width="3.4" height="3.4" fill="#000080"/>
<rect x="890.1" y="1166.89" width="3.4" height="3.4" fill="#000080"/>
<rect x="892.25" y="1172.34" width="3.4" height="3.4" fill="#000080"/>
<rect x="894.4" y="1164.99" width="3.4" height="3.4" fill="#000080"/>
<rect x="896.55" y="1173.62" width="3.4" height="3.4" fill="#000080"/>
<rect x="898.7" y="1152" width="3.4" height="3.4" fill="#000080"/>
<rect x="900.85" y="1154.19" width="3.4" height="3.4" fill="#000080"/>
<rect x="903" y="1157.27" width="3.4" height="3.4" fill="#000080"/>
<rect x="905.15" y="1147.38" width="3.4" height="3.4" fill="#000080"/>
<rect x="907.3" y="1135.28" width="3.4" height="3.4" fill="#000080"/>
<rect x="909.45" y="1130.46" width="3.4" height="3.4" fill="#000080"/>
<rect x="911.6" y="1124.56" width="3.4" height="3.4" fill="#000080"/>
<rect x="913.75" y="1118.6" width="3.4" height="3.4" fill="#000080"/>
<rect x="915.9" y="1128.75" width="3.4" height="3.4" fill="#000080"/>
<rect x="918.05" y="1099.99" width="3.4" height="3.4" fill="#000080"/>
<rect x="920.2" y="1105.37" width="3.4" height="3.4" fill="#000080"/>
<rect x="922.35" y="1096.36" width="3.4" height="3.4" fill="#000080"/>
<rect x="924.5" y="1080.89" width="3.4" height="3.4" fill="#000080"/>
<rect x="926.65" y="1077.11" width="3.4" height="3.4" fill="#000080"/>
<rect x="928.8" y="1075.25" width="3.4" height="3.4" fill="#000080"/>
<rect x="930.95" y="1070.57" width="3.4" height="3.4" fill="#000080"/>
<rect x="933.1" y="1059.31" width="3.4" height="3.4" fill="#000080"/>
<rect x="935.25" y="1046.66" width="3.4" height="3.4" fill="#000080"/>
<rect x="937.4" y="1032.85" width="3.4" height="3.4" fill="#000080"/>
<rect x="939.55" y="1043.57" width="3.4" height="3.4" fill="#000080"/>
<rect x="941.7" y="1041.96" width="3.4" height="3.4" fill="#000080"/>
<rect x="943.85" y="1047.44" width="3.4" height="3.4" fill="#000080"/>
<rect x="946" y="1037.01" width="3.4" height="3.4" fill="#000080"/>
<rect x="948.15" y="1037.39" width="3.4" height="3.4" fill="#000080"/>
<rect x="950.3" y="1035.12" width="3.4" height="3.4" fill="#000080"/>
<rect x="952.45" y="1033.98" width="3.4" height="3.4" fill="#000080"/>
<rect x="954.6" y="1030.7" width="3.4" height="3.4" fill="#000080"/>
<rect x="956.75" y="1062.57" width="3.4" height="3.4" fill="#000080"/>
<rect x="958.9" y="1058.03" width="3.4" height="3.4" fill="#000080"/>
<rect x="961.05" y="1065.36" width="3.4" height="3.4" fill="#000080"/>
<rect x="963.2" y="1080.42" width="3.4" height="3.4" fill="#000080"/>
<rect x="965.35" y="1087.6" width="3.4" height="3.4" fill="#000080"/>
<rect x="967.5" y="1088.59" width="3.4" height="3.4" fill="#000080"/>
<rect x="969.65" y="1106.16" width="3.4" height="3.4" fill="#000080"/>
<rect x="971.8" y="1137.23" width="3.4" height="3.4" fill="#000080"/>
<rect x="973.95" y="1146.58" width="3.4" height="3.4" fill="#000080"/>
<rect x="976.1" y="1159.31" width="3.4" height="3.4" fill="#000080"/>
<rect x="978.25" y="1169.96" width="3.4" height="3.4" fill="#000080"/>
<rect x="980.4" y="1169.96" width="3.4" height="3.4" fill="#000080"/>
<rect x="982.55" y="1162.11" width="3.4" height="3.4" fill="#000080"/>
<rect x="984.7" y="1184.59" width="3.4" height="3.4" fill="#000080"/>
<rect x="986.85" y="1187.06" width="3.4" height="3.4" fill="#000080"/>
<rect x="989" y="1200.13" width="3.4" height="3.4" fill="#000080"/>
<rect x="991.15" y="1211.24" width="3.4" height="3.4" fill="#000080"/>
<rect x="993.3" y="1215.47" width="3.4" height="3.4" fill="#000080"/>
<rect x="995.45" y="1204.01" width="3.4" height="3.4" fill="#000080"/>
<rect x="997.6" y="1216.19" width="3.4" height="3.4" fill="#000080"/>
<rect x="999.75" y="1209.62" width="3.4" height="3.4" fill="#000080"/>
<rect x="1001.9" y="1217.41" width="3.4" height="3.4" fill="#000080"/>
<rect x="1004.05" y="1208.88" width="3.4" height="3.4" fill="#000080"/>
<rect x="1006.2" y="1205.85" width="3.4" height="3.4" fill="#000080"/>
<rect x="1008.35" y="1209.45" width="3.4" height="3.4" fill="#000080"/>
<rect x="1010.5" y="1210.85" width="3.4" height="3.4" fill="#000080"/>
<rect x="1012.65" y="1210.65" width="3.4" height="3.4" fill="#000080"/>
<rect x="1014.8" y="1218.6" width="3.4" height="3.4" fill="#000080"/>
<rect x="1016.95" y="1204.2" width="3.4" height="3.4" fill="#000080"/>
<rect x="1019.1" y="1204.43" width="3.4" height="3.4" fill="#000080"/>
<rect x="1021.25" y="1197.64" width="3.4" height="3.4" fill="#000080"/>
<rect x="1023.4" y="1209.5" width="3.4" height="3.4" fill="#000080"/>
<rect x="1025.55" y="1216.22" width="3.4" height="3.4" fill="#000080"/>
<rect x="1027.7" y="1211.6" width="3.4" height="3.4" fill="#000080"/>
<rect x="1029.85" y="1193.79" width="3.4" height="3.4" fill="#000080"/>
<rect x="1032" y="1196.67" width="3.4" height="3.4" fill="#000080"/>
<rect x="1034.15" y="1225.85" width="3.4" height="3.4" fill="#000080"/>
<rect x="1036.3" y="1203.47" width="3.4" height="3.4" fill="#000080"/>
<rect x="1038.45" y="1205.78" width="3.4" height="3.4" fill="#000080"/>
<rect x="1040.6" y="1202.12" width="3.4" height="3.4" fill="#000080"/>
<rect x="1042.75" y="1191.57" width="3.4" height="3.4" fill="#000080"/>
<rect x="1044.9" y="1197.74" width="3.4" height="3.4" fill="#000080"/>
<rect x="1047.05" y="1195.64" width="3.4" height="3.4" fill="#000080"/>
<rect x="1049.2" y="1176.77" width="3.4" height="3.4" fill="#000080"/>
<rect x="1051.35" y="1169.51" width="3.4" height="3.4" fill="#000080"/>
<rect x="1053.5" y="1190.07" width="3.4" height="3.4" fill="#000080"/>
<rect x="1055.65" y="1170.75" width="3.4" height="3.4" fill="#000080"/>
<rect x="1057.8" y="1166.93" width="3.4" height="3.4" fill="#000080"/>
<rect x="1059.95" y="1158.33" width="3.4" height="3.4" fill="#000080"/>
<rect x="1062.1" y="1145.57" width="3.4" height="3.4" fill="#000080"/>
<rect x="1064.25" y="1175.36" width="3.4" height="3.4" fill="#000080"/>
<rect x="1066.4" y="1159.22" width="3.4" height="3.4" fill="#000080"/>
<rect x="1068.55" y="1144.84" width="3.4" height="3.4" fill="#000080"/>
<rect x="1070.7" y="1139.41" width="3.4" height="3.4" fill="#000080"/>
<rect x="1072.85" y="1145.35" width="3.4" height="3.4" fill="#000080"/>
<rect x="1075" y="1131.68" width="3.4" height="3.4" fill="#000080"/>
<rect x="1077.15" y="1126.09" width="3.4" height="3.4" fill="#000080"/>
<rect x="1079.3" y="1125.42" width="3.4" height="3.4" fill="#000080"/>
<rect x="1081.45" y="1115.88" width="3.4" height="3.4" fill="#000080"/>
<rect x="1083.6" y="1101.56" width="3.4" height="3.4" fill="#000080"/>
<rect x="1085.75" y="1097.87" width="3.4" height="3.4" fill="#000080"/>
<rect x="1087.9" y="1099.16" width="3.4" height="3.4" fill="#000080"/>
<rect x="1090.05" y="1091.37" width="3.4" height="3.4" fill="#000080"/>
<rect x="1092.2" y="1087.18" width="3.4" height="3.4" fill="#000080"/>
<rect x="1094.35" y="1107.02" width="3.4" height="3.4" fill="#000080"/>
<rect x="1096.5" y="1083.81" width="3.4" height="3.4" fill="#000080"/>
<rect x="1098.65" y="1093.41" width="3.4" height="3.4" fill="#000080"/>
<rect x="1100.8" y="1079.57" width="3.4" height="3.4" fill="#000080"/>
<rect x="1102.95" y="1086.38" width="3.4" height="3.4" fill="#000080"/>
<rect x="1105.1" y="1077.41" width="3.4" height="3.4" fill="#000080"/>
<rect x="1107.25" y="1098.85" width="3.4" height="3.4" fill="#000080"/>
<rect x="1109.4" y="1117.7" width="3.4" height="3.4" fill="#000080"/>
<rect x="1111.55" y="1104.75" width="3.4" height="3.4" fill="#000080"/>
<rect x="1113.7" y="1107.49" width="3.4" height="3.4" fill="#000080"/>
<rect x="1115.85" y="1132.12" width="3.4" height="3.4" fill="#000080"/>
<rect x="1118" y="1133.5" width="3.4" height="3.4" fill="#000080"/>
<rect x="1120.15" y="1139.18" width="3.4" height="3.4" fill="#000080"/>
<rect x="1122.3" y="1142.83" width="3.4" height="3.4" fill="#000080"/>
<rect x="1124.45" y="1145.37" width="3.4" height="3.4" fill="#000080"/>
<rect x="1126.6" y="1141.57" width="3.4" height="3.4" fill="#000080"/>
<rect x="1128.75" y="1178.13" width="3.4" height="3.4" fill="#000080"/>
<rect x="1130.9" y="1167.82" width="3.4" height="3.4" fill="#000080"/>
<rect x="1133.05" y="1183.09" width="3.4" height="3.4" fill="#000080"/>
<rect x="1135.2" y="1182.9" width="3.4" height="3.4" fill="#000080"/>
<rect x="1137.35" y="1192.89" width="3.4" height="3.4" fill="#000080"/>
<rect x="1139.5" y="1192.42" width="3.4" height="3.4" fill="#000080"/>
<rect x="1141.65" y="1212.5" width="3.4" height="3.4" fill="#000080"/>
<rect x="1143.8" y="1204.11" width="3.4" height="3.4" fill="#000080"/>
<rect x="1145.95" y="1210.68" width="3.4" height="3.4" fill="#000080"/>
<rect x="1148.1" y="1202.24" width="3.4" height="3.4" fill="#000080"/>
<rect x="1150.25" y="1221.79" width="3.4" height="3.4" fill="#000080"/>
<rect x="1152.4" y="1241.14" width="3.4" height="3.4" fill="#000080"/>
<rect x="1154.55" y="1230.47" width="3.4" height="3.4" fill="#000080"/>
<rect x="1156.7" y="1232.01" width="3.4" height="3.4" fill="#000080"/>
<rect x="1158.85" y="1223.8" width="3.4" height="3.4" fill="#000080"/>
<rect x="1161" y="1239.27" width="3.4" height="3.4" fill="#000080"/>
<rect x="1163.15" y="1236.53" width="3.4" height="3.4" fill="#000080"/>
<rect x="1165.3" y="1238.64" width="3.4" height="3.4" fill="#000080"/>
<rect x="1167.45" y="1246.19" width="3.4" height="3.4" fill="#000080"/>
<rect x="1169.6" y="1248.21" width="3.4" height="3.4" fill="#000080"/>
<rect x="1171.75" y="1241.97" width="3.4" height="3.4" fill="#000080"/>
<rect x="1173.9" y="1239.58" width="3.4" height="3.4" fill="#000080"/>
<rect x="1176.05" y="1228.44" width="3.4" height="3.4" fill="#000080"/>
<rect x="1178.2" y="1242.3" width="3.4" height="3.4" fill="#000080"/>
<rect x="1180.35" y="1244.85" width="3.4" height="3.4" fill="#000080"/>
<rect x="948.3" y="1012.8" width="3.4" height="3.4" fill="#000080"/>
<rect x="951.3" y="1013.3" width="3.4" height="3.4" fill="#000080"/>
<rect x="946.3" y="1019.3" width="3.4" height="3.4" fill="#000080"/>
<rect x="944.3" y="1027.3" width="3.4" height="3.4" fill="#000080"/>
<rect x="954.3" y="1029.3" width="3.4" height="3.4" fill="#000080"/>
<rect x="934.3" y="1048.3" width="3.4" height="3.4" fill="#000080"/>
<rect x="942.3" y="1047.3" width="3.4" height="3.4" fill="#000080"/>
<rect x="927.3" y="1066.3" width="3.4" height="3.4" fill="#000080"/>
<rect x="934.3" y="1066.3" width="3.4" height="3.4" fill="#000080"/>
<rect x="878.3" y="1176.3" width="3.4" height="3.4" fill="#000080"/>
<rect x="889.3" y="1173.3" width="3.4" height="3.4" fill="#000080"/>
<rect x="878.3" y="1193.3" width="3.4" height="3.4" fill="#000080"/>
<rect x="883.3" y="1198.3" width="3.4" height="3.4" fill="#000080"/>
<rect x="867.3" y="1195.3" width="3.4" height="3.4" fill="#000080"/>
<rect x="870.3" y="1200.3" width="3.4" height="3.4" fill="#000080"/>
<rect x="864.3" y="1205.3" width="3.4" height="3.4" fill="#000080"/>
<rect x="891.3" y="1168.3" width="3.4" height="3.4" fill="#000080"/>
<rect x="894.3" y="1164.3" width="3.4" height="3.4" fill="#000080"/>
<rect x="897.3" y="1155.3" width="3.4" height="3.4" fill="#000080"/>
<rect x="862.3" y="1198.3" width="3.4" height="3.4" fill="#000080"/>
<rect x="891.3" y="1189.3" width="3.4" height="3.4" fill="#000080"/>
<rect x="1006.3" y="1195.3" width="3.4" height="3.4" fill="#000080"/>
<rect x="1032.3" y="1188.3" width="3.4" height="3.4" fill="#000080"/>
<rect x="1038.3" y="1193.3" width="3.4" height="3.4" fill="#000080"/>
<rect x="1043.3" y="1207.3" width="3.4" height="3.4" fill="#000080"/>
<rect x="1002.3" y="1208.3" width="3.4" height="3.4" fill="#000080"/>
<rect x="1010.3" y="1202.3" width="3.4" height="3.4" fill="#000080"/>
<rect x="1018.3" y="1206.3" width="3.4" height="3.4" fill="#000080"/>
<rect x="1098.3" y="1083.3" width="3.4" height="3.4" fill="#000080"/>
<rect x="1101.3" y="1083.3" width="3.4" height="3.4" fill="#000080"/>
<rect x="1083.3" y="1098.3" width="3.4" height="3.4" fill="#000080"/>
<rect x="1078.3" y="1106.3" width="3.4" height="3.4" fill="#000080"/>
<rect x="1074.3" y="1120.3" width="3.4" height="3.4" fill="#000080"/>
<rect x="1048.3" y="1151.3" width="3.4" height="3.4" fill="#000080"/>
<rect x="1046.3" y="1168.3" width="3.4" height="3.4" fill="#000080"/>
<rect x="1118.3" y="1103.3" width="3.4" height="3.4" fill="#000080"/>
<rect x="1121.3" y="1108.3" width="3.4" height="3.4" fill="#000080"/>
<rect x="1125.3" y="1125.3" width="3.4" height="3.4" fill="#000080"/>
<rect x="1131.3" y="1150.3" width="3.4" height="3.4" fill="#000080"/>
<rect x="1137.3" y="1176.3" width="3.4" height="3.4" fill="#000080"/>
<rect x="1142.3" y="1189.3" width="3.4" height="3.4" fill="#000080"/>
<rect x="1148.3" y="1199.3" width="3.4" height="3.4" fill="#000080"/>
<rect x="1155.3" y="1208.3" width="3.4" height="3.4" fill="#000080"/>
<rect x="1161.3" y="1218.3" width="3.4" height="3.4" fill="#000080"/>
<rect x="1168.3" y="1214.3" width="3.4" height="3.4" fill="#000080"/>
<rect x="1174.3" y="1223.3" width="3.4" height="3.4" fill="#000080"/>
<rect x="1179.3" y="1226.3" width="3.4" height="3.4" fill="#000080"/>
<rect x="1166.3" y="1226.3" width="3.4" height="3.4" fill="#000080"/>
<rect x="1158.3" y="1223.3" width="3.4" height="3.4" fill="#000080"/>
<path d="M864,1208.1 L864.5,1207.96 L865,1207.81 L865.5,1207.66 L866,1207.5 L866.5,1207.33 L867,1207.15 L867.5,1206.97 L868,1206.78 L868.5,1206.59 L869,1206.38 L869.5,1206.17 L870,1205.95 L870.5,1205.72 L871,1205.48 L871.5,1205.23 L872,1204.97 L872.5,1204.7 L873,1204.42 L873.5,1204.13 L874,1203.84 L874.5,1203.53 L875,1203.2 L875.5,1202.87 L876,1202.53 L876.5,1202.17 L877,1201.8 L877.5,1201.42 L878,1201.02 L878.5,1200.62 L879,1200.19 L879.5,1199.76 L880,1199.31 L880.5,1198.84 L881,1198.36 L881.5,1197.86 L882,1197.35 L882.5,1196.83 L883,1196.28 L883.5,1195.72 L884,1195.14 L884.5,1194.55 L885,1193.94 L885.5,1193.31 L886,1192.66 L886.5,1191.99 L887,1191.31 L887.5,1190.6 L888,1189.88 L888.5,1189.14 L889,1188.37 L889.5,1187.59 L890,1186.79 L890.5,1185.96 L891,1185.12 L891.5,1184.25 L892,1183.36 L892.5,1182.46 L893,1181.52 L893.5,1180.57 L894,1179.6 L894.5,1178.6 L895,1177.58 L895.5,1176.54 L896,1175.48 L896.5,1174.39 L897,1173.28 L897.5,1172.15 L898,1170.99 L898.5,1169.81 L899,1168.61 L899.5,1167.39 L900,1166.14 L900.5,1164.87 L901,1163.58 L901.5,1162.26 L902,1160.92 L902.5,1159.56 L903,1158.18 L903.5,1156.81 L904,1155.42 L904.5,1154.02 L905,1152.6 L905.5,1151.17 L906,1149.71 L906.5,1148.24 L907,1146.75 L907.5,1145.25 L908,1143.72 L908.5,1142.19 L909,1140.63 L909.5,1139.06 L910,1137.48 L910.5,1135.87 L911,1134.26 L911.5,1132.63 L912,1130.99 L912.5,1129.33 L913,1127.66 L913.5,1125.98 L914,1124.29 L914.5,1122.59 L915,1120.88 L915.5,1119.16 L916,1117.42 L916.5,1115.69 L917,1113.94 L917.5,1112.19 L918,1110.43 L918.5,1108.66 L919,1106.89 L919.5,1105.12 L920,1103.35 L920.5,1101.57 L921,1099.79 L921.5,1098.02 L922,1096.24 L922.5,1094.47 L923,1092.69 L923.5,1090.93 L924,1089.16 L924.5,1087.41 L925,1085.66 L925.5,1083.92 L926,1082.18 L926.5,1080.46 L927,1078.75 L927.5,1077.04 L928,1075.36 L928.5,1073.68 L929,1072.02 L929.5,1070.38 L930,1068.76 L930.5,1067.15 L931,1065.56 L931.5,1063.99 L932,1062.46 L932.5,1060.96 L933,1059.49 L933.5,1058.06 L934,1056.66 L934.5,1055.3 L935,1053.98 L935.5,1052.69 L936,1051.45 L936.5,1050.24 L937,1049.07 L937.5,1047.94 L938,1046.85 L938.5,1045.81 L939,1044.81 L939.5,1043.85 L940,1042.93 L940.5,1042.06 L941,1041.24 L941.5,1040.46 L942,1039.73 L942.5,1039.05 L943,1038.41 L943.5,1037.82 L944,1037.28 L944.5,1036.79 L945,1036.35 L945.5,1035.95 L946,1035.61 L946.5,1035.32 L947,1035.07 L947.5,1034.88 L948,1034.73 L948.5,1034.64 L949,1034.59 L949.5,1034.6 L950,1034.65 L950.5,1034.75 L951,1034.95 L951.5,1035.26 L952,1035.71 L952.5,1036.27 L953,1036.96 L953.5,1037.78 L954,1038.71 L954.5,1039.76 L955,1040.93 L955.5,1042.21 L956,1043.6 L956.5,1045.1 L957,1046.7 L957.5,1048.41 L958,1050.21 L958.5,1052.11 L959,1054.1 L959.5,1056.18 L960,1058.34 L960.5,1060.58 L961,1062.87 L961.5,1065.24 L962,1067.69 L962.5,1070.21 L963,1072.8 L963.5,1075.44 L964,1078.14 L964.5,1080.89 L965,1083.69 L965.5,1086.53 L966,1089.4 L966.5,1092.31 L967,1095.25 L967.5,1098.2 L968,1101.18 L968.5,1104.17 L969,1107.16 L969.5,1110.16 L970,1113.17 L970.5,1116.16 L971,1119.15 L971.5,1122.13 L972,1125.09 L972.5,1128.03 L973,1130.94 L973.5,1133.83 L974,1136.69 L974.5,1139.52 L975,1142.31 L975.5,1145.06 L976,1147.77 L976.5,1150.44 L977,1153.06 L977.5,1155.63 L978,1158.16 L978.5,1160.62 L979,1163.04 L979.5,1165.4 L980,1167.7 L980.5,1169.95 L981,1172.14 L981.5,1174.26 L982,1176.33 L982.5,1178.34 L983,1180.28 L983.5,1182.16 L984,1183.99 L984.5,1185.74 L985,1187.44 L985.5,1189.08 L986,1190.65 L986.5,1192.16 L987,1193.61 L987.5,1195 L988,1196.33 L988.5,1197.61 L989,1198.82 L989.5,1199.96 L990,1201.04 L990.5,1202.07 L991,1203.05 L991.5,1203.98 L992,1204.86 L992.5,1205.7 L993,1206.49 L993.5,1207.24 L994,1207.94 L994.5,1208.6 L995,1209.22 L995.5,1209.81 L996,1210.35 L996.5,1210.86 L997,1211.33 L997.5,1211.77 L998,1212.17 L998.5,1212.54 L999,1212.89 L999.5,1213.2 L1000,1213.48 L1000.5,1213.74 L1001,1213.97 L1001.5,1214.18 L1002,1214.37 L1002.5,1214.53 L1003,1214.67 L1003.5,1214.79 L1004,1214.89 L1004.5,1214.97 L1005,1215.03 L1005.5,1215.08 L1006,1215.11 L1006.5,1215.12 L1007,1215.12 L1007.5,1215.11 L1008,1215.08 L1008.5,1215.05 L1009,1215 L1009.5,1214.94 L1010,1214.87 L1010.5,1214.79 L1011,1214.7 L1011.5,1214.6 L1012,1214.5 L1012.5,1214.38 L1013,1214.26 L1013.5,1214.13 L1014,1214 L1014.5,1213.86 L1015,1213.71 L1015.5,1213.56 L1016,1213.41 L1016.5,1213.25 L1017,1213.09 L1017.5,1212.92 L1018,1212.76 L1018.5,1212.59 L1019,1212.41 L1019.5,1212.24 L1020,1212.06 L1020.5,1211.88 L1021,1211.7 L1021.5,1211.52 L1022,1211.33 L1022.5,1211.14 L1023,1210.95 L1023.5,1210.75 L1024,1210.56 L1024.5,1210.36 L1025,1210.16 L1025.5,1209.95 L1026,1209.74 L1026.5,1209.53 L1027,1209.32 L1027.5,1209.1 L1028,1208.88 L1028.5,1208.65 L1029,1208.42 L1029.5,1208.18 L1030,1207.94 L1030.5,1207.7 L1031,1207.44 L1031.5,1207.19 L1032,1206.92 L1032.5,1206.65 L1033,1206.38 L1033.5,1206.09 L1034,1205.8 L1034.5,1205.5 L1035,1205.19 L1035.5,1204.87 L1036,1204.55 L1036.5,1204.21 L1037,1203.87 L1037.5,1203.51 L1038,1203.15 L1038.5,1202.77 L1039,1202.38 L1039.5,1201.98 L1040,1201.57 L1040.5,1201.15 L1041,1200.71 L1041.5,1200.26 L1042,1199.79 L1042.5,1199.32 L1043,1198.82 L1043.5,1198.32 L1044,1197.79 L1044.5,1197.26 L1045,1196.71 L1045.5,1196.14 L1046,1195.55 L1046.5,1194.95 L1047,1194.33 L1047.5,1193.7 L1048,1193.05 L1048.5,1192.38 L1049,1191.69 L1049.5,1190.99 L1050,1190.27 L1050.5,1189.53 L1051,1188.77 L1051.5,1187.99 L1052,1187.2 L1052.5,1186.38 L1053,1185.55 L1053.5,1184.7 L1054,1183.83 L1054.5,1182.94 L1055,1182.04 L1055.5,1181.11 L1056,1180.17 L1056.5,1179.21 L1057,1178.23 L1057.5,1177.24 L1058,1176.22 L1058.5,1175.19 L1059,1174.15 L1059.5,1173.1 L1060,1172.04 L1060.5,1170.96 L1061,1169.87 L1061.5,1168.77 L1062,1167.65 L1062.5,1166.52 L1063,1165.37 L1063.5,1164.22 L1064,1163.05 L1064.5,1161.87 L1065,1160.68 L1065.5,1159.48 L1066,1158.27 L1066.5,1157.06 L1067,1155.83 L1067.5,1154.59 L1068,1153.35 L1068.5,1152.1 L1069,1150.84 L1069.5,1149.58 L1070,1148.32 L1070.5,1147.04 L1071,1145.77 L1071.5,1144.49 L1072,1143.21 L1072.5,1141.93 L1073,1140.65 L1073.5,1139.37 L1074,1138.09 L1074.5,1136.81 L1075,1135.53 L1075.5,1134.26 L1076,1132.99 L1076.5,1131.73 L1077,1130.47 L1077.5,1129.22 L1078,1127.97 L1078.5,1126.74 L1079,1125.51 L1079.5,1124.29 L1080,1123.09 L1080.5,1121.9 L1081,1120.72 L1081.5,1119.55 L1082,1118.4 L1082.5,1117.26 L1083,1116.14 L1083.5,1115.03 L1084,1113.94 L1084.5,1112.88 L1085,1111.83 L1085.5,1110.8 L1086,1109.79 L1086.5,1108.8 L1087,1107.84 L1087.5,1106.9 L1088,1105.98 L1088.5,1105.09 L1089,1104.23 L1089.5,1103.39 L1090,1102.57 L1090.5,1101.79 L1091,1101.03 L1091.5,1100.3 L1092,1099.6 L1092.5,1098.93 L1093,1098.29 L1093.5,1097.68 L1094,1097.11 L1094.5,1096.56 L1095,1096.05 L1095.5,1095.57 L1096,1095.13 L1096.5,1094.71 L1097,1094.33 L1097.5,1093.99 L1098,1093.68 L1098.5,1093.4 L1099,1093.16 L1099.5,1092.96 L1100,1092.79 L1100.5,1092.66 L1101,1092.56 L1101.5,1092.5 L1102,1092.47 L1102.5,1092.48 L1103,1092.54 L1103.5,1092.67 L1104,1092.88 L1104.5,1093.15 L1105,1093.49 L1105.5,1093.91 L1106,1094.39 L1106.5,1094.94 L1107,1095.55 L1107.5,1096.24 L1108,1096.98 L1108.5,1097.8 L1109,1098.67 L1109.5,1099.61 L1110,1100.61 L1110.5,1101.67 L1111,1102.78 L1111.5,1103.95 L1112,1105.18 L1112.5,1106.46 L1113,1107.79 L1113.5,1109.17 L1114,1110.59 L1114.5,1112.07 L1115,1113.58 L1115.5,1115.14 L1116,1116.74 L1116.5,1118.37 L1117,1120.04 L1117.5,1121.75 L1118,1123.48 L1118.5,1125.25 L1119,1127.04 L1119.5,1128.86 L1120,1130.69 L1120.5,1132.55 L1121,1134.43 L1121.5,1136.33 L1122,1138.23 L1122.5,1140.15 L1123,1142.08 L1123.5,1144.02 L1124,1145.97 L1124.5,1147.91 L1125,1149.86 L1125.5,1151.81 L1126,1153.76 L1126.5,1155.7 L1127,1157.64 L1127.5,1159.57 L1128,1161.5 L1128.5,1163.41 L1129,1165.31 L1129.5,1167.19 L1130,1169.06 L1130.5,1170.92 L1131,1172.75 L1131.5,1174.57 L1132,1176.36 L1132.5,1178.14 L1133,1179.89 L1133.5,1181.62 L1134,1183.32 L1134.5,1185 L1135,1186.65 L1135.5,1188.27 L1136,1189.87 L1136.5,1191.43 L1137,1192.97 L1137.5,1194.48 L1138,1195.96 L1138.5,1197.4 L1139,1198.82 L1139.5,1200.2 L1140,1201.55 L1140.5,1202.88 L1141,1204.16 L1141.5,1205.42 L1142,1206.64 L1142.5,1207.84 L1143,1209 L1143.5,1210.12 L1144,1211.22 L1144.5,1212.28 L1145,1213.32 L1145.5,1214.32 L1146,1215.29 L1146.5,1216.22 L1147,1217.13 L1147.5,1218 L1148,1218.85 L1148.5,1219.68 L1149,1220.48 L1149.5,1221.25 L1150,1221.99 L1150.5,1222.72 L1151,1223.42 L1151.5,1224.09 L1152,1224.74 L1152.5,1225.37 L1153,1225.98 L1153.5,1226.56 L1154,1227.13 L1154.5,1227.67 L1155,1228.2 L1155.5,1228.7 L1156,1229.19 L1156.5,1229.65 L1157,1230.1 L1157.5,1230.54 L1158,1230.95 L1158.5,1231.35 L1159,1231.73 L1159.5,1232.1 L1160,1232.46 L1160.5,1232.8 L1161,1233.12 L1161.5,1233.43 L1162,1233.73 L1162.5,1234.02 L1163,1234.3 L1163.5,1234.56 L1164,1234.82 L1164.5,1235.06 L1165,1235.29 L1165.5,1235.52 L1166,1235.73 L1166.5,1235.93 L1167,1236.13 L1167.5,1236.32 L1168,1236.5 L1168.5,1236.67 L1169,1236.84 L1169.5,1236.99 L1170,1237.15 L1170.5,1237.29 L1171,1237.43 L1171.5,1237.56 L1172,1237.69 L1172.5,1237.81 L1173,1237.93 L1173.5,1238.04 L1174,1238.15 L1174.5,1238.25 L1175,1238.35 L1175.5,1238.44 L1176,1238.53 L1176.5,1238.62 L1177,1238.7 L1177.5,1238.78 L1178,1238.85 L1178.5,1238.92 L1179,1238.99 L1179.5,1239.06 L1180,1239.12 L1180.5,1239.18 L1181,1239.24 L1181.5,1239.29 L1182,1239.34 L1182.5,1239.39 L1183,1239.43 L1183.5,1239.48 L1184,1239.52 L1184.5,1239.56 L1185,1239.59" fill="none" stroke="#007a00" stroke-width="11" stroke-linejoin="round" stroke-linecap="round"/>
<path d="M864,1211 L864.5,1211 L865,1211 L865.5,1211 L866,1211 L866.5,1211 L867,1211 L867.5,1211 L868,1211 L868.5,1211 L869,1211 L869.5,1211 L870,1211 L870.5,1211 L871,1211 L871.5,1211 L872,1211 L872.5,1211 L873,1211 L873.5,1211 L874,1211 L874.5,1211 L875,1211 L875.5,1211 L876,1211 L876.5,1211 L877,1211 L877.5,1211 L878,1211 L878.5,1211 L879,1211 L879.5,1211 L880,1211 L880.5,1211 L881,1211 L881.5,1211 L882,1211 L882.5,1211 L883,1211 L883.5,1211 L884,1211 L884.5,1211 L885,1211 L885.5,1211 L886,1211 L886.5,1211 L887,1211 L887.5,1211 L888,1211 L888.5,1211 L889,1211 L889.5,1211 L890,1211 L890.5,1211 L891,1211 L891.5,1211 L892,1211 L892.5,1211 L893,1211 L893.5,1211 L894,1211 L894.5,1211 L895,1211 L895.5,1211 L896,1211 L896.5,1211 L897,1211 L897.5,1211 L898,1211 L898.5,1211 L899,1211 L899.5,1211 L900,1211 L900.5,1211 L901,1211 L901.5,1211 L902,1211 L902.5,1211 L903,1211 L903.5,1211.03 L904,1211.08 L904.5,1211.12 L905,1211.17 L905.5,1211.23 L906,1211.29 L906.5,1211.35 L907,1211.41 L907.5,1211.48 L908,1211.55 L908.5,1211.62 L909,1211.69 L909.5,1211.77 L910,1211.85 L910.5,1211.93 L911,1212.01 L911.5,1212.1 L912,1212.19 L912.5,1212.27 L913,1212.36 L913.5,1212.45 L914,1212.55 L914.5,1212.64 L915,1212.73 L915.5,1212.83 L916,1212.92 L916.5,1213.02 L917,1213.11 L917.5,1213.21 L918,1213.31 L918.5,1213.4 L919,1213.5 L919.5,1213.59 L920,1213.69 L920.5,1213.78 L921,1213.87 L921.5,1213.96 L922,1214.05 L922.5,1214.14 L923,1214.23 L923.5,1214.32 L924,1214.4 L924.5,1214.49 L925,1214.57 L925.5,1214.65 L926,1214.72 L926.5,1214.8 L927,1214.87 L927.5,1214.94 L928,1215 L928.5,1215.07 L929,1215.13 L929.5,1215.18 L930,1215.24 L930.5,1215.29 L931,1215.33 L931.5,1215.38 L932,1215.42 L932.5,1215.48 L933,1215.55 L933.5,1215.62 L934,1215.7 L934.5,1215.78 L935,1215.87 L935.5,1215.96 L936,1216.05 L936.5,1216.15 L937,1216.26 L937.5,1216.36 L938,1216.47 L938.5,1216.59 L939,1216.71 L939.5,1216.83 L940,1216.95 L940.5,1217.07 L941,1217.2 L941.5,1217.33 L942,1217.46 L942.5,1217.6 L943,1217.73 L943.5,1217.87 L944,1218 L944.5,1218.14 L945,1218.28 L945.5,1218.42 L946,1218.56 L946.5,1218.7 L947,1218.84 L947.5,1218.98 L948,1219.11 L948.5,1219.25 L949,1219.39 L949.5,1219.52 L950,1219.66 L950.5,1219.79 L951,1219.92 L951.5,1220.05 L952,1220.18 L952.5,1220.3 L953,1220.42 L953.5,1220.54 L954,1220.66 L954.5,1220.77 L955,1220.88 L955.5,1220.98 L956,1221.09 L956.5,1221.18 L957,1221.28 L957.5,1221.37 L958,1221.45 L958.5,1221.53 L959,1221.61 L959.5,1221.68 L960,1221.74 L960.5,1221.8 L961,1221.83 L961.5,1221.87 L962,1221.91 L962.5,1221.96 L963,1222.01 L963.5,1222.06 L964,1222.11 L964.5,1222.17 L965,1222.22 L965.5,1222.28 L966,1222.35 L966.5,1222.41 L967,1222.48 L967.5,1222.55 L968,1222.62 L968.5,1222.69 L969,1222.76 L969.5,1222.84 L970,1222.92 L970.5,1222.99 L971,1223.07 L971.5,1223.15 L972,1223.23 L972.5,1223.31 L973,1223.39 L973.5,1223.48 L974,1223.56 L974.5,1223.64 L975,1223.72 L975.5,1223.81 L976,1223.89 L976.5,1223.97 L977,1224.05 L977.5,1224.14 L978,1224.22 L978.5,1224.3 L979,1224.38 L979.5,1224.45 L980,1224.53 L980.5,1224.61 L981,1224.68 L981.5,1224.75 L982,1224.82 L982.5,1224.89 L983,1224.96 L983.5,1225.03 L984,1225.09 L984.5,1225.15 L985,1225.21 L985.5,1225.27 L986,1225.32 L986.5,1225.37 L987,1225.42 L987.5,1225.47 L988,1225.51 L988.5,1225.55 L989,1225.59 L989.5,1225.61 L990,1225.62 L990.5,1225.63 L991,1225.64 L991.5,1225.65 L992,1225.66 L992.5,1225.68 L993,1225.69 L993.5,1225.71 L994,1225.72 L994.5,1225.74 L995,1225.76 L995.5,1225.78 L996,1225.8 L996.5,1225.82 L997,1225.83 L997.5,1225.85 L998,1225.87 L998.5,1225.9 L999,1225.92 L999.5,1225.94 L1000,1225.96 L1000.5,1225.98 L1001,1226 L1001.5,1226.02 L1002,1226.05 L1002.5,1226.07 L1003,1226.09 L1003.5,1226.11 L1004,1226.13 L1004.5,1226.15 L1005,1226.18 L1005.5,1226.2 L1006,1226.22 L1006.5,1226.24 L1007,1226.26 L1007.5,1226.28 L1008,1226.3 L1008.5,1226.32 L1009,1226.33 L1009.5,1226.35 L1010,1226.37 L1010.5,1226.39 L1011,1226.4 L1011.5,1226.42 L1012,1226.43 L1012.5,1226.44 L1013,1226.46 L1013.5,1226.47 L1014,1226.48 L1014.5,1226.49 L1015,1226.5 L1015.5,1226.51 L1016,1226.52 L1016.5,1226.53 L1017,1226.54 L1017.5,1226.55 L1018,1226.57 L1018.5,1226.58 L1019,1226.59 L1019.5,1226.61 L1020,1226.62 L1020.5,1226.64 L1021,1226.65 L1021.5,1226.67 L1022,1226.68 L1022.5,1226.7 L1023,1226.72 L1023.5,1226.73 L1024,1226.75 L1024.5,1226.77 L1025,1226.79 L1025.5,1226.81 L1026,1226.83 L1026.5,1226.85 L1027,1226.87 L1027.5,1226.89 L1028,1226.91 L1028.5,1226.93 L1029,1226.95 L1029.5,1226.97 L1030,1226.99 L1030.5,1227.01 L1031,1227.04 L1031.5,1227.06 L1032,1227.08 L1032.5,1227.1 L1033,1227.12 L1033.5,1227.15 L1034,1227.17 L1034.5,1227.19 L1035,1227.21 L1035.5,1227.24 L1036,1227.26 L1036.5,1227.28 L1037,1227.31 L1037.5,1227.33 L1038,1227.35 L1038.5,1227.37 L1039,1227.4 L1039.5,1227.42 L1040,1227.44 L1040.5,1227.46 L1041,1227.49 L1041.5,1227.51 L1042,1227.53 L1042.5,1227.55 L1043,1227.58 L1043.5,1227.6 L1044,1227.62 L1044.5,1227.64 L1045,1227.66 L1045.5,1227.68 L1046,1227.7 L1046.5,1227.72 L1047,1227.74 L1047.5,1227.76 L1048,1227.78 L1048.5,1227.8 L1049,1227.82 L1049.5,1227.84 L1050,1227.86 L1050.5,1227.87 L1051,1227.89 L1051.5,1227.91 L1052,1227.93 L1052.5,1227.94 L1053,1227.96 L1053.5,1227.97 L1054,1227.99 L1054.5,1228 L1055,1228.01 L1055.5,1228.03 L1056,1228.04 L1056.5,1228.05 L1057,1228.06 L1057.5,1228.08 L1058,1228.09 L1058.5,1228.1 L1059,1228.11 L1059.5,1228.14 L1060,1228.17 L1060.5,1228.2 L1061,1228.23 L1061.5,1228.26 L1062,1228.3 L1062.5,1228.33 L1063,1228.37 L1063.5,1228.41 L1064,1228.45 L1064.5,1228.49 L1065,1228.54 L1065.5,1228.58 L1066,1228.63 L1066.5,1228.67 L1067,1228.72 L1067.5,1228.77 L1068,1228.82 L1068.5,1228.87 L1069,1228.92 L1069.5,1228.97 L1070,1229.03 L1070.5,1229.08 L1071,1229.14 L1071.5,1229.19 L1072,1229.25 L1072.5,1229.31 L1073,1229.36 L1073.5,1229.42 L1074,1229.48 L1074.5,1229.54 L1075,1229.6 L1075.5,1229.66 L1076,1229.72 L1076.5,1229.79 L1077,1229.85 L1077.5,1229.91 L1078,1229.97 L1078.5,1230.03 L1079,1230.1 L1079.5,1230.16 L1080,1230.22 L1080.5,1230.28 L1081,1230.35 L1081.5,1230.41 L1082,1230.47 L1082.5,1230.54 L1083,1230.6 L1083.5,1230.66 L1084,1230.72 L1084.5,1230.78 L1085,1230.85 L1085.5,1230.91 L1086,1230.97 L1086.5,1231.03 L1087,1231.09 L1087.5,1231.15 L1088,1231.21 L1088.5,1231.26 L1089,1231.32 L1089.5,1231.38 L1090,1231.44 L1090.5,1231.49 L1091,1231.55 L1091.5,1231.6 L1092,1231.65 L1092.5,1231.7 L1093,1231.76 L1093.5,1231.81 L1094,1231.86 L1094.5,1231.9 L1095,1231.95 L1095.5,1232 L1096,1232.04 L1096.5,1232.09 L1097,1232.13 L1097.5,1232.17 L1098,1232.21 L1098.5,1232.25 L1099,1232.28 L1099.5,1232.32 L1100,1232.35 L1100.5,1232.39 L1101,1232.42 L1101.5,1232.45 L1102,1232.47 L1102.5,1232.5 L1103,1232.53 L1103.5,1232.55 L1104,1232.58 L1104.5,1232.61 L1105,1232.65 L1105.5,1232.68 L1106,1232.72 L1106.5,1232.75 L1107,1232.79 L1107.5,1232.83 L1108,1232.87 L1108.5,1232.91 L1109,1232.96 L1109.5,1233 L1110,1233.05 L1110.5,1233.1 L1111,1233.14 L1111.5,1233.19 L1112,1233.24 L1112.5,1233.3 L1113,1233.35 L1113.5,1233.4 L1114,1233.45 L1114.5,1233.51 L1115,1233.56 L1115.5,1233.62 L1116,1233.68 L1116.5,1233.74 L1117,1233.79 L1117.5,1233.85 L1118,1233.91 L1118.5,1233.97 L1119,1234.03 L1119.5,1234.09 L1120,1234.15 L1120.5,1234.22 L1121,1234.28 L1121.5,1234.34 L1122,1234.4 L1122.5,1234.46 L1123,1234.53 L1123.5,1234.59 L1124,1234.65 L1124.5,1234.72 L1125,1234.78 L1125.5,1234.84 L1126,1234.9 L1126.5,1234.97 L1127,1235.03 L1127.5,1235.09 L1128,1235.15 L1128.5,1235.21 L1129,1235.28 L1129.5,1235.34 L1130,1235.4 L1130.5,1235.46 L1131,1235.52 L1131.5,1235.58 L1132,1235.64 L1132.5,1235.69 L1133,1235.75 L1133.5,1235.81 L1134,1235.86 L1134.5,1235.92 L1135,1235.97 L1135.5,1236.03 L1136,1236.08 L1136.5,1236.13 L1137,1236.18 L1137.5,1236.23 L1138,1236.28 L1138.5,1236.33 L1139,1236.37 L1139.5,1236.42 L1140,1236.46 L1140.5,1236.51 L1141,1236.55 L1141.5,1236.59 L1142,1236.63 L1142.5,1236.67 L1143,1236.7 L1143.5,1236.74 L1144,1236.77 L1144.5,1236.8 L1145,1236.83 L1145.5,1236.86 L1146,1236.89 L1146.5,1236.91 L1147,1236.93 L1147.5,1236.95 L1148,1236.97 L1148.5,1237 L1149,1237.02 L1149.5,1237.05 L1150,1237.07 L1150.5,1237.1 L1151,1237.13 L1151.5,1237.16 L1152,1237.19 L1152.5,1237.22 L1153,1237.26 L1153.5,1237.29 L1154,1237.33 L1154.5,1237.36 L1155,1237.4 L1155.5,1237.44 L1156,1237.47 L1156.5,1237.51 L1157,1237.55 L1157.5,1237.59 L1158,1237.63 L1158.5,1237.68 L1159,1237.72 L1159.5,1237.76 L1160,1237.8 L1160.5,1237.85 L1161,1237.89 L1161.5,1237.93 L1162,1237.98 L1162.5,1238.02 L1163,1238.07 L1163.5,1238.11 L1164,1238.16 L1164.5,1238.2 L1165,1238.25 L1165.5,1238.29 L1166,1238.34 L1166.5,1238.38 L1167,1238.43 L1167.5,1238.48 L1168,1238.52 L1168.5,1238.57 L1169,1238.61 L1169.5,1238.66 L1170,1238.7 L1170.5,1238.75 L1171,1238.79 L1171.5,1238.83 L1172,1238.88 L1172.5,1238.92 L1173,1238.96 L1173.5,1239 L1174,1239.05 L1174.5,1239.09 L1175,1239.13 L1175.5,1239.17 L1176,1239.21 L1176.5,1239.24 L1177,1239.28 L1177.5,1239.32 L1178,1239.36 L1178.5,1239.39 L1179,1239.43 L1179.5,1239.46 L1180,1239.49 L1180.5,1239.52 L1181,1239.55 L1181.5,1239.58 L1182,1239.61 L1182.5,1239.64 L1183,1239.67 L1183.5,1239.69 L1184,1239.72 L1184.5,1239.74 L1185,1239.76" fill="none" stroke="#007a00" stroke-width="8.5" stroke-linejoin="round" stroke-linecap="round"/>
<path d="M880.5,1210.16 L881,1210.07 L881.5,1209.97 L882,1209.85 L882.5,1209.73 L883,1209.6 L883.5,1209.45 L884,1209.29 L884.5,1209.11 L885,1208.92 L885.5,1208.71 L886,1208.49 L886.5,1208.24 L887,1207.98 L887.5,1207.69 L888,1207.38 L888.5,1207.05 L889,1206.69 L889.5,1206.3 L890,1205.89 L890.5,1205.44 L891,1204.97 L891.5,1204.46 L892,1203.91 L892.5,1203.34 L893,1202.72 L893.5,1202.06 L894,1201.37 L894.5,1200.63 L895,1199.85 L895.5,1199.02 L896,1198.15 L896.5,1197.23 L897,1196.26 L897.5,1195.24 L898,1194.18 L898.5,1193.06 L899,1191.89 L899.5,1190.67 L900,1189.4 L900.5,1188.07 L901,1186.69 L901.5,1185.26 L902,1183.78 L902.5,1182.24 L903,1180.66 L903.5,1179.06 L904,1177.42 L904.5,1175.74 L905,1174.02 L905.5,1172.26 L906,1170.46 L906.5,1168.63 L907,1166.77 L907.5,1164.87 L908,1162.96 L908.5,1161.02 L909,1159.06 L909.5,1157.09 L910,1155.11 L910.5,1153.13 L911,1151.14 L911.5,1149.16 L912,1147.18 L912.5,1145.22 L913,1143.28 L913.5,1141.36 L914,1139.47 L914.5,1137.62 L915,1135.81 L915.5,1134.04 L916,1132.33 L916.5,1130.67 L917,1129.07 L917.5,1127.55 L918,1126.09 L918.5,1124.71 L919,1123.41 L919.5,1122.2 L920,1121.08 L920.5,1120.06 L921,1119.13 L921.5,1118.31 L922,1117.59 L922.5,1116.97 L923,1116.47 L923.5,1116.08 L924,1115.8 L924.5,1115.64 L925,1115.59 L925.5,1115.66 L926,1115.84 L926.5,1116.13 L927,1116.55 L927.5,1117.07 L928,1117.7 L928.5,1118.45 L929,1119.3 L929.5,1120.25 L930,1121.3 L930.5,1122.45 L931,1123.69 L931.5,1125.03 L932,1126.45 L932.5,1127.97 L933,1129.57 L933.5,1131.25 L934,1133.01 L934.5,1134.83 L935,1136.72 L935.5,1138.66 L936,1140.65 L936.5,1142.69 L937,1144.77 L937.5,1146.88 L938,1149.01 L938.5,1151.17 L939,1153.35 L939.5,1155.54 L940,1157.73 L940.5,1159.92 L941,1162.11 L941.5,1164.29 L942,1166.46 L942.5,1168.61 L943,1170.73 L943.5,1172.83 L944,1174.9 L944.5,1176.94 L945,1178.94 L945.5,1180.9 L946,1182.82 L946.5,1184.7 L947,1186.53 L947.5,1188.31 L948,1190.04 L948.5,1191.73 L949,1193.36 L949.5,1194.93 L950,1196.46 L950.5,1197.92 L951,1199.34 L951.5,1200.7 L952,1202.01 L952.5,1203.26 L953,1204.46 L953.5,1205.6 L954,1206.7 L954.5,1207.74 L955,1208.73 L955.5,1209.67 L956,1210.56 L956.5,1211.41 L957,1212.2 L957.5,1212.96 L958,1213.67 L958.5,1214.33 L959,1214.96 L959.5,1215.54 L960,1216.09 L960.5,1216.6 L961,1217.06 L961.5,1217.49 L962,1217.89 L962.5,1218.27 L963,1218.64 L963.5,1218.98 L964,1219.3 L964.5,1219.6 L965,1219.89 L965.5,1220.16 L966,1220.42 L966.5,1220.66 L967,1220.89 L967.5,1221.11 L968,1221.32 L968.5,1221.52 L969,1221.71 L969.5,1221.89 L970,1222.06" fill="none" stroke="#ff8000" stroke-width="4.0" stroke-linejoin="round" stroke-linecap="round"/>
<path d="M907.5,1210.09 L908,1210.03 L908.5,1209.95 L909,1209.86 L909.5,1209.76 L910,1209.65 L910.5,1209.53 L911,1209.39 L911.5,1209.23 L912,1209.06 L912.5,1208.87 L913,1208.65 L913.5,1208.42 L914,1208.16 L914.5,1207.88 L915,1207.57 L915.5,1207.24 L916,1206.87 L916.5,1206.48 L917,1206.05 L917.5,1205.58 L918,1205.08 L918.5,1204.54 L919,1203.96 L919.5,1203.34 L920,1202.67 L920.5,1201.96 L921,1201.2 L921.5,1200.39 L922,1199.53 L922.5,1198.62 L923,1197.65 L923.5,1196.62 L924,1195.54 L924.5,1194.4 L925,1193.19 L925.5,1191.93 L926,1190.59 L926.5,1189.2 L927,1187.74 L927.5,1186.21 L928,1184.61 L928.5,1182.94 L929,1181.21 L929.5,1179.4 L930,1177.53 L930.5,1175.58 L931,1173.57 L931.5,1171.49 L932,1169.34 L932.5,1167.15 L933,1164.9 L933.5,1162.6 L934,1160.25 L934.5,1157.84 L935,1155.38 L935.5,1152.88 L936,1150.33 L936.5,1147.74 L937,1145.11 L937.5,1142.45 L938,1139.75 L938.5,1137.03 L939,1134.29 L939.5,1131.52 L940,1128.74 L940.5,1125.96 L941,1123.17 L941.5,1120.38 L942,1117.59 L942.5,1114.82 L943,1112.07 L943.5,1109.34 L944,1106.63 L944.5,1103.97 L945,1101.34 L945.5,1098.77 L946,1096.25 L946.5,1093.78 L947,1091.39 L947.5,1089.06 L948,1086.81 L948.5,1084.65 L949,1082.58 L949.5,1080.6 L950,1078.72 L950.5,1076.95 L951,1075.28 L951.5,1073.73 L952,1072.31 L952.5,1071 L953,1069.82 L953.5,1068.77 L954,1067.86 L954.5,1067.08 L955,1066.44 L955.5,1065.94 L956,1065.59 L956.5,1065.37 L957,1065.31 L957.5,1065.38 L958,1065.6 L958.5,1065.96 L959,1066.46 L959.5,1067.11 L960,1067.89 L960.5,1068.81 L961,1069.85 L961.5,1071.03 L962,1072.34 L962.5,1073.79 L963,1075.37 L963.5,1077.07 L964,1078.9 L964.5,1080.84 L965,1082.89 L965.5,1085.04 L966,1087.3 L966.5,1089.64 L967,1092.08 L967.5,1094.6 L968,1097.19 L968.5,1099.85 L969,1102.58 L969.5,1105.36 L970,1108.19 L970.5,1111.06 L971,1113.97 L971.5,1116.91 L972,1119.88 L972.5,1122.86 L973,1125.86 L973.5,1128.86 L974,1131.86 L974.5,1134.86 L975,1137.84 L975.5,1140.81 L976,1143.76 L976.5,1146.69 L977,1149.58 L977.5,1152.44 L978,1155.26 L978.5,1158.04 L979,1160.77 L979.5,1163.45 L980,1166.08 L980.5,1168.66 L981,1171.18 L981.5,1173.64 L982,1176.04 L982.5,1178.37 L983,1180.64 L983.5,1182.84 L984,1184.98 L984.5,1187.05 L985,1189.05 L985.5,1190.98 L986,1192.84 L986.5,1194.64 L987,1196.36 L987.5,1198.02 L988,1199.61 L988.5,1201.13 L989,1202.59 L989.5,1203.97 L990,1205.27 L990.5,1206.52 L991,1207.71 L991.5,1208.85 L992,1209.93 L992.5,1210.96 L993,1211.93 L993.5,1212.86 L994,1213.74 L994.5,1214.57 L995,1215.36 L995.5,1216.1 L996,1216.8 L996.5,1217.47 L997,1218.09 L997.5,1218.68 L998,1219.23 L998.5,1219.75 L999,1220.24 L999.5,1220.69 L1000,1221.12 L1000.5,1221.52 L1001,1221.9 L1001.5,1222.25 L1002,1222.58 L1002.5,1222.89 L1003,1223.17 L1003.5,1223.44 L1004,1223.69 L1004.5,1223.92 L1005,1224.13 L1005.5,1224.33 L1006,1224.52 L1006.5,1224.69 L1007,1224.85 L1007.5,1224.99" fill="none" stroke="#ff8000" stroke-width="4.0" stroke-linejoin="round" stroke-linecap="round"/>
<path d="M994,1225.66 L994.5,1225.67 L995,1225.68 L995.5,1225.69 L996,1225.7 L996.5,1225.7 L997,1225.71 L997.5,1225.71 L998,1225.72 L998.5,1225.72 L999,1225.72 L999.5,1225.71 L1000,1225.71 L1000.5,1225.7 L1001,1225.69 L1001.5,1225.68 L1002,1225.67 L1002.5,1225.65 L1003,1225.63 L1003.5,1225.6 L1004,1225.58 L1004.5,1225.54 L1005,1225.51 L1005.5,1225.46 L1006,1225.42 L1006.5,1225.37 L1007,1225.31 L1007.5,1225.25 L1008,1225.18 L1008.5,1225.11 L1009,1225.03 L1009.5,1224.95 L1010,1224.85 L1010.5,1224.76 L1011,1224.66 L1011.5,1224.55 L1012,1224.43 L1012.5,1224.31 L1013,1224.18 L1013.5,1224.05 L1014,1223.91 L1014.5,1223.77 L1015,1223.62 L1015.5,1223.47 L1016,1223.31 L1016.5,1223.16 L1017,1223 L1017.5,1222.84 L1018,1222.67 L1018.5,1222.51 L1019,1222.35 L1019.5,1222.18 L1020,1222.02 L1020.5,1221.86 L1021,1221.7 L1021.5,1221.55 L1022,1221.4 L1022.5,1221.25 L1023,1221.11 L1023.5,1220.98 L1024,1220.85 L1024.5,1220.73 L1025,1220.61 L1025.5,1220.51 L1026,1220.41 L1026.5,1220.32 L1027,1220.25 L1027.5,1220.18 L1028,1220.12 L1028.5,1220.08 L1029,1220.05 L1029.5,1220.02 L1030,1220.02 L1030.5,1220.02 L1031,1220.04 L1031.5,1220.06 L1032,1220.1 L1032.5,1220.16 L1033,1220.22 L1033.5,1220.3 L1034,1220.38 L1034.5,1220.48 L1035,1220.59 L1035.5,1220.71 L1036,1220.84 L1036.5,1220.98 L1037,1221.13 L1037.5,1221.28 L1038,1221.45 L1038.5,1221.62 L1039,1221.79 L1039.5,1221.97 L1040,1222.16 L1040.5,1222.35 L1041,1222.54 L1041.5,1222.74 L1042,1222.93 L1042.5,1223.13 L1043,1223.33 L1043.5,1223.53 L1044,1223.73 L1044.5,1223.92 L1045,1224.12 L1045.5,1224.31 L1046,1224.5 L1046.5,1224.68 L1047,1224.87 L1047.5,1225.04 L1048,1225.22 L1048.5,1225.38 L1049,1225.55 L1049.5,1225.71 L1050,1225.86 L1050.5,1226.01 L1051,1226.15 L1051.5,1226.28 L1052,1226.41 L1052.5,1226.54 L1053,1226.65 L1053.5,1226.77 L1054,1226.87 L1054.5,1226.97 L1055,1227.07 L1055.5,1227.16 L1056,1227.24 L1056.5,1227.32 L1057,1227.39 L1057.5,1227.46 L1058,1227.53 L1058.5,1227.59 L1059,1227.65 L1059.5,1227.72 L1060,1227.79 L1060.5,1227.86 L1061,1227.92 L1061.5,1227.99 L1062,1228.05 L1062.5,1228.11 L1063,1228.17 L1063.5,1228.23 L1064,1228.29 L1064.5,1228.35 L1065,1228.41 L1065.5,1228.47 L1066,1228.53 L1066.5,1228.58 L1067,1228.64 L1067.5,1228.7 L1068,1228.76" fill="none" stroke="#0000ff" stroke-width="4.0" stroke-linejoin="round" stroke-linecap="round"/>
<path d="M1018.5,1226.43 L1019,1226.42 L1019.5,1226.42 L1020,1226.41 L1020.5,1226.4 L1021,1226.39 L1021.5,1226.37 L1022,1226.35 L1022.5,1226.33 L1023,1226.31 L1023.5,1226.28 L1024,1226.25 L1024.5,1226.21 L1025,1226.17 L1025.5,1226.12 L1026,1226.07 L1026.5,1226.02 L1027,1225.95 L1027.5,1225.89 L1028,1225.81 L1028.5,1225.73 L1029,1225.64 L1029.5,1225.54 L1030,1225.43 L1030.5,1225.32 L1031,1225.19 L1031.5,1225.06 L1032,1224.91 L1032.5,1224.76 L1033,1224.59 L1033.5,1224.42 L1034,1224.23 L1034.5,1224.03 L1035,1223.82 L1035.5,1223.6 L1036,1223.37 L1036.5,1223.12 L1037,1222.87 L1037.5,1222.6 L1038,1222.32 L1038.5,1222.02 L1039,1221.72 L1039.5,1221.41 L1040,1221.08 L1040.5,1220.75 L1041,1220.4 L1041.5,1220.05 L1042,1219.68 L1042.5,1219.31 L1043,1218.94 L1043.5,1218.55 L1044,1218.16 L1044.5,1217.77 L1045,1217.37 L1045.5,1216.97 L1046,1216.58 L1046.5,1216.18 L1047,1215.78 L1047.5,1215.38 L1048,1214.99 L1048.5,1214.61 L1049,1214.23 L1049.5,1213.86 L1050,1213.51 L1050.5,1213.16 L1051,1212.82 L1051.5,1212.5 L1052,1212.2 L1052.5,1211.91 L1053,1211.63 L1053.5,1211.38 L1054,1211.15 L1054.5,1210.94 L1055,1210.75 L1055.5,1210.58 L1056,1210.44 L1056.5,1210.32 L1057,1210.23 L1057.5,1210.16 L1058,1210.12 L1058.5,1210.1 L1059,1210.12 L1059.5,1210.17 L1060,1210.25 L1060.5,1210.36 L1061,1210.5 L1061.5,1210.66 L1062,1210.85 L1062.5,1211.07 L1063,1211.31 L1063.5,1211.57 L1064,1211.86 L1064.5,1212.17 L1065,1212.5 L1065.5,1212.85 L1066,1213.22 L1066.5,1213.6 L1067,1214 L1067.5,1214.42 L1068,1214.84 L1068.5,1215.28 L1069,1215.73 L1069.5,1216.19 L1070,1216.65 L1070.5,1217.12 L1071,1217.59 L1071.5,1218.07 L1072,1218.54 L1072.5,1219.02 L1073,1219.49 L1073.5,1219.97 L1074,1220.44 L1074.5,1220.9 L1075,1221.36 L1075.5,1221.81 L1076,1222.26 L1076.5,1222.7 L1077,1223.13 L1077.5,1223.55 L1078,1223.96 L1078.5,1224.36 L1079,1224.75 L1079.5,1225.12 L1080,1225.49 L1080.5,1225.84 L1081,1226.19 L1081.5,1226.52 L1082,1226.84 L1082.5,1227.14 L1083,1227.44 L1083.5,1227.72 L1084,1227.99 L1084.5,1228.25 L1085,1228.5 L1085.5,1228.74 L1086,1228.97 L1086.5,1229.18 L1087,1229.39 L1087.5,1229.59 L1088,1229.77 L1088.5,1229.95 L1089,1230.12 L1089.5,1230.28 L1090,1230.43 L1090.5,1230.58 L1091,1230.72 L1091.5,1230.85 L1092,1230.97 L1092.5,1231.09 L1093,1231.2 L1093.5,1231.3 L1094,1231.4 L1094.5,1231.49 L1095,1231.58 L1095.5,1231.67 L1096,1231.75 L1096.5,1231.82 L1097,1231.89 L1097.5,1231.96 L1098,1232.02 L1098.5,1232.08 L1099,1232.13" fill="none" stroke="#0000ff" stroke-width="4.0" stroke-linejoin="round" stroke-linecap="round"/>
<path d="M1048,1227.18 L1048.5,1227.13 L1049,1227.07 L1049.5,1227 L1050,1226.92 L1050.5,1226.84 L1051,1226.74 L1051.5,1226.63 L1052,1226.5 L1052.5,1226.37 L1053,1226.22 L1053.5,1226.05 L1054,1225.87 L1054.5,1225.67 L1055,1225.45 L1055.5,1225.21 L1056,1224.95 L1056.5,1224.67 L1057,1224.36 L1057.5,1224.03 L1058,1223.67 L1058.5,1223.29 L1059,1222.88 L1059.5,1222.46 L1060,1222.01 L1060.5,1221.52 L1061,1221.01 L1061.5,1220.46 L1062,1219.88 L1062.5,1219.27 L1063,1218.62 L1063.5,1217.93 L1064,1217.21 L1064.5,1216.45 L1065,1215.65 L1065.5,1214.81 L1066,1213.93 L1066.5,1213.01 L1067,1212.06 L1067.5,1211.06 L1068,1210.03 L1068.5,1208.96 L1069,1207.85 L1069.5,1206.7 L1070,1205.52 L1070.5,1204.31 L1071,1203.07 L1071.5,1201.79 L1072,1200.49 L1072.5,1199.16 L1073,1197.81 L1073.5,1196.44 L1074,1195.05 L1074.5,1193.65 L1075,1192.24 L1075.5,1190.82 L1076,1189.4 L1076.5,1187.98 L1077,1186.56 L1077.5,1185.16 L1078,1183.76 L1078.5,1182.39 L1079,1181.04 L1079.5,1179.72 L1080,1178.43 L1080.5,1177.18 L1081,1175.96 L1081.5,1174.8 L1082,1173.68 L1082.5,1172.62 L1083,1171.61 L1083.5,1170.67 L1084,1169.8 L1084.5,1168.99 L1085,1168.26 L1085.5,1167.6 L1086,1167.03 L1086.5,1166.53 L1087,1166.12 L1087.5,1165.8 L1088,1165.56 L1088.5,1165.41 L1089,1165.35 L1089.5,1165.38 L1090,1165.49 L1090.5,1165.67 L1091,1165.92 L1091.5,1166.24 L1092,1166.64 L1092.5,1167.1 L1093,1167.63 L1093.5,1168.23 L1094,1168.89 L1094.5,1169.61 L1095,1170.39 L1095.5,1171.23 L1096,1172.13 L1096.5,1173.08 L1097,1174.08 L1097.5,1175.12 L1098,1176.21 L1098.5,1177.34 L1099,1178.51 L1099.5,1179.71 L1100,1180.94 L1100.5,1182.19 L1101,1183.48 L1101.5,1184.78 L1102,1186.09 L1102.5,1187.43 L1103,1188.77 L1103.5,1190.12 L1104,1191.48 L1104.5,1192.85 L1105,1194.22 L1105.5,1195.58 L1106,1196.94 L1106.5,1198.29 L1107,1199.63 L1107.5,1200.96 L1108,1202.28 L1108.5,1203.57 L1109,1204.85 L1109.5,1206.11 L1110,1207.35 L1110.5,1208.56 L1111,1209.74 L1111.5,1210.9 L1112,1212.03 L1112.5,1213.13 L1113,1214.2 L1113.5,1215.25 L1114,1216.26 L1114.5,1217.23 L1115,1218.18 L1115.5,1219.1 L1116,1219.98 L1116.5,1220.83 L1117,1221.65 L1117.5,1222.44 L1118,1223.19 L1118.5,1223.92 L1119,1224.61 L1119.5,1225.28 L1120,1225.92 L1120.5,1226.52 L1121,1227.1 L1121.5,1227.65 L1122,1228.18 L1122.5,1228.68 L1123,1229.16 L1123.5,1229.61 L1124,1230.04 L1124.5,1230.44 L1125,1230.83 L1125.5,1231.2 L1126,1231.54 L1126.5,1231.87 L1127,1232.18 L1127.5,1232.47 L1128,1232.75 L1128.5,1233.01 L1129,1233.25 L1129.5,1233.49 L1130,1233.7 L1130.5,1233.91 L1131,1234.11 L1131.5,1234.29 L1132,1234.47 L1132.5,1234.63 L1133,1234.78 L1133.5,1234.93 L1134,1235.07 L1134.5,1235.2 L1135,1235.32 L1135.5,1235.44" fill="none" stroke="#ff0000" stroke-width="4.0" stroke-linejoin="round" stroke-linecap="round"/>
<path d="M1073,1228.5 L1073.5,1228.45 L1074,1228.39 L1074.5,1228.31 L1075,1228.21 L1075.5,1228.11 L1076,1227.98 L1076.5,1227.83 L1077,1227.67 L1077.5,1227.48 L1078,1227.27 L1078.5,1227.03 L1079,1226.76 L1079.5,1226.46 L1080,1226.14 L1080.5,1225.77 L1081,1225.37 L1081.5,1224.93 L1082,1224.45 L1082.5,1223.93 L1083,1223.36 L1083.5,1222.75 L1084,1222.08 L1084.5,1221.36 L1085,1220.59 L1085.5,1219.76 L1086,1218.88 L1086.5,1217.93 L1087,1216.92 L1087.5,1215.85 L1088,1214.72 L1088.5,1213.51 L1089,1212.25 L1089.5,1210.91 L1090,1209.51 L1090.5,1208.04 L1091,1206.51 L1091.5,1204.91 L1092,1203.24 L1092.5,1201.51 L1093,1199.72 L1093.5,1197.87 L1094,1195.97 L1094.5,1194.01 L1095,1192 L1095.5,1189.95 L1096,1187.86 L1096.5,1185.73 L1097,1183.57 L1097.5,1181.38 L1098,1179.18 L1098.5,1176.97 L1099,1174.75 L1099.5,1172.53 L1100,1170.32 L1100.5,1168.13 L1101,1165.97 L1101.5,1163.84 L1102,1161.75 L1102.5,1159.71 L1103,1157.73 L1103.5,1155.82 L1104,1153.98 L1104.5,1152.23 L1105,1150.57 L1105.5,1149.02 L1106,1147.57 L1106.5,1146.23 L1107,1145.01 L1107.5,1143.92 L1108,1142.96 L1108.5,1142.14 L1109,1141.45 L1109.5,1140.91 L1110,1140.51 L1110.5,1140.26 L1111,1140.16 L1111.5,1140.2 L1112,1140.34 L1112.5,1140.56 L1113,1140.87 L1113.5,1141.26 L1114,1141.74 L1114.5,1142.3 L1115,1142.94 L1115.5,1143.66 L1116,1144.45 L1116.5,1145.33 L1117,1146.27 L1117.5,1147.29 L1118,1148.38 L1118.5,1149.53 L1119,1150.75 L1119.5,1152.02 L1120,1153.35 L1120.5,1154.74 L1121,1156.18 L1121.5,1157.66 L1122,1159.19 L1122.5,1160.75 L1123,1162.36 L1123.5,1163.99 L1124,1165.66 L1124.5,1167.35 L1125,1169.06 L1125.5,1170.79 L1126,1172.54 L1126.5,1174.29 L1127,1176.06 L1127.5,1177.83 L1128,1179.6 L1128.5,1181.37 L1129,1183.13 L1129.5,1184.89 L1130,1186.64 L1130.5,1188.37 L1131,1190.08 L1131.5,1191.78 L1132,1193.46 L1132.5,1195.11 L1133,1196.74 L1133.5,1198.34 L1134,1199.92 L1134.5,1201.46 L1135,1202.97 L1135.5,1204.44 L1136,1205.89 L1136.5,1207.29 L1137,1208.66 L1137.5,1210 L1138,1211.29 L1138.5,1212.55 L1139,1213.77 L1139.5,1214.94 L1140,1216.08 L1140.5,1217.18 L1141,1218.24 L1141.5,1219.27 L1142,1220.25 L1142.5,1221.19 L1143,1222.1 L1143.5,1222.97 L1144,1223.8 L1144.5,1224.59 L1145,1225.35 L1145.5,1226.07 L1146,1226.76 L1146.5,1227.42 L1147,1228.03 L1147.5,1228.62 L1148,1229.19 L1148.5,1229.72 L1149,1230.23 L1149.5,1230.71 L1150,1231.17 L1150.5,1231.61 L1151,1232.02 L1151.5,1232.41 L1152,1232.79 L1152.5,1233.14 L1153,1233.47 L1153.5,1233.79 L1154,1234.08 L1154.5,1234.37 L1155,1234.63 L1155.5,1234.89 L1156,1235.12 L1156.5,1235.35 L1157,1235.56 L1157.5,1235.76 L1158,1235.95 L1158.5,1236.13 L1159,1236.3 L1159.5,1236.47 L1160,1236.62 L1160.5,1236.76 L1161,1236.9 L1161.5,1237.03 L1162,1237.16" fill="none" stroke="#ff0000" stroke-width="4.0" stroke-linejoin="round" stroke-linecap="round"/>
<line x1="863" y1="940.7" x2="1186" y2="940.7" stroke="#000" stroke-width="1.5" />
<line x1="863" y1="1295.5" x2="1186" y2="1295.5" stroke="#000" stroke-width="1.5" />
<line x1="863" y1="940.7" x2="863" y2="1295.5" stroke="#000" stroke-width="1.5" />
<line x1="1186" y1="940.7" x2="1186" y2="1295.5" stroke="#000" stroke-width="1.5" />
<line x1="1185.42" y1="1295.5" x2="1185.42" y2="1303.5" stroke="#000" stroke-width="1.4" />
<text x="1185.42" y="1324" font-size="17.5" text-anchor="middle" fill="#000" font-weight="normal" >158</text>
<line x1="1163.94" y1="1295.5" x2="1163.94" y2="1299.5" stroke="#000" stroke-width="1.4" />
<line x1="1142.46" y1="1295.5" x2="1142.46" y2="1303.5" stroke="#000" stroke-width="1.4" />
<text x="1142.46" y="1324" font-size="17.5" text-anchor="middle" fill="#000" font-weight="normal" >160</text>
<line x1="1120.98" y1="1295.5" x2="1120.98" y2="1299.5" stroke="#000" stroke-width="1.4" />
<line x1="1099.5" y1="1295.5" x2="1099.5" y2="1303.5" stroke="#000" stroke-width="1.4" />
<text x="1099.5" y="1324" font-size="17.5" text-anchor="middle" fill="#000" font-weight="normal" >162</text>
<line x1="1078.02" y1="1295.5" x2="1078.02" y2="1299.5" stroke="#000" stroke-width="1.4" />
<line x1="1056.54" y1="1295.5" x2="1056.54" y2="1303.5" stroke="#000" stroke-width="1.4" />
<text x="1056.54" y="1324" font-size="17.5" text-anchor="middle" fill="#000" font-weight="normal" >164</text>
<line x1="1035.06" y1="1295.5" x2="1035.06" y2="1299.5" stroke="#000" stroke-width="1.4" />
<line x1="1013.58" y1="1295.5" x2="1013.58" y2="1303.5" stroke="#000" stroke-width="1.4" />
<text x="1013.58" y="1324" font-size="17.5" text-anchor="middle" fill="#000" font-weight="normal" >166</text>
<line x1="992.1" y1="1295.5" x2="992.1" y2="1299.5" stroke="#000" stroke-width="1.4" />
<line x1="970.62" y1="1295.5" x2="970.62" y2="1303.5" stroke="#000" stroke-width="1.4" />
<text x="970.62" y="1324" font-size="17.5" text-anchor="middle" fill="#000" font-weight="normal" >168</text>
<line x1="949.14" y1="1295.5" x2="949.14" y2="1299.5" stroke="#000" stroke-width="1.4" />
<line x1="927.66" y1="1295.5" x2="927.66" y2="1303.5" stroke="#000" stroke-width="1.4" />
<text x="927.66" y="1324" font-size="17.5" text-anchor="middle" fill="#000" font-weight="normal" >170</text>
<line x1="906.18" y1="1295.5" x2="906.18" y2="1299.5" stroke="#000" stroke-width="1.4" />
<line x1="884.7" y1="1295.5" x2="884.7" y2="1303.5" stroke="#000" stroke-width="1.4" />
<text x="884.7" y="1324" font-size="17.5" text-anchor="middle" fill="#000" font-weight="normal" >172</text>
<line x1="863.22" y1="1295.5" x2="863.22" y2="1299.5" stroke="#000" stroke-width="1.4" />
<line x1="922.5" y1="1112" x2="904.56" y2="1047.9" stroke="#000" stroke-width="0.9" />
<polygon points="902.4,1040.2 907.52,1048.11 902.13,1049.62" fill="#000"/>
<line x1="953.3" y1="1064.6" x2="924.92" y2="1039.77" stroke="#000" stroke-width="0.9" />
<polygon points="918.9,1034.5 927.52,1038.32 923.83,1042.53" fill="#000"/>
<line x1="1034" y1="1217.2" x2="1022.73" y2="1171.76" stroke="#000" stroke-width="0.9" />
<polygon points="1020.8,1164 1025.68,1172.06 1020.25,1173.41" fill="#000"/>
<line x1="1057.3" y1="1209.2" x2="1032.34" y2="1169.28" stroke="#000" stroke-width="0.9" />
<polygon points="1028.1,1162.5 1035.25,1168.65 1030.5,1171.62" fill="#000"/>
<line x1="1088.6" y1="1161" x2="1120.87" y2="1095.28" stroke="#000" stroke-width="0.9" />
<polygon points="1124.4,1088.1 1122.95,1097.41 1117.92,1094.94" fill="#000"/>
<line x1="1112.7" y1="1137.7" x2="1126.83" y2="1097.84" stroke="#000" stroke-width="0.9" />
<polygon points="1129.5,1090.3 1129.13,1099.72 1123.85,1097.85" fill="#000"/>
<text x="873.6" y="1030.2" font-size="15.5" text-anchor="start" fill="#ff8000" font-weight="normal" >-SO<tspan font-size="9.61" dy="3.1">2</tspan><tspan dy="-3.1">​</tspan>-F</text>
<text x="1013" y="1158.1" font-size="16" text-anchor="start" fill="#0000ff" font-weight="normal" >S<tspan font-size="9.92" dy="-6.08">0</tspan></text>
<text x="1104" y="1078.6" font-size="16" text-anchor="start" fill="#ff0000" font-weight="normal" >S<tspan font-size="9.92" dy="-6.08">2−</tspan><tspan dy="6.08"> (Sb</tspan><tspan font-size="9.92" dy="3.2">2</tspan><tspan dy="-3.2">​</tspan>S<tspan font-size="9.92" dy="3.2">3</tspan><tspan dy="-3.2">​</tspan>)</text>
<text x="900.9" y="1250.5" font-size="15.5" text-anchor="start" fill="#000" font-weight="normal" >2p<tspan font-size="10.23" dy="4.34">1/2</tspan></text>
<text x="950.5" y="1247" font-size="15.5" text-anchor="start" fill="#000" font-weight="normal" >2p<tspan font-size="10.23" dy="4.34">3/2</tspan></text>
<text x="1017.2" y="1251.5" font-size="15.5" text-anchor="start" fill="#000" font-weight="normal" >2p<tspan font-size="10.23" dy="4.34">1/2</tspan></text>
<text x="1053.6" y="1251.5" font-size="15.5" text-anchor="start" fill="#000" font-weight="normal" >2p<tspan font-size="10.23" dy="4.34">3/2</tspan></text>
<text x="1077" y="1200.4" font-size="15.5" text-anchor="start" fill="#000" font-weight="normal" >2p<tspan font-size="10.23" dy="4.34">1/2</tspan></text>
<text x="1100.3" y="1180.7" font-size="15.5" text-anchor="start" fill="#000" font-weight="normal" >2p<tspan font-size="10.23" dy="4.34">3/2</tspan></text>
<text x="889.4" y="978.6" font-size="17.5" text-anchor="start" fill="#000" font-weight="normal" >S 2p</text>
<text x="1094.4" y="980.8" font-size="17.5" text-anchor="start" fill="#000" font-weight="normal" >Bulk SBS</text>
<text x="1024.5" y="1348" font-size="18" text-anchor="middle" fill="#000" font-weight="normal" >Binding energy (eV)</text>
<text x="850" y="1108" font-size="18" text-anchor="middle" fill="#000" font-weight="normal" transform="rotate(-90 850 1108)" >Intensity (a.u.)</text>
<text x="833" y="933" font-size="30" text-anchor="start" fill="#000" font-weight="bold" >g</text>
<line x1="136.25" y1="1390.8" x2="136.25" y2="1755.4" stroke="#666" stroke-width="0.85" stroke-dasharray="2,1.3,1,1.3,1,0.7"/>
<line x1="190.03" y1="1390.8" x2="190.03" y2="1755.4" stroke="#666" stroke-width="0.85" stroke-dasharray="2,1.3,1,1.3,1,0.7"/>
<line x1="243.81" y1="1390.8" x2="243.81" y2="1755.4" stroke="#666" stroke-width="0.85" stroke-dasharray="2,1.3,1,1.3,1,0.7"/>
<line x1="297.6" y1="1390.8" x2="297.6" y2="1755.4" stroke="#666" stroke-width="0.85" stroke-dasharray="2,1.3,1,1.3,1,0.7"/>
<line x1="351.38" y1="1390.8" x2="351.38" y2="1755.4" stroke="#666" stroke-width="0.85" stroke-dasharray="2,1.3,1,1.3,1,0.7"/>
<line x1="405.17" y1="1390.8" x2="405.17" y2="1755.4" stroke="#666" stroke-width="0.85" stroke-dasharray="2,1.3,1,1.3,1,0.7"/>
<line x1="458.95" y1="1390.8" x2="458.95" y2="1755.4" stroke="#666" stroke-width="0.85" stroke-dasharray="2,1.3,1,1.3,1,0.7"/>
<line x1="512.74" y1="1390.8" x2="512.74" y2="1755.4" stroke="#666" stroke-width="0.85" stroke-dasharray="2,1.3,1,1.3,1,0.7"/>
<g clip-path="url(#clipR)">
<circle cx="746" cy="1621.15" r="5.8" fill="url(#g_red)"/>
<circle cx="749.48" cy="1620.84" r="5.8" fill="url(#g_red)"/>
<circle cx="752.96" cy="1620.61" r="5.8" fill="url(#g_red)"/>
<circle cx="756.44" cy="1620.26" r="5.8" fill="url(#g_red)"/>
<circle cx="759.92" cy="1620.37" r="5.8" fill="url(#g_red)"/>
<circle cx="763.4" cy="1619.98" r="5.8" fill="url(#g_red)"/>
<circle cx="766.88" cy="1620.61" r="5.8" fill="url(#g_red)"/>
<circle cx="770.36" cy="1619.5" r="5.8" fill="url(#g_red)"/>
<circle cx="773.84" cy="1618.35" r="5.8" fill="url(#g_red)"/>
<circle cx="777.32" cy="1618.26" r="5.8" fill="url(#g_red)"/>
<circle cx="780.8" cy="1618" r="5.8" fill="url(#g_red)"/>
<circle cx="784.28" cy="1619.1" r="5.8" fill="url(#g_red)"/>
<circle cx="787.76" cy="1618.71" r="5.8" fill="url(#g_red)"/>
<circle cx="791.24" cy="1619.08" r="5.8" fill="url(#g_red)"/>
<circle cx="794.72" cy="1618.76" r="5.8" fill="url(#g_red)"/>
<circle cx="798.2" cy="1618.8" r="5.8" fill="url(#g_red)"/>
<circle cx="801.68" cy="1619.61" r="5.8" fill="url(#g_red)"/>
<circle cx="805.16" cy="1619.41" r="5.8" fill="url(#g_red)"/>
<circle cx="808.64" cy="1619.41" r="5.8" fill="url(#g_red)"/>
<circle cx="812.12" cy="1618.65" r="5.8" fill="url(#g_red)"/>
<circle cx="815.6" cy="1618.75" r="5.8" fill="url(#g_red)"/>
<circle cx="819.08" cy="1619.32" r="5.8" fill="url(#g_red)"/>
<circle cx="822.56" cy="1618.28" r="5.8" fill="url(#g_red)"/>
<circle cx="826.04" cy="1618.92" r="5.8" fill="url(#g_red)"/>
<circle cx="829.52" cy="1618.08" r="5.8" fill="url(#g_red)"/>
<circle cx="833" cy="1618.51" r="5.8" fill="url(#g_red)"/>
<circle cx="836.48" cy="1618.46" r="5.8" fill="url(#g_red)"/>
<circle cx="839.96" cy="1617.11" r="5.8" fill="url(#g_red)"/>
<circle cx="843.44" cy="1617.79" r="5.8" fill="url(#g_red)"/>
<circle cx="846.92" cy="1617.86" r="5.8" fill="url(#g_red)"/>
<circle cx="850.4" cy="1616.94" r="5.8" fill="url(#g_red)"/>
<circle cx="853.88" cy="1617.17" r="5.8" fill="url(#g_red)"/>
<circle cx="857.36" cy="1618.01" r="5.8" fill="url(#g_red)"/>
<circle cx="860.84" cy="1617.22" r="5.8" fill="url(#g_red)"/>
<circle cx="864.32" cy="1617.85" r="5.8" fill="url(#g_red)"/>
<circle cx="867.8" cy="1617.75" r="5.8" fill="url(#g_red)"/>
<circle cx="871.28" cy="1618.45" r="5.8" fill="url(#g_red)"/>
<circle cx="874.76" cy="1617.58" r="5.8" fill="url(#g_red)"/>
<circle cx="878.24" cy="1617.99" r="5.8" fill="url(#g_red)"/>
<circle cx="881.72" cy="1617.71" r="5.8" fill="url(#g_red)"/>
<circle cx="885.2" cy="1617.89" r="5.8" fill="url(#g_red)"/>
<circle cx="888.68" cy="1618.5" r="5.8" fill="url(#g_red)"/>
<circle cx="892.16" cy="1618" r="5.8" fill="url(#g_red)"/>
<circle cx="895.64" cy="1617.84" r="5.8" fill="url(#g_red)"/>
<circle cx="899.12" cy="1617.46" r="5.8" fill="url(#g_red)"/>
<circle cx="902.6" cy="1617.15" r="5.8" fill="url(#g_red)"/>
<circle cx="906.08" cy="1616.42" r="5.8" fill="url(#g_red)"/>
<circle cx="909.56" cy="1615.77" r="5.8" fill="url(#g_red)"/>
<circle cx="913.04" cy="1616.93" r="5.8" fill="url(#g_red)"/>
<circle cx="916.52" cy="1616.42" r="5.8" fill="url(#g_red)"/>
<circle cx="920" cy="1617.24" r="5.8" fill="url(#g_red)"/>
<circle cx="923.48" cy="1617.65" r="5.8" fill="url(#g_red)"/>
<circle cx="926.96" cy="1617.33" r="5.8" fill="url(#g_red)"/>
<circle cx="930.44" cy="1618.11" r="5.8" fill="url(#g_red)"/>
<circle cx="933.92" cy="1618.67" r="5.8" fill="url(#g_red)"/>
<circle cx="937.4" cy="1618.8" r="5.8" fill="url(#g_red)"/>
<circle cx="940.88" cy="1618.85" r="5.8" fill="url(#g_red)"/>
<circle cx="944.36" cy="1620.67" r="5.8" fill="url(#g_red)"/>
<circle cx="947.84" cy="1620.72" r="5.8" fill="url(#g_red)"/>
<circle cx="951.32" cy="1622.36" r="5.8" fill="url(#g_red)"/>
<circle cx="954.8" cy="1620.51" r="5.8" fill="url(#g_red)"/>
<circle cx="958.28" cy="1619.49" r="5.8" fill="url(#g_red)"/>
<circle cx="961.76" cy="1619.77" r="5.8" fill="url(#g_red)"/>
<circle cx="965.24" cy="1618.38" r="5.8" fill="url(#g_red)"/>
<circle cx="968.72" cy="1618.54" r="5.8" fill="url(#g_red)"/>
<circle cx="972.2" cy="1617.88" r="5.8" fill="url(#g_red)"/>
<circle cx="975.68" cy="1618.23" r="5.8" fill="url(#g_red)"/>
<circle cx="979.16" cy="1618.33" r="5.8" fill="url(#g_red)"/>
<circle cx="982.64" cy="1618.84" r="5.8" fill="url(#g_red)"/>
<circle cx="986.12" cy="1618.51" r="5.8" fill="url(#g_red)"/>
<circle cx="989.6" cy="1620.17" r="5.8" fill="url(#g_red)"/>
<circle cx="993.08" cy="1620.13" r="5.8" fill="url(#g_red)"/>
<circle cx="996.56" cy="1620.58" r="5.8" fill="url(#g_red)"/>
<circle cx="1000.04" cy="1621.24" r="5.8" fill="url(#g_red)"/>
<circle cx="1003.52" cy="1622.22" r="5.8" fill="url(#g_red)"/>
<circle cx="1007" cy="1622.08" r="5.8" fill="url(#g_red)"/>
<circle cx="1010.48" cy="1621.74" r="5.8" fill="url(#g_red)"/>
<circle cx="1013.96" cy="1621.29" r="5.8" fill="url(#g_red)"/>
<circle cx="1017.44" cy="1622.03" r="5.8" fill="url(#g_red)"/>
<circle cx="1020.92" cy="1621.07" r="5.8" fill="url(#g_red)"/>
<circle cx="1024.4" cy="1620.81" r="5.8" fill="url(#g_red)"/>
<circle cx="1027.88" cy="1620.37" r="5.8" fill="url(#g_red)"/>
<circle cx="1031.36" cy="1621.08" r="5.8" fill="url(#g_red)"/>
<circle cx="1034.84" cy="1619.53" r="5.8" fill="url(#g_red)"/>
<circle cx="1038.32" cy="1620.28" r="5.8" fill="url(#g_red)"/>
<circle cx="1041.8" cy="1619.59" r="5.8" fill="url(#g_red)"/>
<circle cx="1045.28" cy="1618.88" r="5.8" fill="url(#g_red)"/>
<circle cx="1048.76" cy="1618.11" r="5.8" fill="url(#g_red)"/>
<circle cx="1052.24" cy="1619.15" r="5.8" fill="url(#g_red)"/>
<circle cx="1055.72" cy="1619.65" r="5.8" fill="url(#g_red)"/>
<circle cx="1059.2" cy="1621.4" r="5.8" fill="url(#g_red)"/>
<circle cx="1062.68" cy="1622.95" r="5.8" fill="url(#g_red)"/>
<circle cx="1066.16" cy="1624.2" r="5.8" fill="url(#g_red)"/>
<circle cx="1069.64" cy="1625.64" r="5.8" fill="url(#g_red)"/>
<circle cx="1073.12" cy="1627.46" r="5.8" fill="url(#g_red)"/>
<circle cx="1076.6" cy="1629.07" r="5.8" fill="url(#g_red)"/>
<circle cx="1080.08" cy="1623.15" r="5.8" fill="url(#g_red)"/>
<circle cx="1083.56" cy="1619.56" r="5.8" fill="url(#g_red)"/>
<circle cx="1087.04" cy="1620.49" r="5.8" fill="url(#g_red)"/>
<circle cx="1090.52" cy="1620.49" r="5.8" fill="url(#g_red)"/>
<circle cx="1094" cy="1619.11" r="5.8" fill="url(#g_red)"/>
<circle cx="1097.48" cy="1619.55" r="5.8" fill="url(#g_red)"/>
<circle cx="1100.96" cy="1619.56" r="5.8" fill="url(#g_red)"/>
<circle cx="1104.44" cy="1619.63" r="5.8" fill="url(#g_red)"/>
<circle cx="1107.92" cy="1619.52" r="5.8" fill="url(#g_red)"/>
<circle cx="1111.4" cy="1619.91" r="5.8" fill="url(#g_red)"/>
<circle cx="1114.88" cy="1621.08" r="5.8" fill="url(#g_red)"/>
<circle cx="1118.36" cy="1621.82" r="5.8" fill="url(#g_red)"/>
<circle cx="1121.84" cy="1622.99" r="5.8" fill="url(#g_red)"/>
<circle cx="1125.32" cy="1622.56" r="5.8" fill="url(#g_red)"/>
<circle cx="1128.8" cy="1624.41" r="5.8" fill="url(#g_red)"/>
<circle cx="1132.28" cy="1624.5" r="5.8" fill="url(#g_red)"/>
<circle cx="1135.76" cy="1624.26" r="5.8" fill="url(#g_red)"/>
<circle cx="1139.24" cy="1625.18" r="5.8" fill="url(#g_red)"/>
<circle cx="1142.72" cy="1624.4" r="5.8" fill="url(#g_red)"/>
<circle cx="1146.2" cy="1623.49" r="5.8" fill="url(#g_red)"/>
<circle cx="1149.68" cy="1622.67" r="5.8" fill="url(#g_red)"/>
<circle cx="1153.16" cy="1621.81" r="5.8" fill="url(#g_red)"/>
<circle cx="1156.64" cy="1622.93" r="5.8" fill="url(#g_red)"/>
<circle cx="1160.12" cy="1622.73" r="5.8" fill="url(#g_red)"/>
<circle cx="1163.6" cy="1623.33" r="5.8" fill="url(#g_red)"/>
<circle cx="746" cy="1633.63" r="5.8" fill="url(#g_green)"/>
<circle cx="749.48" cy="1632" r="5.8" fill="url(#g_green)"/>
<circle cx="752.96" cy="1629.45" r="5.8" fill="url(#g_green)"/>
<circle cx="756.44" cy="1632.91" r="5.8" fill="url(#g_green)"/>
<circle cx="759.92" cy="1637.27" r="5.8" fill="url(#g_green)"/>
<circle cx="763.4" cy="1633.9" r="5.8" fill="url(#g_green)"/>
<circle cx="766.88" cy="1631.38" r="5.8" fill="url(#g_green)"/>
<circle cx="770.36" cy="1629.99" r="5.8" fill="url(#g_green)"/>
<circle cx="773.84" cy="1631.15" r="5.8" fill="url(#g_green)"/>
<circle cx="777.32" cy="1632.94" r="5.8" fill="url(#g_green)"/>
<circle cx="780.8" cy="1634.53" r="5.8" fill="url(#g_green)"/>
<circle cx="784.28" cy="1635.25" r="5.8" fill="url(#g_green)"/>
<circle cx="787.76" cy="1636.46" r="5.8" fill="url(#g_green)"/>
<circle cx="791.24" cy="1637.02" r="5.8" fill="url(#g_green)"/>
<circle cx="794.72" cy="1637.1" r="5.8" fill="url(#g_green)"/>
<circle cx="798.2" cy="1638" r="5.8" fill="url(#g_green)"/>
<circle cx="801.68" cy="1639.31" r="5.8" fill="url(#g_green)"/>
<circle cx="805.16" cy="1639.11" r="5.8" fill="url(#g_green)"/>
<circle cx="808.64" cy="1638.83" r="5.8" fill="url(#g_green)"/>
<circle cx="812.12" cy="1638.66" r="5.8" fill="url(#g_green)"/>
<circle cx="815.6" cy="1637.93" r="5.8" fill="url(#g_green)"/>
<circle cx="819.08" cy="1636.77" r="5.8" fill="url(#g_green)"/>
<circle cx="822.56" cy="1636.11" r="5.8" fill="url(#g_green)"/>
<circle cx="826.04" cy="1635.72" r="5.8" fill="url(#g_green)"/>
<circle cx="829.52" cy="1634.13" r="5.8" fill="url(#g_green)"/>
<circle cx="833" cy="1633.1" r="5.8" fill="url(#g_green)"/>
<circle cx="836.48" cy="1632.16" r="5.8" fill="url(#g_green)"/>
<circle cx="839.96" cy="1631.16" r="5.8" fill="url(#g_green)"/>
<circle cx="843.44" cy="1630.19" r="5.8" fill="url(#g_green)"/>
<circle cx="846.92" cy="1631.65" r="5.8" fill="url(#g_green)"/>
<circle cx="850.4" cy="1632.15" r="5.8" fill="url(#g_green)"/>
<circle cx="853.88" cy="1633.64" r="5.8" fill="url(#g_green)"/>
<circle cx="857.36" cy="1634.32" r="5.8" fill="url(#g_green)"/>
<circle cx="860.84" cy="1634.38" r="5.8" fill="url(#g_green)"/>
<circle cx="864.32" cy="1634.14" r="5.8" fill="url(#g_green)"/>
<circle cx="867.8" cy="1634.31" r="5.8" fill="url(#g_green)"/>
<circle cx="871.28" cy="1633.11" r="5.8" fill="url(#g_green)"/>
<circle cx="874.76" cy="1633.16" r="5.8" fill="url(#g_green)"/>
<circle cx="878.24" cy="1633.06" r="5.8" fill="url(#g_green)"/>
<circle cx="881.72" cy="1635.03" r="5.8" fill="url(#g_green)"/>
<circle cx="885.2" cy="1635.56" r="5.8" fill="url(#g_green)"/>
<circle cx="888.68" cy="1637.18" r="5.8" fill="url(#g_green)"/>
<circle cx="892.16" cy="1637.86" r="5.8" fill="url(#g_green)"/>
<circle cx="895.64" cy="1639.36" r="5.8" fill="url(#g_green)"/>
<circle cx="899.12" cy="1639.65" r="5.8" fill="url(#g_green)"/>
<circle cx="902.6" cy="1640.5" r="5.8" fill="url(#g_green)"/>
<circle cx="906.08" cy="1640.93" r="5.8" fill="url(#g_green)"/>
<circle cx="909.56" cy="1642.15" r="5.8" fill="url(#g_green)"/>
<circle cx="913.04" cy="1642.39" r="5.8" fill="url(#g_green)"/>
<circle cx="916.52" cy="1642.9" r="5.8" fill="url(#g_green)"/>
<circle cx="920" cy="1640.68" r="5.8" fill="url(#g_green)"/>
<circle cx="923.48" cy="1639.2" r="5.8" fill="url(#g_green)"/>
<circle cx="926.96" cy="1636.45" r="5.8" fill="url(#g_green)"/>
<circle cx="930.44" cy="1635.77" r="5.8" fill="url(#g_green)"/>
<circle cx="933.92" cy="1635.51" r="5.8" fill="url(#g_green)"/>
<circle cx="937.4" cy="1634.64" r="5.8" fill="url(#g_green)"/>
<circle cx="940.88" cy="1634.18" r="5.8" fill="url(#g_green)"/>
<circle cx="944.36" cy="1634.26" r="5.8" fill="url(#g_green)"/>
<circle cx="947.84" cy="1636" r="5.8" fill="url(#g_green)"/>
<circle cx="951.32" cy="1638.15" r="5.8" fill="url(#g_green)"/>
<circle cx="954.8" cy="1636.58" r="5.8" fill="url(#g_green)"/>
<circle cx="958.28" cy="1635.76" r="5.8" fill="url(#g_green)"/>
<circle cx="961.76" cy="1636.68" r="5.8" fill="url(#g_green)"/>
<circle cx="965.24" cy="1638.24" r="5.8" fill="url(#g_green)"/>
<circle cx="968.72" cy="1640.05" r="5.8" fill="url(#g_green)"/>
<circle cx="972.2" cy="1640.74" r="5.8" fill="url(#g_green)"/>
<circle cx="975.68" cy="1642.17" r="5.8" fill="url(#g_green)"/>
<circle cx="979.16" cy="1642.08" r="5.8" fill="url(#g_green)"/>
<circle cx="982.64" cy="1643.04" r="5.8" fill="url(#g_green)"/>
<circle cx="986.12" cy="1643.63" r="5.8" fill="url(#g_green)"/>
<circle cx="989.6" cy="1644.37" r="5.8" fill="url(#g_green)"/>
<circle cx="993.08" cy="1644.45" r="5.8" fill="url(#g_green)"/>
<circle cx="996.56" cy="1644.6" r="5.8" fill="url(#g_green)"/>
<circle cx="1000.04" cy="1645.12" r="5.8" fill="url(#g_green)"/>
<circle cx="1003.52" cy="1645.36" r="5.8" fill="url(#g_green)"/>
<circle cx="1007" cy="1645.78" r="5.8" fill="url(#g_green)"/>
<circle cx="1010.48" cy="1644.3" r="5.8" fill="url(#g_green)"/>
<circle cx="1013.96" cy="1642.63" r="5.8" fill="url(#g_green)"/>
<circle cx="1017.44" cy="1642.36" r="5.8" fill="url(#g_green)"/>
<circle cx="1020.92" cy="1643.07" r="5.8" fill="url(#g_green)"/>
<circle cx="1024.4" cy="1642.61" r="5.8" fill="url(#g_green)"/>
<circle cx="1027.88" cy="1642.83" r="5.8" fill="url(#g_green)"/>
<circle cx="1031.36" cy="1643.75" r="5.8" fill="url(#g_green)"/>
<circle cx="1034.84" cy="1642.84" r="5.8" fill="url(#g_green)"/>
<circle cx="1038.32" cy="1642.47" r="5.8" fill="url(#g_green)"/>
<circle cx="1041.8" cy="1642.01" r="5.8" fill="url(#g_green)"/>
<circle cx="1045.28" cy="1641.23" r="5.8" fill="url(#g_green)"/>
<circle cx="1048.76" cy="1640.97" r="5.8" fill="url(#g_green)"/>
<circle cx="1052.24" cy="1642.14" r="5.8" fill="url(#g_green)"/>
<circle cx="1055.72" cy="1643.11" r="5.8" fill="url(#g_green)"/>
<circle cx="1059.2" cy="1644.3" r="5.8" fill="url(#g_green)"/>
<circle cx="1062.68" cy="1645.08" r="5.8" fill="url(#g_green)"/>
<circle cx="1066.16" cy="1646.68" r="5.8" fill="url(#g_green)"/>
<circle cx="1069.64" cy="1647.87" r="5.8" fill="url(#g_green)"/>
<circle cx="1073.12" cy="1649.38" r="5.8" fill="url(#g_green)"/>
<circle cx="1076.6" cy="1652.38" r="5.8" fill="url(#g_green)"/>
<circle cx="1080.08" cy="1655.1" r="5.8" fill="url(#g_green)"/>
<circle cx="1083.56" cy="1651.16" r="5.8" fill="url(#g_green)"/>
<circle cx="1087.04" cy="1645.61" r="5.8" fill="url(#g_green)"/>
<circle cx="1090.52" cy="1642.36" r="5.8" fill="url(#g_green)"/>
<circle cx="1094" cy="1643.33" r="5.8" fill="url(#g_green)"/>
<circle cx="1097.48" cy="1645.2" r="5.8" fill="url(#g_green)"/>
<circle cx="1100.96" cy="1642.59" r="5.8" fill="url(#g_green)"/>
<circle cx="1104.44" cy="1641.51" r="5.8" fill="url(#g_green)"/>
<circle cx="1107.92" cy="1640.27" r="5.8" fill="url(#g_green)"/>
<circle cx="1111.4" cy="1637.85" r="5.8" fill="url(#g_green)"/>
<circle cx="1114.88" cy="1639.93" r="5.8" fill="url(#g_green)"/>
<circle cx="1118.36" cy="1640.75" r="5.8" fill="url(#g_green)"/>
<circle cx="1121.84" cy="1642.43" r="5.8" fill="url(#g_green)"/>
<circle cx="1125.32" cy="1643.06" r="5.8" fill="url(#g_green)"/>
<circle cx="1128.8" cy="1642.42" r="5.8" fill="url(#g_green)"/>
<circle cx="1132.28" cy="1642.45" r="5.8" fill="url(#g_green)"/>
<circle cx="1135.76" cy="1642.83" r="5.8" fill="url(#g_green)"/>
<circle cx="1139.24" cy="1642.17" r="5.8" fill="url(#g_green)"/>
<circle cx="1142.72" cy="1642.24" r="5.8" fill="url(#g_green)"/>
<circle cx="1146.2" cy="1643.37" r="5.8" fill="url(#g_green)"/>
<circle cx="1149.68" cy="1644.45" r="5.8" fill="url(#g_green)"/>
<circle cx="1153.16" cy="1644.63" r="5.8" fill="url(#g_green)"/>
<circle cx="1156.64" cy="1645.45" r="5.8" fill="url(#g_green)"/>
<circle cx="1160.12" cy="1645.72" r="5.8" fill="url(#g_green)"/>
<circle cx="1163.6" cy="1646.25" r="5.8" fill="url(#g_green)"/>
</g>
<g clip-path="url(#clipL)">
<circle cx="92.2" cy="1441.43" r="5.8" fill="url(#g_blue)"/>
<circle cx="103.97" cy="1606.97" r="5.8" fill="url(#g_blue)"/>
<circle cx="114.73" cy="1608.8" r="5.8" fill="url(#g_blue)"/>
<circle cx="125.49" cy="1611.92" r="5.8" fill="url(#g_blue)"/>
<circle cx="136.25" cy="1613.23" r="5.8" fill="url(#g_blue)"/>
<circle cx="147" cy="1590.03" r="5.8" fill="url(#g_blue)"/>
<circle cx="157.76" cy="1591.33" r="5.8" fill="url(#g_blue)"/>
<circle cx="168.52" cy="1591.33" r="5.8" fill="url(#g_blue)"/>
<circle cx="179.27" cy="1591.33" r="5.8" fill="url(#g_blue)"/>
<circle cx="190.03" cy="1591.85" r="5.8" fill="url(#g_blue)"/>
<circle cx="200.79" cy="1593.94" r="5.8" fill="url(#g_blue)"/>
<circle cx="211.54" cy="1596.02" r="5.8" fill="url(#g_blue)"/>
<circle cx="222.3" cy="1597.06" r="5.8" fill="url(#g_blue)"/>
<circle cx="233.06" cy="1597.85" r="5.8" fill="url(#g_blue)"/>
<circle cx="243.81" cy="1597.06" r="5.8" fill="url(#g_blue)"/>
<circle cx="254.57" cy="1594.98" r="5.8" fill="url(#g_blue)"/>
<circle cx="265.33" cy="1601.24" r="5.8" fill="url(#g_blue)"/>
<circle cx="276.09" cy="1605.67" r="5.8" fill="url(#g_blue)"/>
<circle cx="286.84" cy="1604.89" r="5.8" fill="url(#g_blue)"/>
<circle cx="297.6" cy="1603.06" r="5.8" fill="url(#g_blue)"/>
<circle cx="308.36" cy="1620.01" r="5.8" fill="url(#g_blue)"/>
<circle cx="319.11" cy="1620.01" r="5.8" fill="url(#g_blue)"/>
<circle cx="329.87" cy="1618.7" r="5.8" fill="url(#g_blue)"/>
<circle cx="340.63" cy="1621.31" r="5.8" fill="url(#g_blue)"/>
<circle cx="351.38" cy="1620.01" r="5.8" fill="url(#g_blue)"/>
<circle cx="362.14" cy="1678.92" r="5.8" fill="url(#g_blue)"/>
<circle cx="372.9" cy="1681.79" r="5.8" fill="url(#g_blue)"/>
<circle cx="383.66" cy="1681.79" r="5.8" fill="url(#g_blue)"/>
<circle cx="394.41" cy="1681.79" r="5.8" fill="url(#g_blue)"/>
<circle cx="405.17" cy="1681.79" r="5.8" fill="url(#g_blue)"/>
<circle cx="415.93" cy="1696.91" r="5.8" fill="url(#g_blue)"/>
<circle cx="426.68" cy="1700.04" r="5.8" fill="url(#g_blue)"/>
<circle cx="437.44" cy="1700.04" r="5.8" fill="url(#g_blue)"/>
<circle cx="448.2" cy="1700.04" r="5.8" fill="url(#g_blue)"/>
<circle cx="458.95" cy="1700.04" r="5.8" fill="url(#g_blue)"/>
<circle cx="469.71" cy="1640.6" r="5.8" fill="url(#g_blue)"/>
<circle cx="480.47" cy="1624.18" r="5.8" fill="url(#g_blue)"/>
<circle cx="491.23" cy="1628.09" r="5.8" fill="url(#g_blue)"/>
<circle cx="501.98" cy="1630.96" r="5.8" fill="url(#g_blue)"/>
<circle cx="512.74" cy="1630.17" r="5.8" fill="url(#g_blue)"/>
<circle cx="92.2" cy="1424.22" r="5.8" fill="url(#g_red)"/>
<circle cx="103.97" cy="1591.33" r="5.8" fill="url(#g_red)"/>
<circle cx="114.73" cy="1598.37" r="5.8" fill="url(#g_red)"/>
<circle cx="125.49" cy="1600.19" r="5.8" fill="url(#g_red)"/>
<circle cx="136.25" cy="1602.02" r="5.8" fill="url(#g_red)"/>
<circle cx="147" cy="1579.6" r="5.8" fill="url(#g_red)"/>
<circle cx="157.76" cy="1580.9" r="5.8" fill="url(#g_red)"/>
<circle cx="168.52" cy="1581.42" r="5.8" fill="url(#g_red)"/>
<circle cx="179.27" cy="1581.94" r="5.8" fill="url(#g_red)"/>
<circle cx="190.03" cy="1582.2" r="5.8" fill="url(#g_red)"/>
<circle cx="200.79" cy="1583.51" r="5.8" fill="url(#g_red)"/>
<circle cx="211.54" cy="1584.81" r="5.8" fill="url(#g_red)"/>
<circle cx="222.3" cy="1585.59" r="5.8" fill="url(#g_red)"/>
<circle cx="233.06" cy="1585.59" r="5.8" fill="url(#g_red)"/>
<circle cx="243.81" cy="1586.12" r="5.8" fill="url(#g_red)"/>
<circle cx="254.57" cy="1584.81" r="5.8" fill="url(#g_red)"/>
<circle cx="265.33" cy="1584.81" r="5.8" fill="url(#g_red)"/>
<circle cx="276.09" cy="1583.51" r="5.8" fill="url(#g_red)"/>
<circle cx="286.84" cy="1584.03" r="5.8" fill="url(#g_red)"/>
<circle cx="297.6" cy="1585.59" r="5.8" fill="url(#g_red)"/>
<circle cx="308.36" cy="1629.39" r="5.8" fill="url(#g_red)"/>
<circle cx="319.11" cy="1626" r="5.8" fill="url(#g_red)"/>
<circle cx="329.87" cy="1623.92" r="5.8" fill="url(#g_red)"/>
<circle cx="340.63" cy="1614.79" r="5.8" fill="url(#g_red)"/>
<circle cx="351.38" cy="1605.93" r="5.8" fill="url(#g_red)"/>
<circle cx="362.14" cy="1665.37" r="5.8" fill="url(#g_red)"/>
<circle cx="372.9" cy="1669.28" r="5.8" fill="url(#g_red)"/>
<circle cx="383.66" cy="1669.28" r="5.8" fill="url(#g_red)"/>
<circle cx="394.41" cy="1669.28" r="5.8" fill="url(#g_red)"/>
<circle cx="405.17" cy="1669.28" r="5.8" fill="url(#g_red)"/>
<circle cx="415.93" cy="1688.31" r="5.8" fill="url(#g_red)"/>
<circle cx="426.68" cy="1690.39" r="5.8" fill="url(#g_red)"/>
<circle cx="437.44" cy="1690.39" r="5.8" fill="url(#g_red)"/>
<circle cx="448.2" cy="1690.39" r="5.8" fill="url(#g_red)"/>
<circle cx="458.95" cy="1690.39" r="5.8" fill="url(#g_red)"/>
<circle cx="469.71" cy="1632" r="5.8" fill="url(#g_red)"/>
<circle cx="480.47" cy="1617.4" r="5.8" fill="url(#g_red)"/>
<circle cx="491.23" cy="1617.4" r="5.8" fill="url(#g_red)"/>
<circle cx="501.98" cy="1618.7" r="5.8" fill="url(#g_red)"/>
<circle cx="512.74" cy="1618.7" r="5.8" fill="url(#g_red)"/>
<circle cx="523.5" cy="1636.06" r="5.8" fill="url(#g_red)"/>
<circle cx="534.25" cy="1636.06" r="5.8" fill="url(#g_red)"/>
<circle cx="545.01" cy="1635.24" r="5.8" fill="url(#g_red)"/>
<circle cx="555.77" cy="1635.91" r="5.8" fill="url(#g_red)"/>
<circle cx="566.52" cy="1635.54" r="5.8" fill="url(#g_red)"/>
<circle cx="577.28" cy="1634.19" r="5.8" fill="url(#g_red)"/>
<circle cx="588.04" cy="1633.27" r="5.8" fill="url(#g_red)"/>
<circle cx="598.8" cy="1632.89" r="5.8" fill="url(#g_red)"/>
<circle cx="609.55" cy="1631.6" r="5.8" fill="url(#g_red)"/>
<circle cx="620.31" cy="1630.55" r="5.8" fill="url(#g_red)"/>
<circle cx="631.07" cy="1630.3" r="5.8" fill="url(#g_red)"/>
<circle cx="641.82" cy="1629.46" r="5.8" fill="url(#g_red)"/>
<circle cx="652.58" cy="1628.89" r="5.8" fill="url(#g_red)"/>
<circle cx="663.34" cy="1627.78" r="5.8" fill="url(#g_red)"/>
<circle cx="674.1" cy="1626.03" r="5.8" fill="url(#g_red)"/>
<circle cx="684.85" cy="1625.95" r="5.8" fill="url(#g_red)"/>
<circle cx="695.61" cy="1624.65" r="5.8" fill="url(#g_red)"/>
<circle cx="706.37" cy="1624.01" r="5.8" fill="url(#g_red)"/>
<circle cx="717.12" cy="1624.08" r="5.8" fill="url(#g_red)"/>
<circle cx="727.88" cy="1624.17" r="5.8" fill="url(#g_red)"/>
<circle cx="92.2" cy="1456.29" r="5.8" fill="url(#g_green)"/>
<circle cx="103.97" cy="1593.94" r="5.8" fill="url(#g_green)"/>
<circle cx="114.73" cy="1596.02" r="5.8" fill="url(#g_green)"/>
<circle cx="125.49" cy="1597.85" r="5.8" fill="url(#g_green)"/>
<circle cx="136.25" cy="1599.41" r="5.8" fill="url(#g_green)"/>
<circle cx="147" cy="1582.47" r="5.8" fill="url(#g_green)"/>
<circle cx="157.76" cy="1586.12" r="5.8" fill="url(#g_green)"/>
<circle cx="168.52" cy="1587.42" r="5.8" fill="url(#g_green)"/>
<circle cx="179.27" cy="1588.72" r="5.8" fill="url(#g_green)"/>
<circle cx="190.03" cy="1588.72" r="5.8" fill="url(#g_green)"/>
<circle cx="200.79" cy="1582.73" r="5.8" fill="url(#g_green)"/>
<circle cx="211.54" cy="1587.42" r="5.8" fill="url(#g_green)"/>
<circle cx="222.3" cy="1590.03" r="5.8" fill="url(#g_green)"/>
<circle cx="233.06" cy="1590.81" r="5.8" fill="url(#g_green)"/>
<circle cx="243.81" cy="1591.85" r="5.8" fill="url(#g_green)"/>
<circle cx="254.57" cy="1589.5" r="5.8" fill="url(#g_green)"/>
<circle cx="265.33" cy="1597.06" r="5.8" fill="url(#g_green)"/>
<circle cx="276.09" cy="1598.37" r="5.8" fill="url(#g_green)"/>
<circle cx="286.84" cy="1596.28" r="5.8" fill="url(#g_green)"/>
<circle cx="297.6" cy="1594.98" r="5.8" fill="url(#g_green)"/>
<circle cx="308.36" cy="1622.35" r="5.8" fill="url(#g_green)"/>
<circle cx="319.11" cy="1625.22" r="5.8" fill="url(#g_green)"/>
<circle cx="329.87" cy="1622.61" r="5.8" fill="url(#g_green)"/>
<circle cx="340.63" cy="1610.1" r="5.8" fill="url(#g_green)"/>
<circle cx="351.38" cy="1609.58" r="5.8" fill="url(#g_green)"/>
<circle cx="362.14" cy="1669.02" r="5.8" fill="url(#g_green)"/>
<circle cx="372.9" cy="1673.45" r="5.8" fill="url(#g_green)"/>
<circle cx="383.66" cy="1673.45" r="5.8" fill="url(#g_green)"/>
<circle cx="394.41" cy="1673.45" r="5.8" fill="url(#g_green)"/>
<circle cx="405.17" cy="1674.23" r="5.8" fill="url(#g_green)"/>
<circle cx="415.93" cy="1690.39" r="5.8" fill="url(#g_green)"/>
<circle cx="426.68" cy="1693.26" r="5.8" fill="url(#g_green)"/>
<circle cx="437.44" cy="1693.26" r="5.8" fill="url(#g_green)"/>
<circle cx="448.2" cy="1693.26" r="5.8" fill="url(#g_green)"/>
<circle cx="458.95" cy="1694.04" r="5.8" fill="url(#g_green)"/>
<circle cx="469.71" cy="1626.52" r="5.8" fill="url(#g_green)"/>
<circle cx="480.47" cy="1618.7" r="5.8" fill="url(#g_green)"/>
<circle cx="491.23" cy="1618.7" r="5.8" fill="url(#g_green)"/>
<circle cx="501.98" cy="1620.01" r="5.8" fill="url(#g_green)"/>
<circle cx="512.74" cy="1620.01" r="5.8" fill="url(#g_green)"/>
<circle cx="523.5" cy="1640.88" r="5.8" fill="url(#g_green)"/>
<circle cx="534.25" cy="1641.65" r="5.8" fill="url(#g_green)"/>
<circle cx="545.01" cy="1641.99" r="5.8" fill="url(#g_green)"/>
<circle cx="555.77" cy="1642.35" r="5.8" fill="url(#g_green)"/>
<circle cx="566.52" cy="1641.92" r="5.8" fill="url(#g_green)"/>
<circle cx="577.28" cy="1642.09" r="5.8" fill="url(#g_green)"/>
<circle cx="588.04" cy="1641.95" r="5.8" fill="url(#g_green)"/>
<circle cx="598.8" cy="1641.41" r="5.8" fill="url(#g_green)"/>
<circle cx="609.55" cy="1641.65" r="5.8" fill="url(#g_green)"/>
<circle cx="620.31" cy="1641" r="5.8" fill="url(#g_green)"/>
<circle cx="631.07" cy="1640.49" r="5.8" fill="url(#g_green)"/>
<circle cx="641.82" cy="1639.95" r="5.8" fill="url(#g_green)"/>
<circle cx="652.58" cy="1638.74" r="5.8" fill="url(#g_green)"/>
<circle cx="663.34" cy="1638.17" r="5.8" fill="url(#g_green)"/>
<circle cx="674.1" cy="1638.5" r="5.8" fill="url(#g_green)"/>
<circle cx="684.85" cy="1637.61" r="5.8" fill="url(#g_green)"/>
<circle cx="695.61" cy="1637.53" r="5.8" fill="url(#g_green)"/>
<circle cx="706.37" cy="1636.5" r="5.8" fill="url(#g_green)"/>
<circle cx="717.12" cy="1636.53" r="5.8" fill="url(#g_green)"/>
<circle cx="727.88" cy="1636.96" r="5.8" fill="url(#g_green)"/>
<circle cx="103.97" cy="1584.29" r="5.8" fill="url(#g_navy)"/>
<circle cx="114.73" cy="1589.5" r="5.8" fill="url(#g_navy)"/>
<circle cx="125.49" cy="1590.81" r="5.8" fill="url(#g_navy)"/>
<circle cx="136.25" cy="1591.59" r="5.8" fill="url(#g_navy)"/>
<circle cx="147" cy="1568.91" r="5.8" fill="url(#g_navy)"/>
<circle cx="157.76" cy="1575.17" r="5.8" fill="url(#g_navy)"/>
<circle cx="168.52" cy="1576.21" r="5.8" fill="url(#g_navy)"/>
<circle cx="179.27" cy="1576.21" r="5.8" fill="url(#g_navy)"/>
<circle cx="190.03" cy="1577.25" r="5.8" fill="url(#g_navy)"/>
<circle cx="200.79" cy="1572.56" r="5.8" fill="url(#g_navy)"/>
<circle cx="211.54" cy="1573.08" r="5.8" fill="url(#g_navy)"/>
<circle cx="222.3" cy="1579.86" r="5.8" fill="url(#g_navy)"/>
<circle cx="233.06" cy="1579.08" r="5.8" fill="url(#g_navy)"/>
<circle cx="243.81" cy="1583.77" r="5.8" fill="url(#g_navy)"/>
<circle cx="254.57" cy="1580.64" r="5.8" fill="url(#g_navy)"/>
<circle cx="265.33" cy="1581.16" r="5.8" fill="url(#g_navy)"/>
<circle cx="276.09" cy="1587.42" r="5.8" fill="url(#g_navy)"/>
<circle cx="286.84" cy="1590.55" r="5.8" fill="url(#g_navy)"/>
<circle cx="297.6" cy="1583.25" r="5.8" fill="url(#g_navy)"/>
<circle cx="308.36" cy="1610.1" r="5.8" fill="url(#g_navy)"/>
<circle cx="319.11" cy="1614.53" r="5.8" fill="url(#g_navy)"/>
<circle cx="329.87" cy="1618.44" r="5.8" fill="url(#g_navy)"/>
<circle cx="340.63" cy="1621.83" r="5.8" fill="url(#g_navy)"/>
<circle cx="351.38" cy="1624.18" r="5.8" fill="url(#g_navy)"/>
<circle cx="362.14" cy="1686.48" r="5.8" fill="url(#g_navy)"/>
<circle cx="372.9" cy="1689.35" r="5.8" fill="url(#g_navy)"/>
<circle cx="383.66" cy="1689.35" r="5.8" fill="url(#g_navy)"/>
<circle cx="394.41" cy="1689.35" r="5.8" fill="url(#g_navy)"/>
<circle cx="405.17" cy="1689.35" r="5.8" fill="url(#g_navy)"/>
<circle cx="415.93" cy="1703.43" r="5.8" fill="url(#g_navy)"/>
<circle cx="426.68" cy="1705.78" r="5.8" fill="url(#g_navy)"/>
<circle cx="437.44" cy="1705.78" r="5.8" fill="url(#g_navy)"/>
<circle cx="448.2" cy="1705.78" r="5.8" fill="url(#g_navy)"/>
<circle cx="458.95" cy="1705.78" r="5.8" fill="url(#g_navy)"/>
<circle cx="469.71" cy="1629.13" r="5.8" fill="url(#g_navy)"/>
<circle cx="480.47" cy="1615.57" r="5.8" fill="url(#g_navy)"/>
<circle cx="491.23" cy="1617.4" r="5.8" fill="url(#g_navy)"/>
<circle cx="501.98" cy="1617.92" r="5.8" fill="url(#g_navy)"/>
<circle cx="512.74" cy="1617.4" r="5.8" fill="url(#g_navy)"/>
<circle cx="92.2" cy="1403.36" r="5.8" fill="url(#g_black)"/>
<circle cx="103.97" cy="1587.16" r="5.8" fill="url(#g_black)"/>
<circle cx="114.73" cy="1590.55" r="5.8" fill="url(#g_black)"/>
<circle cx="125.49" cy="1591.33" r="5.8" fill="url(#g_black)"/>
<circle cx="136.25" cy="1592.11" r="5.8" fill="url(#g_black)"/>
<circle cx="147" cy="1578.03" r="5.8" fill="url(#g_black)"/>
<circle cx="157.76" cy="1583.25" r="5.8" fill="url(#g_black)"/>
<circle cx="168.52" cy="1585.07" r="5.8" fill="url(#g_black)"/>
<circle cx="179.27" cy="1586.9" r="5.8" fill="url(#g_black)"/>
<circle cx="190.03" cy="1586.9" r="5.8" fill="url(#g_black)"/>
<circle cx="200.79" cy="1587.68" r="5.8" fill="url(#g_black)"/>
<circle cx="211.54" cy="1593.94" r="5.8" fill="url(#g_black)"/>
<circle cx="222.3" cy="1596.8" r="5.8" fill="url(#g_black)"/>
<circle cx="233.06" cy="1596.8" r="5.8" fill="url(#g_black)"/>
<circle cx="243.81" cy="1596.8" r="5.8" fill="url(#g_black)"/>
<circle cx="254.57" cy="1605.41" r="5.8" fill="url(#g_black)"/>
<circle cx="265.33" cy="1610.62" r="5.8" fill="url(#g_black)"/>
<circle cx="276.09" cy="1613.23" r="5.8" fill="url(#g_black)"/>
<circle cx="286.84" cy="1617.14" r="5.8" fill="url(#g_black)"/>
<circle cx="297.6" cy="1623.92" r="5.8" fill="url(#g_black)"/>
<circle cx="308.36" cy="1678.92" r="5.8" fill="url(#g_black)"/>
<circle cx="319.11" cy="1683.62" r="5.8" fill="url(#g_black)"/>
<circle cx="329.87" cy="1684.14" r="5.8" fill="url(#g_black)"/>
<circle cx="340.63" cy="1684.66" r="5.8" fill="url(#g_black)"/>
<circle cx="351.38" cy="1685.18" r="5.8" fill="url(#g_black)"/>
<circle cx="362.14" cy="1708.64" r="5.8" fill="url(#g_black)"/>
<circle cx="372.9" cy="1711.51" r="5.8" fill="url(#g_black)"/>
<circle cx="383.66" cy="1711.51" r="5.8" fill="url(#g_black)"/>
<circle cx="394.41" cy="1711.51" r="5.8" fill="url(#g_black)"/>
<circle cx="405.17" cy="1711.51" r="5.8" fill="url(#g_black)"/>
<circle cx="415.93" cy="1717.25" r="5.8" fill="url(#g_black)"/>
<circle cx="426.68" cy="1719.07" r="5.8" fill="url(#g_black)"/>
<circle cx="437.44" cy="1719.07" r="5.8" fill="url(#g_black)"/>
<circle cx="448.2" cy="1719.07" r="5.8" fill="url(#g_black)"/>
<circle cx="458.95" cy="1719.59" r="5.8" fill="url(#g_black)"/>
<circle cx="469.71" cy="1610.88" r="5.8" fill="url(#g_black)"/>
<circle cx="480.47" cy="1600.19" r="5.8" fill="url(#g_black)"/>
<circle cx="491.23" cy="1600.19" r="5.8" fill="url(#g_black)"/>
<circle cx="501.98" cy="1603.06" r="5.8" fill="url(#g_black)"/>
<circle cx="512.74" cy="1602.8" r="5.8" fill="url(#g_black)"/>
<circle cx="92.2" cy="1524.85" r="5.8" fill="url(#g_orange)"/>
<circle cx="103.97" cy="1573.86" r="5.8" fill="url(#g_orange)"/>
<circle cx="114.73" cy="1592.63" r="5.8" fill="url(#g_orange)"/>
<circle cx="125.49" cy="1594.46" r="5.8" fill="url(#g_orange)"/>
<circle cx="136.25" cy="1593.94" r="5.8" fill="url(#g_orange)"/>
<circle cx="147" cy="1591.07" r="5.8" fill="url(#g_orange)"/>
<circle cx="157.76" cy="1595.24" r="5.8" fill="url(#g_orange)"/>
<circle cx="168.52" cy="1597.59" r="5.8" fill="url(#g_orange)"/>
<circle cx="179.27" cy="1597.85" r="5.8" fill="url(#g_orange)"/>
<circle cx="190.03" cy="1600.19" r="5.8" fill="url(#g_orange)"/>
<circle cx="200.79" cy="1603.06" r="5.8" fill="url(#g_orange)"/>
<circle cx="211.54" cy="1605.67" r="5.8" fill="url(#g_orange)"/>
<circle cx="222.3" cy="1607.75" r="5.8" fill="url(#g_orange)"/>
<circle cx="233.06" cy="1607.75" r="5.8" fill="url(#g_orange)"/>
<circle cx="243.81" cy="1610.1" r="5.8" fill="url(#g_orange)"/>
<circle cx="254.57" cy="1620.79" r="5.8" fill="url(#g_orange)"/>
<circle cx="265.33" cy="1623.66" r="5.8" fill="url(#g_orange)"/>
<circle cx="276.09" cy="1623.66" r="5.8" fill="url(#g_orange)"/>
<circle cx="286.84" cy="1623.66" r="5.8" fill="url(#g_orange)"/>
<circle cx="297.6" cy="1623.66" r="5.8" fill="url(#g_orange)"/>
<circle cx="308.36" cy="1676.06" r="5.8" fill="url(#g_orange)"/>
<circle cx="319.11" cy="1679.71" r="5.8" fill="url(#g_orange)"/>
<circle cx="329.87" cy="1679.97" r="5.8" fill="url(#g_orange)"/>
<circle cx="340.63" cy="1680.23" r="5.8" fill="url(#g_orange)"/>
<circle cx="351.38" cy="1680.49" r="5.8" fill="url(#g_orange)"/>
<circle cx="362.14" cy="1702.91" r="5.8" fill="url(#g_orange)"/>
<circle cx="372.9" cy="1705.78" r="5.8" fill="url(#g_orange)"/>
<circle cx="383.66" cy="1705.78" r="5.8" fill="url(#g_orange)"/>
<circle cx="394.41" cy="1705.78" r="5.8" fill="url(#g_orange)"/>
<circle cx="405.17" cy="1705.78" r="5.8" fill="url(#g_orange)"/>
<circle cx="415.93" cy="1711.51" r="5.8" fill="url(#g_orange)"/>
<circle cx="426.68" cy="1713.34" r="5.8" fill="url(#g_orange)"/>
<circle cx="437.44" cy="1713.34" r="5.8" fill="url(#g_orange)"/>
<circle cx="448.2" cy="1713.34" r="5.8" fill="url(#g_orange)"/>
<circle cx="458.95" cy="1713.34" r="5.8" fill="url(#g_orange)"/>
<circle cx="469.71" cy="1620.53" r="5.8" fill="url(#g_orange)"/>
<circle cx="480.47" cy="1608.27" r="5.8" fill="url(#g_orange)"/>
<circle cx="491.23" cy="1609.58" r="5.8" fill="url(#g_orange)"/>
<circle cx="501.98" cy="1613.75" r="5.8" fill="url(#g_orange)"/>
<circle cx="512.74" cy="1612.97" r="5.8" fill="url(#g_orange)"/>
</g>
<circle cx="92.2" cy="1456.29" r="5.8" fill="url(#g_green)"/>
<circle cx="92.2" cy="1441.43" r="5.8" fill="url(#g_blue)"/>
<circle cx="92.2" cy="1424.22" r="5.8" fill="url(#g_red)"/>
<circle cx="92.2" cy="1403.36" r="5.8" fill="url(#g_black)"/>
<circle cx="92.2" cy="1524.85" r="5.8" fill="url(#g_orange)"/>
<line x1="98.3" y1="1390.8" x2="728" y2="1390.8" stroke="#000" stroke-width="1.4" />
<line x1="747.3" y1="1390.8" x2="1163.5" y2="1390.8" stroke="#000" stroke-width="1.4" />
<line x1="98.3" y1="1755.4" x2="728" y2="1755.4" stroke="#000" stroke-width="1.4" />
<line x1="747.3" y1="1755.4" x2="1163.5" y2="1755.4" stroke="#000" stroke-width="1.4" />
<line x1="98.3" y1="1390.8" x2="98.3" y2="1755.4" stroke="#000" stroke-width="1.4" />
<line x1="1163.5" y1="1390.8" x2="1163.5" y2="1755.4" stroke="#000" stroke-width="1.4" />
<line x1="718.3" y1="1398.3" x2="736.7" y2="1384.2" stroke="#000" stroke-width="1.5" />
<line x1="737.5" y1="1398.3" x2="755.8" y2="1384.2" stroke="#000" stroke-width="1.5" />
<line x1="718.3" y1="1762.9" x2="736.7" y2="1748.8" stroke="#000" stroke-width="1.5" />
<line x1="737.5" y1="1762.9" x2="755.8" y2="1748.8" stroke="#000" stroke-width="1.5" />
<line x1="98.3" y1="1729.5" x2="91.1" y2="1729.5" stroke="#000" stroke-width="1.4" />
<text x="82.6" y="1735.9" font-size="17.5" text-anchor="end" fill="#000" font-weight="normal" >0</text>
<line x1="98.3" y1="1677.36" x2="91.1" y2="1677.36" stroke="#000" stroke-width="1.4" />
<text x="82.6" y="1683.76" font-size="17.5" text-anchor="end" fill="#000" font-weight="normal" >200</text>
<line x1="98.3" y1="1625.22" x2="91.1" y2="1625.22" stroke="#000" stroke-width="1.4" />
<text x="82.6" y="1631.62" font-size="17.5" text-anchor="end" fill="#000" font-weight="normal" >400</text>
<line x1="98.3" y1="1573.08" x2="91.1" y2="1573.08" stroke="#000" stroke-width="1.4" />
<text x="82.6" y="1579.48" font-size="17.5" text-anchor="end" fill="#000" font-weight="normal" >600</text>
<line x1="98.3" y1="1520.94" x2="91.1" y2="1520.94" stroke="#000" stroke-width="1.4" />
<text x="82.6" y="1527.34" font-size="17.5" text-anchor="end" fill="#000" font-weight="normal" >800</text>
<line x1="98.3" y1="1468.8" x2="91.1" y2="1468.8" stroke="#000" stroke-width="1.4" />
<text x="82.6" y="1475.2" font-size="17.5" text-anchor="end" fill="#000" font-weight="normal" >1000</text>
<line x1="98.3" y1="1416.66" x2="91.1" y2="1416.66" stroke="#000" stroke-width="1.4" />
<text x="82.6" y="1423.06" font-size="17.5" text-anchor="end" fill="#000" font-weight="normal" >1200</text>
<line x1="98.3" y1="1755.57" x2="94.8" y2="1755.57" stroke="#000" stroke-width="1.4" />
<line x1="98.3" y1="1703.43" x2="94.8" y2="1703.43" stroke="#000" stroke-width="1.4" />
<line x1="98.3" y1="1651.29" x2="94.8" y2="1651.29" stroke="#000" stroke-width="1.4" />
<line x1="98.3" y1="1599.15" x2="94.8" y2="1599.15" stroke="#000" stroke-width="1.4" />
<line x1="98.3" y1="1547.01" x2="94.8" y2="1547.01" stroke="#000" stroke-width="1.4" />
<line x1="98.3" y1="1494.87" x2="94.8" y2="1494.87" stroke="#000" stroke-width="1.4" />
<line x1="98.3" y1="1442.73" x2="94.8" y2="1442.73" stroke="#000" stroke-width="1.4" />
<line x1="98.3" y1="1390.59" x2="94.8" y2="1390.59" stroke="#000" stroke-width="1.4" />
<line x1="136.25" y1="1755.4" x2="136.25" y2="1761.4" stroke="#000" stroke-width="1.4" />
<text x="136.25" y="1783.75" font-size="18" text-anchor="middle" fill="#000" font-weight="normal" >5</text>
<line x1="190.03" y1="1755.4" x2="190.03" y2="1761.4" stroke="#000" stroke-width="1.4" />
<text x="190.03" y="1783.75" font-size="18" text-anchor="middle" fill="#000" font-weight="normal" >10</text>
<line x1="243.81" y1="1755.4" x2="243.81" y2="1761.4" stroke="#000" stroke-width="1.4" />
<text x="243.81" y="1783.75" font-size="18" text-anchor="middle" fill="#000" font-weight="normal" >15</text>
<line x1="297.6" y1="1755.4" x2="297.6" y2="1761.4" stroke="#000" stroke-width="1.4" />
<text x="297.6" y="1783.75" font-size="18" text-anchor="middle" fill="#000" font-weight="normal" >20</text>
<line x1="351.38" y1="1755.4" x2="351.38" y2="1761.4" stroke="#000" stroke-width="1.4" />
<text x="351.38" y="1783.75" font-size="18" text-anchor="middle" fill="#000" font-weight="normal" >25</text>
<line x1="405.17" y1="1755.4" x2="405.17" y2="1761.4" stroke="#000" stroke-width="1.4" />
<text x="405.17" y="1783.75" font-size="18" text-anchor="middle" fill="#000" font-weight="normal" >30</text>
<line x1="458.95" y1="1755.4" x2="458.95" y2="1761.4" stroke="#000" stroke-width="1.4" />
<text x="458.95" y="1783.75" font-size="18" text-anchor="middle" fill="#000" font-weight="normal" >35</text>
<line x1="512.74" y1="1755.4" x2="512.74" y2="1761.4" stroke="#000" stroke-width="1.4" />
<text x="512.74" y="1783.75" font-size="18" text-anchor="middle" fill="#000" font-weight="normal" >40</text>
<line x1="566.52" y1="1755.4" x2="566.52" y2="1761.4" stroke="#000" stroke-width="1.4" />
<text x="566.52" y="1783.75" font-size="18" text-anchor="middle" fill="#000" font-weight="normal" >45</text>
<line x1="620.31" y1="1755.4" x2="620.31" y2="1761.4" stroke="#000" stroke-width="1.4" />
<text x="620.31" y="1783.75" font-size="18" text-anchor="middle" fill="#000" font-weight="normal" >50</text>
<line x1="674.1" y1="1755.4" x2="674.1" y2="1761.4" stroke="#000" stroke-width="1.4" />
<text x="674.1" y="1783.75" font-size="18" text-anchor="middle" fill="#000" font-weight="normal" >55</text>
<line x1="109.35" y1="1755.4" x2="109.35" y2="1759.3" stroke="#000" stroke-width="1.4" />
<line x1="163.14" y1="1755.4" x2="163.14" y2="1759.3" stroke="#000" stroke-width="1.4" />
<line x1="216.92" y1="1755.4" x2="216.92" y2="1759.3" stroke="#000" stroke-width="1.4" />
<line x1="270.71" y1="1755.4" x2="270.71" y2="1759.3" stroke="#000" stroke-width="1.4" />
<line x1="324.49" y1="1755.4" x2="324.49" y2="1759.3" stroke="#000" stroke-width="1.4" />
<line x1="378.28" y1="1755.4" x2="378.28" y2="1759.3" stroke="#000" stroke-width="1.4" />
<line x1="432.06" y1="1755.4" x2="432.06" y2="1759.3" stroke="#000" stroke-width="1.4" />
<line x1="485.85" y1="1755.4" x2="485.85" y2="1759.3" stroke="#000" stroke-width="1.4" />
<line x1="539.63" y1="1755.4" x2="539.63" y2="1759.3" stroke="#000" stroke-width="1.4" />
<line x1="593.42" y1="1755.4" x2="593.42" y2="1759.3" stroke="#000" stroke-width="1.4" />
<line x1="647.2" y1="1755.4" x2="647.2" y2="1759.3" stroke="#000" stroke-width="1.4" />
<line x1="700.99" y1="1755.4" x2="700.99" y2="1759.3" stroke="#000" stroke-width="1.4" />
<line x1="746" y1="1755.4" x2="746" y2="1761.4" stroke="#000" stroke-width="1.4" />
<text x="746" y="1783.75" font-size="18" text-anchor="middle" fill="#000" font-weight="normal" >80</text>
<line x1="815.6" y1="1755.4" x2="815.6" y2="1761.4" stroke="#000" stroke-width="1.4" />
<text x="815.6" y="1783.75" font-size="18" text-anchor="middle" fill="#000" font-weight="normal" >100</text>
<line x1="885.2" y1="1755.4" x2="885.2" y2="1761.4" stroke="#000" stroke-width="1.4" />
<text x="885.2" y="1783.75" font-size="18" text-anchor="middle" fill="#000" font-weight="normal" >120</text>
<line x1="954.8" y1="1755.4" x2="954.8" y2="1761.4" stroke="#000" stroke-width="1.4" />
<text x="954.8" y="1783.75" font-size="18" text-anchor="middle" fill="#000" font-weight="normal" >140</text>
<line x1="1024.4" y1="1755.4" x2="1024.4" y2="1761.4" stroke="#000" stroke-width="1.4" />
<text x="1024.4" y="1783.75" font-size="18" text-anchor="middle" fill="#000" font-weight="normal" >160</text>
<line x1="1094" y1="1755.4" x2="1094" y2="1761.4" stroke="#000" stroke-width="1.4" />
<text x="1094" y="1783.75" font-size="18" text-anchor="middle" fill="#000" font-weight="normal" >180</text>
<line x1="1163.6" y1="1755.4" x2="1163.6" y2="1761.4" stroke="#000" stroke-width="1.4" />
<text x="1163.6" y="1783.75" font-size="18" text-anchor="middle" fill="#000" font-weight="normal" >200</text>
<line x1="780.8" y1="1755.4" x2="780.8" y2="1759.3" stroke="#000" stroke-width="1.4" />
<line x1="850.4" y1="1755.4" x2="850.4" y2="1759.3" stroke="#000" stroke-width="1.4" />
<line x1="920" y1="1755.4" x2="920" y2="1759.3" stroke="#000" stroke-width="1.4" />
<line x1="989.6" y1="1755.4" x2="989.6" y2="1759.3" stroke="#000" stroke-width="1.4" />
<line x1="1059.2" y1="1755.4" x2="1059.2" y2="1759.3" stroke="#000" stroke-width="1.4" />
<line x1="1128.8" y1="1755.4" x2="1128.8" y2="1759.3" stroke="#000" stroke-width="1.4" />
<text x="630" y="1807" font-size="18" text-anchor="middle" fill="#000" font-weight="normal" >Cycle (n)</text>
<text x="29.4" y="1573.5" font-size="18" text-anchor="middle" fill="#000" font-weight="normal" transform="rotate(-90 29.4 1573.5)" >Discharge capacity (mAh g<tspan font-size="11.16" dy="-6.84">−1</tspan><tspan dy="6.84">)</tspan></text>
<text x="-1" y="1410.5" font-size="30" text-anchor="start" fill="#000" font-weight="bold" >h</text>
<text x="103.2" y="1563.3" font-size="12.3" text-anchor="start" fill="#000" font-weight="normal" >50 mA g<tspan font-size="7.63" dy="-4.67">−1</tspan></text>
<text x="138.7" y="1547" font-size="12.3" text-anchor="start" fill="#000" font-weight="normal" >100 mA g<tspan font-size="7.63" dy="-4.67">−1</tspan></text>
<text x="194.4" y="1556.9" font-size="12.3" text-anchor="start" fill="#000" font-weight="normal" >150 mA g<tspan font-size="7.63" dy="-4.67">−1</tspan></text>
<text x="247.3" y="1568.5" font-size="12.3" text-anchor="start" fill="#000" font-weight="normal" >250 mA g<tspan font-size="7.63" dy="-4.67">−1</tspan></text>
<text x="306.1" y="1593.5" font-size="12.3" text-anchor="start" fill="#000" font-weight="normal" >500 mA g<tspan font-size="7.63" dy="-4.67">−1</tspan></text>
<text x="365.5" y="1653" font-size="12.3" text-anchor="start" fill="#000" font-weight="normal" >1 A g<tspan font-size="7.63" dy="-4.67">−1</tspan></text>
<text x="420" y="1675" font-size="12.3" text-anchor="start" fill="#000" font-weight="normal" >2 A g<tspan font-size="7.63" dy="-4.67">−1</tspan></text>
<text x="465.2" y="1586.8" font-size="12.3" text-anchor="start" fill="#000" font-weight="normal" >50 mA g<tspan font-size="7.63" dy="-4.67">−1</tspan></text>
<text x="780" y="1599.2" font-size="12.3" text-anchor="start" fill="#000" font-weight="normal" >500 mA g<tspan font-size="7.63" dy="-4.67">−1</tspan></text>
<circle cx="887.25" cy="1441.5" r="6" fill="url(#g_blue)"/>
<text x="907.5" y="1447.5" font-size="14.6" text-anchor="start" fill="#000" font-weight="normal" >SBS/C (E/W = 1:1)</text>
<circle cx="887.25" cy="1462.75" r="6" fill="url(#g_red)"/>
<text x="907.5" y="1468.75" font-size="14.6" text-anchor="start" fill="#000" font-weight="normal" >SBS/C (E/W = 2:1)</text>
<circle cx="887.25" cy="1484" r="6" fill="url(#g_green)"/>
<text x="907.5" y="1490" font-size="14.6" text-anchor="start" fill="#000" font-weight="normal" >SBS/C (E/W = 6:1)</text>
<circle cx="887.25" cy="1505.25" r="6" fill="url(#g_navy)"/>
<text x="907.5" y="1511.25" font-size="14.6" text-anchor="start" fill="#000" font-weight="normal" >SBS/C (E/W = 8:1)</text>
<circle cx="887.25" cy="1526.5" r="6" fill="url(#g_black)"/>
<text x="907.5" y="1532.5" font-size="14.6" text-anchor="start" fill="#000" font-weight="normal" >SBS/C (E/W = 16:1)</text>
<circle cx="887.25" cy="1547.75" r="6" fill="url(#g_orange)"/>
<text x="907.5" y="1553.75" font-size="14.6" text-anchor="start" fill="#000" font-weight="normal" >SBS/C (E/W = 32:1)</text></svg></body></html>
